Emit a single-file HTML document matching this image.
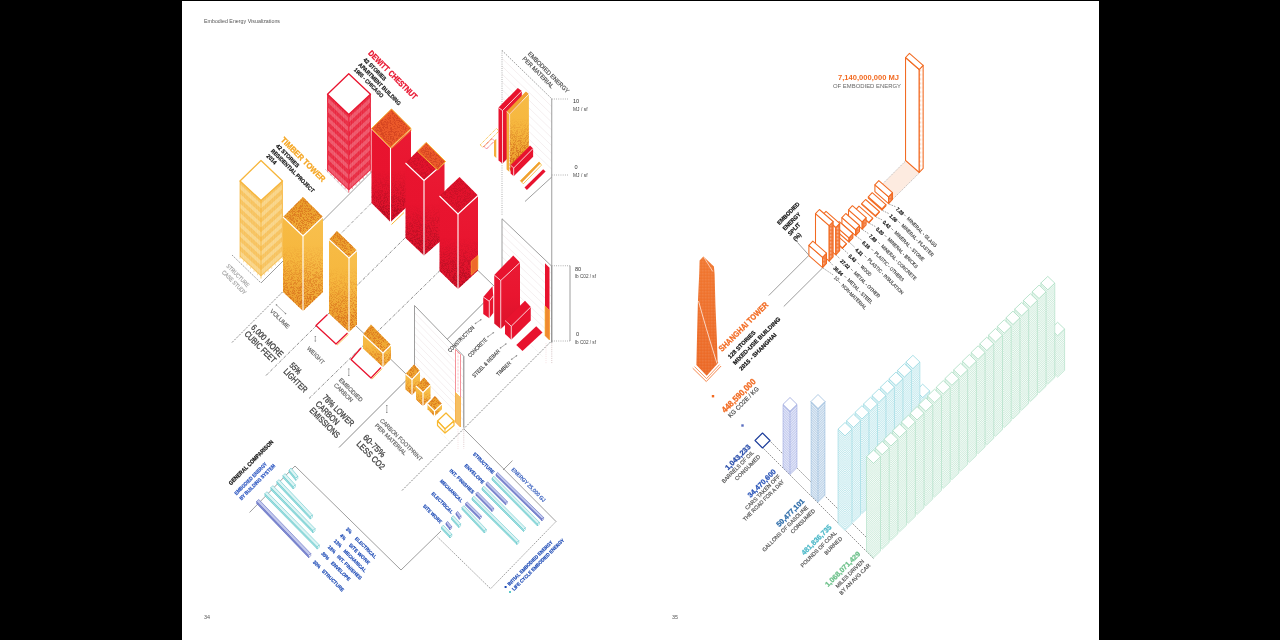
<!DOCTYPE html>
<html><head><meta charset="utf-8"><title>Embodied Energy Visualizations</title>
<style>
html,body{margin:0;padding:0;background:#fff;}
body{width:1280px;height:640px;overflow:hidden;position:relative;font-family:"Liberation Sans",sans-serif;}
svg{position:absolute;left:0;top:0;display:block;}
svg text{font-family:"Liberation Sans",sans-serif;}
</style></head><body>
<svg width="1280" height="640" viewBox="0 0 1280 640">
<defs>
<linearGradient id="gy" x1="0" y1="0" x2="0" y2="1"><stop offset="0" stop-color="#f7bb45"/><stop offset="0.45" stop-color="#f6b73e"/><stop offset="1" stop-color="#e9982a"/></linearGradient>
<linearGradient id="gy2" x1="0" y1="0" x2="0" y2="1"><stop offset="0" stop-color="#f8c04e"/><stop offset="0.45" stop-color="#f7bb45"/><stop offset="1" stop-color="#eca030"/></linearGradient>
<linearGradient id="gyt" x1="0" y1="0" x2="0" y2="1"><stop offset="0" stop-color="#e89a28"/><stop offset="1" stop-color="#f3b03a"/></linearGradient>
<linearGradient id="gr" x1="0" y1="0" x2="0" y2="1"><stop offset="0" stop-color="#e9142f"/><stop offset="0.5" stop-color="#e8132e"/><stop offset="1" stop-color="#d8122a"/></linearGradient>
<linearGradient id="gr2" x1="0" y1="0" x2="0" y2="1"><stop offset="0" stop-color="#ea1a34"/><stop offset="0.5" stop-color="#e9152f"/><stop offset="1" stop-color="#db122b"/></linearGradient>
<linearGradient id="go" x1="0" y1="0" x2="0" y2="1"><stop offset="0" stop-color="#f0732a"/><stop offset="1" stop-color="#ea6420"/></linearGradient>
<filter id="grain" x="0" y="0" width="100%" height="100%" color-interpolation-filters="sRGB"><feTurbulence type="fractalNoise" baseFrequency="2.7" numOctaves="1" seed="7" result="n"/><feColorMatrix in="n" type="matrix" values="0 0 0 0 0  0 0 0 0 0  0 0 0 0 0  0 0 0 7 -3.2" result="a"/><feComposite in="SourceGraphic" in2="a" operator="in"/></filter>
<linearGradient id="ggY" x1="0" y1="0" x2="0" y2="1"><stop offset="0.3" stop-color="#d8701c" stop-opacity="0"/><stop offset="1" stop-color="#d8701c" stop-opacity="1"/></linearGradient>
<linearGradient id="ggR" x1="0" y1="0" x2="0" y2="1"><stop offset="0.45" stop-color="#a30d1e" stop-opacity="0"/><stop offset="1" stop-color="#a30d1e" stop-opacity="0.8"/></linearGradient>
<pattern id="wgridY" width="1.6" height="1.6" patternUnits="userSpaceOnUse"><rect width="1.6" height="1.6" fill="#f6b53a"/><rect x="0.9" y="0.9" width="0.7" height="0.7" fill="#fff"/></pattern>
<pattern id="wgridR" width="1.6" height="1.6" patternUnits="userSpaceOnUse"><rect width="1.6" height="1.6" fill="#e8132e"/><rect x="0.9" y="0.9" width="0.7" height="0.7" fill="#fff"/></pattern>
<pattern id="dotW" width="1.5" height="1.5" patternUnits="userSpaceOnUse"><rect x="0.3" y="0.3" width="0.6" height="0.6" fill="#fff" fill-opacity="0.4"/></pattern>
<linearGradient id="ggO" x1="0" y1="0" x2="0" y2="1"><stop offset="0.3" stop-color="#c85a14" stop-opacity="0"/><stop offset="1" stop-color="#c85a14" stop-opacity="0.9"/></linearGradient>
<pattern id="hatL" width="1.3" height="1.3" patternUnits="userSpaceOnUse"><rect width="1.3" height="1.3" fill="#fff"/><rect width="0.5" height="0.6" fill="#f9b08a"/></pattern>
<pattern id="hatO" width="1.4" height="1.4" patternUnits="userSpaceOnUse"><rect width="1.4" height="1.4" fill="#f3793a"/><rect width="0.6" height="0.6" fill="#fbd0b8"/></pattern>
</defs>
<rect x="0" y="0" width="1280" height="640" fill="#fff"/>
<g opacity="0.999">

<rect x="0" y="0" width="182" height="640" fill="#000"/>
<rect x="1099" y="0" width="181" height="640" fill="#000"/>
<rect x="0" y="0" width="1280" height="1" fill="#000"/>
<text x="204" y="23.2" font-size="5.8" fill="#555" textLength="76" lengthAdjust="spacingAndGlyphs" text-anchor="start">Embodied Energy Visualizations</text>
<text x="204" y="619.3" font-size="5.3" fill="#555" textLength="6" lengthAdjust="spacingAndGlyphs" text-anchor="start">34</text>
<text x="672" y="619.3" font-size="5.3" fill="#555" textLength="6" lengthAdjust="spacingAndGlyphs" text-anchor="start">35</text>
<line x1="232.00" y1="342.50" x2="283.00" y2="291.50" stroke="#858585" stroke-width="0.95" stroke-dasharray="2 1.3" />
<line x1="266.00" y1="375.50" x2="406.00" y2="237.00" stroke="#858585" stroke-width="0.95" stroke-dasharray="3 1.2 0.8 1.2" />
<line x1="309.00" y1="398.50" x2="440.00" y2="270.50" stroke="#858585" stroke-width="0.95" stroke-dasharray="3 1.2 0.8 1.2" />
<line x1="339.00" y1="447.50" x2="485.00" y2="301.50" stroke="#858585" stroke-width="0.95" />
<line x1="402.00" y1="490.50" x2="551.50" y2="341.00" stroke="#858585" stroke-width="0.95" stroke-dasharray="2 1.3" />
<line x1="315.00" y1="228.50" x2="380.00" y2="163.50" stroke="#858585" stroke-width="0.8" />
<line x1="334.00" y1="240.50" x2="376.00" y2="198.50" stroke="#858585" stroke-width="0.8" stroke-dasharray="3 1.2 0.8 1.2" />
<line x1="232.00" y1="255.00" x2="261.00" y2="283.00" stroke="#858585" stroke-width="0.8" stroke-dasharray="1.5 1" />
<line x1="261.00" y1="283.00" x2="283.00" y2="261.00" stroke="#858585" stroke-width="0.8" />
<line x1="325.00" y1="169.00" x2="348.50" y2="193.00" stroke="#c8c8c8" stroke-width="0.6" />
<line x1="356.00" y1="326.00" x2="364.00" y2="333.50" stroke="#858585" stroke-width="0.8" />
<line x1="391.00" y1="359.50" x2="406.00" y2="374.00" stroke="#858585" stroke-width="0.8" />
<line x1="478.00" y1="270.50" x2="494.00" y2="286.00" stroke="#858585" stroke-width="0.8" />
<line x1="464.00" y1="429.00" x2="556.00" y2="521.50" stroke="#858585" stroke-width="0.8" />
<polygon points="502.00,50.50 551.75,98.75 551.75,177.00 502.00,128.75" fill="#fff" stroke="none" stroke-width="0.8" stroke-linejoin="round" />
<line x1="502.00" y1="58.33" x2="551.75" y2="106.58" stroke="#eadfe0" stroke-width="0.5" />
<line x1="502.00" y1="66.15" x2="551.75" y2="114.40" stroke="#eadfe0" stroke-width="0.5" />
<line x1="502.00" y1="73.97" x2="551.75" y2="122.22" stroke="#eadfe0" stroke-width="0.5" />
<line x1="502.00" y1="81.80" x2="551.75" y2="130.05" stroke="#eadfe0" stroke-width="0.5" />
<line x1="502.00" y1="89.62" x2="551.75" y2="137.88" stroke="#eadfe0" stroke-width="0.5" />
<line x1="502.00" y1="97.45" x2="551.75" y2="145.70" stroke="#eadfe0" stroke-width="0.5" />
<line x1="502.00" y1="105.28" x2="551.75" y2="153.53" stroke="#eadfe0" stroke-width="0.5" />
<line x1="502.00" y1="113.10" x2="551.75" y2="161.35" stroke="#eadfe0" stroke-width="0.5" />
<line x1="502.00" y1="120.92" x2="551.75" y2="169.18" stroke="#eadfe0" stroke-width="0.5" />
<line x1="502.00" y1="50.50" x2="551.75" y2="98.75" stroke="#858585" stroke-width="0.8" stroke-dasharray="1.6 1.2" />
<line x1="502.00" y1="50.50" x2="502.00" y2="128.75" stroke="#858585" stroke-width="0.8" stroke-dasharray="0.8 1.4" />
<line x1="551.75" y1="98.75" x2="551.75" y2="177.00" stroke="#858585" stroke-width="0.8" />
<line x1="502.00" y1="128.00" x2="502.00" y2="215.00" stroke="#858585" stroke-width="0.8" stroke-dasharray="0.8 1.4" />
<line x1="551.75" y1="177.00" x2="525.00" y2="201.50" stroke="#858585" stroke-width="0.8" />
<line x1="551.75" y1="99.00" x2="568.50" y2="99.00" stroke="#858585" stroke-width="0.8" stroke-dasharray="0.8 1.4" />
<line x1="551.75" y1="175.00" x2="568.50" y2="175.00" stroke="#858585" stroke-width="0.8" stroke-dasharray="0.8 1.4" />
<text x="573" y="103" font-size="5.6" fill="#333" text-anchor="start">10</text>
<text x="573" y="110.8" font-size="4.8" fill="#444" textLength="14.5" lengthAdjust="spacingAndGlyphs" text-anchor="start">MJ / sf</text>
<text x="574.5" y="169" font-size="5.6" fill="#333" text-anchor="start">0</text>
<text x="573" y="176.8" font-size="4.8" fill="#444" textLength="14.5" lengthAdjust="spacingAndGlyphs" text-anchor="start">MJ / sf</text>
<polygon points="502.00,218.75 551.75,266.25 551.75,342.50 502.00,295.00" fill="#fff" stroke="none" stroke-width="0.8" stroke-linejoin="round" />
<line x1="502.00" y1="226.38" x2="551.75" y2="273.88" stroke="#eadfe0" stroke-width="0.5" />
<line x1="502.00" y1="234.00" x2="551.75" y2="281.50" stroke="#eadfe0" stroke-width="0.5" />
<line x1="502.00" y1="241.62" x2="551.75" y2="289.12" stroke="#eadfe0" stroke-width="0.5" />
<line x1="502.00" y1="249.25" x2="551.75" y2="296.75" stroke="#eadfe0" stroke-width="0.5" />
<line x1="502.00" y1="256.88" x2="551.75" y2="304.38" stroke="#eadfe0" stroke-width="0.5" />
<line x1="502.00" y1="264.50" x2="551.75" y2="312.00" stroke="#eadfe0" stroke-width="0.5" />
<line x1="502.00" y1="272.12" x2="551.75" y2="319.62" stroke="#eadfe0" stroke-width="0.5" />
<line x1="502.00" y1="279.75" x2="551.75" y2="327.25" stroke="#eadfe0" stroke-width="0.5" />
<line x1="502.00" y1="287.38" x2="551.75" y2="334.88" stroke="#eadfe0" stroke-width="0.5" />
<line x1="502.00" y1="218.75" x2="551.75" y2="266.25" stroke="#858585" stroke-width="0.8" />
<line x1="502.00" y1="218.75" x2="502.00" y2="295.00" stroke="#858585" stroke-width="0.8" />
<line x1="551.75" y1="266.25" x2="551.75" y2="342.50" stroke="#858585" stroke-width="0.8" />
<line x1="551.75" y1="177.00" x2="551.75" y2="342.50" stroke="#858585" stroke-width="0.8" />
<line x1="551.75" y1="342.50" x2="551.75" y2="363.00" stroke="#c0c0c0" stroke-width="0.8" stroke-dasharray="0.8 1.4" />
<line x1="551.75" y1="265.75" x2="570.00" y2="265.75" stroke="#858585" stroke-width="0.8" stroke-dasharray="0.8 1.4" />
<line x1="551.75" y1="341.00" x2="570.00" y2="341.00" stroke="#858585" stroke-width="0.8" stroke-dasharray="0.8 1.4" />
<line x1="570.00" y1="265.75" x2="570.00" y2="341.00" stroke="#858585" stroke-width="0.8" />
<text x="575" y="271.2" font-size="5.6" fill="#333" text-anchor="start">80</text>
<text x="575" y="278" font-size="4.8" fill="#444" textLength="21" lengthAdjust="spacingAndGlyphs" text-anchor="start">lb C02 / sf</text>
<text x="576" y="336.3" font-size="5.6" fill="#333" text-anchor="start">0</text>
<text x="575" y="343.5" font-size="4.8" fill="#444" textLength="21" lengthAdjust="spacingAndGlyphs" text-anchor="start">lb C02 / sf</text>
<polygon points="414.50,305.50 463.75,356.25 463.75,427.50 414.50,376.75" fill="#fff" stroke="none" stroke-width="0.8" stroke-linejoin="round" />
<line x1="414.50" y1="312.62" x2="463.75" y2="363.38" stroke="#eadfe0" stroke-width="0.5" />
<line x1="414.50" y1="319.75" x2="463.75" y2="370.50" stroke="#eadfe0" stroke-width="0.5" />
<line x1="414.50" y1="326.88" x2="463.75" y2="377.62" stroke="#eadfe0" stroke-width="0.5" />
<line x1="414.50" y1="334.00" x2="463.75" y2="384.75" stroke="#eadfe0" stroke-width="0.5" />
<line x1="414.50" y1="341.12" x2="463.75" y2="391.88" stroke="#eadfe0" stroke-width="0.5" />
<line x1="414.50" y1="348.25" x2="463.75" y2="399.00" stroke="#eadfe0" stroke-width="0.5" />
<line x1="414.50" y1="355.38" x2="463.75" y2="406.12" stroke="#eadfe0" stroke-width="0.5" />
<line x1="414.50" y1="362.50" x2="463.75" y2="413.25" stroke="#eadfe0" stroke-width="0.5" />
<line x1="414.50" y1="369.62" x2="463.75" y2="420.38" stroke="#eadfe0" stroke-width="0.5" />
<line x1="414.50" y1="305.50" x2="463.75" y2="356.25" stroke="#858585" stroke-width="0.8" />
<line x1="414.50" y1="305.50" x2="414.50" y2="376.75" stroke="#858585" stroke-width="0.8" />
<line x1="463.75" y1="356.25" x2="463.75" y2="427.50" stroke="#858585" stroke-width="0.8" />
<polygon points="327.50,94.25 348.75,114.50 348.75,190.50 327.50,170.25" fill="#e9263e" stroke="none" stroke-width="0.8" stroke-linejoin="round" />
<polygon points="348.75,114.50 370.50,94.25 370.50,170.25 348.75,190.50" fill="#e9263e" stroke="none" stroke-width="0.8" stroke-linejoin="round" />
<polygon points="327.50,97.58 348.75,117.83 370.50,97.58 370.50,102.14 348.75,122.39 327.50,102.14" fill="#ee5266" stroke="none" stroke-width="0.8" stroke-linejoin="round" />
<polygon points="327.50,107.08 348.75,127.33 370.50,107.08 370.50,111.64 348.75,131.88 327.50,111.64" fill="#ee5266" stroke="none" stroke-width="0.8" stroke-linejoin="round" />
<polygon points="327.50,116.58 348.75,136.82 370.50,116.58 370.50,121.14 348.75,141.38 327.50,121.14" fill="#ee5266" stroke="none" stroke-width="0.8" stroke-linejoin="round" />
<polygon points="327.50,126.08 348.75,146.32 370.50,126.08 370.50,130.63 348.75,150.88 327.50,130.63" fill="#ee5266" stroke="none" stroke-width="0.8" stroke-linejoin="round" />
<polygon points="327.50,135.57 348.75,155.82 370.50,135.57 370.50,140.13 348.75,160.38 327.50,140.13" fill="#ee5266" stroke="none" stroke-width="0.8" stroke-linejoin="round" />
<polygon points="327.50,145.07 348.75,165.32 370.50,145.07 370.50,149.63 348.75,169.88 327.50,149.63" fill="#ee5266" stroke="none" stroke-width="0.8" stroke-linejoin="round" />
<polygon points="327.50,154.57 348.75,174.82 370.50,154.57 370.50,159.13 348.75,179.38 327.50,159.13" fill="#ee5266" stroke="none" stroke-width="0.8" stroke-linejoin="round" />
<polygon points="327.50,164.07 348.75,184.32 370.50,164.07 370.50,168.63 348.75,188.88 327.50,168.63" fill="#ee5266" stroke="none" stroke-width="0.8" stroke-linejoin="round" />
<line x1="329.27" y1="95.94" x2="329.27" y2="171.94" stroke="#fff" stroke-width="0.3" stroke-opacity="0.55" stroke-dasharray="0.8 0.5"/>
<line x1="350.56" y1="112.81" x2="350.56" y2="188.81" stroke="#fff" stroke-width="0.3" stroke-opacity="0.55" stroke-dasharray="0.8 0.5"/>
<line x1="331.04" y1="97.62" x2="331.04" y2="173.62" stroke="#fff" stroke-width="0.3" stroke-opacity="0.55" stroke-dasharray="0.8 0.5"/>
<line x1="352.38" y1="111.12" x2="352.38" y2="187.12" stroke="#fff" stroke-width="0.3" stroke-opacity="0.55" stroke-dasharray="0.8 0.5"/>
<line x1="332.81" y1="99.31" x2="332.81" y2="175.31" stroke="#fff" stroke-width="0.3" stroke-opacity="0.55" stroke-dasharray="0.8 0.5"/>
<line x1="354.19" y1="109.44" x2="354.19" y2="185.44" stroke="#fff" stroke-width="0.3" stroke-opacity="0.55" stroke-dasharray="0.8 0.5"/>
<line x1="334.58" y1="101.00" x2="334.58" y2="177.00" stroke="#fff" stroke-width="0.3" stroke-opacity="0.55" stroke-dasharray="0.8 0.5"/>
<line x1="356.00" y1="107.75" x2="356.00" y2="183.75" stroke="#fff" stroke-width="0.3" stroke-opacity="0.55" stroke-dasharray="0.8 0.5"/>
<line x1="336.35" y1="102.69" x2="336.35" y2="178.69" stroke="#fff" stroke-width="0.3" stroke-opacity="0.55" stroke-dasharray="0.8 0.5"/>
<line x1="357.81" y1="106.06" x2="357.81" y2="182.06" stroke="#fff" stroke-width="0.3" stroke-opacity="0.55" stroke-dasharray="0.8 0.5"/>
<line x1="338.12" y1="104.38" x2="338.12" y2="180.38" stroke="#fff" stroke-width="0.3" stroke-opacity="0.55" stroke-dasharray="0.8 0.5"/>
<line x1="359.62" y1="104.38" x2="359.62" y2="180.38" stroke="#fff" stroke-width="0.3" stroke-opacity="0.55" stroke-dasharray="0.8 0.5"/>
<line x1="339.90" y1="106.06" x2="339.90" y2="182.06" stroke="#fff" stroke-width="0.3" stroke-opacity="0.55" stroke-dasharray="0.8 0.5"/>
<line x1="361.44" y1="102.69" x2="361.44" y2="178.69" stroke="#fff" stroke-width="0.3" stroke-opacity="0.55" stroke-dasharray="0.8 0.5"/>
<line x1="341.67" y1="107.75" x2="341.67" y2="183.75" stroke="#fff" stroke-width="0.3" stroke-opacity="0.55" stroke-dasharray="0.8 0.5"/>
<line x1="363.25" y1="101.00" x2="363.25" y2="177.00" stroke="#fff" stroke-width="0.3" stroke-opacity="0.55" stroke-dasharray="0.8 0.5"/>
<line x1="343.44" y1="109.44" x2="343.44" y2="185.44" stroke="#fff" stroke-width="0.3" stroke-opacity="0.55" stroke-dasharray="0.8 0.5"/>
<line x1="365.06" y1="99.31" x2="365.06" y2="175.31" stroke="#fff" stroke-width="0.3" stroke-opacity="0.55" stroke-dasharray="0.8 0.5"/>
<line x1="345.21" y1="111.12" x2="345.21" y2="187.12" stroke="#fff" stroke-width="0.3" stroke-opacity="0.55" stroke-dasharray="0.8 0.5"/>
<line x1="366.88" y1="97.62" x2="366.88" y2="173.62" stroke="#fff" stroke-width="0.3" stroke-opacity="0.55" stroke-dasharray="0.8 0.5"/>
<line x1="346.98" y1="112.81" x2="346.98" y2="188.81" stroke="#fff" stroke-width="0.3" stroke-opacity="0.55" stroke-dasharray="0.8 0.5"/>
<line x1="368.69" y1="95.94" x2="368.69" y2="171.94" stroke="#fff" stroke-width="0.3" stroke-opacity="0.55" stroke-dasharray="0.8 0.5"/>
<line x1="348.75" y1="114.50" x2="348.75" y2="190.50" stroke="#e8132e" stroke-width="0.7" />
<line x1="327.50" y1="94.25" x2="327.50" y2="170.25" stroke="#e8132e" stroke-width="0.7" />
<line x1="370.50" y1="94.25" x2="370.50" y2="170.25" stroke="#e8132e" stroke-width="0.7" />
<line x1="327.50" y1="170.25" x2="327.50" y2="172.25" stroke="#e8132e" stroke-width="0.4" />
<line x1="348.75" y1="190.50" x2="348.75" y2="192.50" stroke="#e8132e" stroke-width="0.4" />
<line x1="331.04" y1="173.62" x2="331.04" y2="175.62" stroke="#e8132e" stroke-width="0.4" />
<line x1="352.38" y1="187.12" x2="352.38" y2="189.12" stroke="#e8132e" stroke-width="0.4" />
<line x1="334.58" y1="177.00" x2="334.58" y2="179.00" stroke="#e8132e" stroke-width="0.4" />
<line x1="356.00" y1="183.75" x2="356.00" y2="185.75" stroke="#e8132e" stroke-width="0.4" />
<line x1="338.12" y1="180.38" x2="338.12" y2="182.38" stroke="#e8132e" stroke-width="0.4" />
<line x1="359.62" y1="180.38" x2="359.62" y2="182.38" stroke="#e8132e" stroke-width="0.4" />
<line x1="341.67" y1="183.75" x2="341.67" y2="185.75" stroke="#e8132e" stroke-width="0.4" />
<line x1="363.25" y1="177.00" x2="363.25" y2="179.00" stroke="#e8132e" stroke-width="0.4" />
<line x1="345.21" y1="187.12" x2="345.21" y2="189.12" stroke="#e8132e" stroke-width="0.4" />
<line x1="366.88" y1="173.62" x2="366.88" y2="175.62" stroke="#e8132e" stroke-width="0.4" />
<line x1="348.75" y1="190.50" x2="348.75" y2="192.50" stroke="#e8132e" stroke-width="0.4" />
<line x1="370.50" y1="170.25" x2="370.50" y2="172.25" stroke="#e8132e" stroke-width="0.4" />
<polygon points="327.50,94.25 348.75,73.75 370.50,94.25 348.75,114.50" fill="#fff" stroke="#e8132e" stroke-width="1.3" stroke-linejoin="round" />
<polygon points="240.00,181.00 261.00,200.50 261.00,276.50 240.00,257.00" fill="#f7c25c" stroke="none" stroke-width="0.8" stroke-linejoin="round" />
<polygon points="261.00,200.50 282.50,181.00 282.50,257.00 261.00,276.50" fill="#f7c25c" stroke="none" stroke-width="0.8" stroke-linejoin="round" />
<polygon points="240.00,184.32 261.00,203.82 282.50,184.32 282.50,188.88 261.00,208.38 240.00,188.88" fill="#f9d485" stroke="none" stroke-width="0.8" stroke-linejoin="round" />
<polygon points="240.00,193.82 261.00,213.32 282.50,193.82 282.50,198.38 261.00,217.88 240.00,198.38" fill="#f9d485" stroke="none" stroke-width="0.8" stroke-linejoin="round" />
<polygon points="240.00,203.32 261.00,222.82 282.50,203.32 282.50,207.88 261.00,227.38 240.00,207.88" fill="#f9d485" stroke="none" stroke-width="0.8" stroke-linejoin="round" />
<polygon points="240.00,212.82 261.00,232.32 282.50,212.82 282.50,217.38 261.00,236.88 240.00,217.38" fill="#f9d485" stroke="none" stroke-width="0.8" stroke-linejoin="round" />
<polygon points="240.00,222.32 261.00,241.82 282.50,222.32 282.50,226.88 261.00,246.38 240.00,226.88" fill="#f9d485" stroke="none" stroke-width="0.8" stroke-linejoin="round" />
<polygon points="240.00,231.82 261.00,251.32 282.50,231.82 282.50,236.38 261.00,255.88 240.00,236.38" fill="#f9d485" stroke="none" stroke-width="0.8" stroke-linejoin="round" />
<polygon points="240.00,241.32 261.00,260.82 282.50,241.32 282.50,245.88 261.00,265.38 240.00,245.88" fill="#f9d485" stroke="none" stroke-width="0.8" stroke-linejoin="round" />
<polygon points="240.00,250.82 261.00,270.32 282.50,250.82 282.50,255.38 261.00,274.88 240.00,255.38" fill="#f9d485" stroke="none" stroke-width="0.8" stroke-linejoin="round" />
<line x1="241.75" y1="182.62" x2="241.75" y2="258.62" stroke="#fff" stroke-width="0.3" stroke-opacity="0.55" stroke-dasharray="0.8 0.5"/>
<line x1="262.79" y1="198.88" x2="262.79" y2="274.88" stroke="#fff" stroke-width="0.3" stroke-opacity="0.55" stroke-dasharray="0.8 0.5"/>
<line x1="243.50" y1="184.25" x2="243.50" y2="260.25" stroke="#fff" stroke-width="0.3" stroke-opacity="0.55" stroke-dasharray="0.8 0.5"/>
<line x1="264.58" y1="197.25" x2="264.58" y2="273.25" stroke="#fff" stroke-width="0.3" stroke-opacity="0.55" stroke-dasharray="0.8 0.5"/>
<line x1="245.25" y1="185.88" x2="245.25" y2="261.88" stroke="#fff" stroke-width="0.3" stroke-opacity="0.55" stroke-dasharray="0.8 0.5"/>
<line x1="266.38" y1="195.62" x2="266.38" y2="271.62" stroke="#fff" stroke-width="0.3" stroke-opacity="0.55" stroke-dasharray="0.8 0.5"/>
<line x1="247.00" y1="187.50" x2="247.00" y2="263.50" stroke="#fff" stroke-width="0.3" stroke-opacity="0.55" stroke-dasharray="0.8 0.5"/>
<line x1="268.17" y1="194.00" x2="268.17" y2="270.00" stroke="#fff" stroke-width="0.3" stroke-opacity="0.55" stroke-dasharray="0.8 0.5"/>
<line x1="248.75" y1="189.12" x2="248.75" y2="265.12" stroke="#fff" stroke-width="0.3" stroke-opacity="0.55" stroke-dasharray="0.8 0.5"/>
<line x1="269.96" y1="192.38" x2="269.96" y2="268.38" stroke="#fff" stroke-width="0.3" stroke-opacity="0.55" stroke-dasharray="0.8 0.5"/>
<line x1="250.50" y1="190.75" x2="250.50" y2="266.75" stroke="#fff" stroke-width="0.3" stroke-opacity="0.55" stroke-dasharray="0.8 0.5"/>
<line x1="271.75" y1="190.75" x2="271.75" y2="266.75" stroke="#fff" stroke-width="0.3" stroke-opacity="0.55" stroke-dasharray="0.8 0.5"/>
<line x1="252.25" y1="192.38" x2="252.25" y2="268.38" stroke="#fff" stroke-width="0.3" stroke-opacity="0.55" stroke-dasharray="0.8 0.5"/>
<line x1="273.54" y1="189.12" x2="273.54" y2="265.12" stroke="#fff" stroke-width="0.3" stroke-opacity="0.55" stroke-dasharray="0.8 0.5"/>
<line x1="254.00" y1="194.00" x2="254.00" y2="270.00" stroke="#fff" stroke-width="0.3" stroke-opacity="0.55" stroke-dasharray="0.8 0.5"/>
<line x1="275.33" y1="187.50" x2="275.33" y2="263.50" stroke="#fff" stroke-width="0.3" stroke-opacity="0.55" stroke-dasharray="0.8 0.5"/>
<line x1="255.75" y1="195.62" x2="255.75" y2="271.62" stroke="#fff" stroke-width="0.3" stroke-opacity="0.55" stroke-dasharray="0.8 0.5"/>
<line x1="277.12" y1="185.88" x2="277.12" y2="261.88" stroke="#fff" stroke-width="0.3" stroke-opacity="0.55" stroke-dasharray="0.8 0.5"/>
<line x1="257.50" y1="197.25" x2="257.50" y2="273.25" stroke="#fff" stroke-width="0.3" stroke-opacity="0.55" stroke-dasharray="0.8 0.5"/>
<line x1="278.92" y1="184.25" x2="278.92" y2="260.25" stroke="#fff" stroke-width="0.3" stroke-opacity="0.55" stroke-dasharray="0.8 0.5"/>
<line x1="259.25" y1="198.88" x2="259.25" y2="274.88" stroke="#fff" stroke-width="0.3" stroke-opacity="0.55" stroke-dasharray="0.8 0.5"/>
<line x1="280.71" y1="182.62" x2="280.71" y2="258.62" stroke="#fff" stroke-width="0.3" stroke-opacity="0.55" stroke-dasharray="0.8 0.5"/>
<line x1="261.00" y1="200.50" x2="261.00" y2="276.50" stroke="#f6b53a" stroke-width="0.7" />
<line x1="240.00" y1="181.00" x2="240.00" y2="257.00" stroke="#f6b53a" stroke-width="0.7" />
<line x1="282.50" y1="181.00" x2="282.50" y2="257.00" stroke="#f6b53a" stroke-width="0.7" />
<line x1="240.00" y1="257.00" x2="240.00" y2="259.00" stroke="#f6b53a" stroke-width="0.4" />
<line x1="261.00" y1="276.50" x2="261.00" y2="278.50" stroke="#f6b53a" stroke-width="0.4" />
<line x1="243.50" y1="260.25" x2="243.50" y2="262.25" stroke="#f6b53a" stroke-width="0.4" />
<line x1="264.58" y1="273.25" x2="264.58" y2="275.25" stroke="#f6b53a" stroke-width="0.4" />
<line x1="247.00" y1="263.50" x2="247.00" y2="265.50" stroke="#f6b53a" stroke-width="0.4" />
<line x1="268.17" y1="270.00" x2="268.17" y2="272.00" stroke="#f6b53a" stroke-width="0.4" />
<line x1="250.50" y1="266.75" x2="250.50" y2="268.75" stroke="#f6b53a" stroke-width="0.4" />
<line x1="271.75" y1="266.75" x2="271.75" y2="268.75" stroke="#f6b53a" stroke-width="0.4" />
<line x1="254.00" y1="270.00" x2="254.00" y2="272.00" stroke="#f6b53a" stroke-width="0.4" />
<line x1="275.33" y1="263.50" x2="275.33" y2="265.50" stroke="#f6b53a" stroke-width="0.4" />
<line x1="257.50" y1="273.25" x2="257.50" y2="275.25" stroke="#f6b53a" stroke-width="0.4" />
<line x1="278.92" y1="260.25" x2="278.92" y2="262.25" stroke="#f6b53a" stroke-width="0.4" />
<line x1="261.00" y1="276.50" x2="261.00" y2="278.50" stroke="#f6b53a" stroke-width="0.4" />
<line x1="282.50" y1="257.00" x2="282.50" y2="259.00" stroke="#f6b53a" stroke-width="0.4" />
<polygon points="240.00,181.00 261.00,160.50 282.50,181.00 261.00,200.50" fill="#fff" stroke="#f6b53a" stroke-width="1.3" stroke-linejoin="round" />
<line x1="391.50" y1="224.50" x2="404.00" y2="212.50" stroke="#f8b830" stroke-width="1.0" />
<polygon points="371.50,128.50 390.50,147.50 390.50,222.00 371.50,203.00" fill="url(#gr)" stroke="none" stroke-width="0.8" stroke-linejoin="round" />
<polygon points="390.50,147.50 411.00,128.50 411.00,203.00 390.50,222.00" fill="url(#gr2)" stroke="none" stroke-width="0.8" stroke-linejoin="round" />
<polygon points="371.50,128.50 391.50,109.00 411.00,128.50 390.50,147.50" fill="#e2122c" stroke="none" stroke-width="0.8" stroke-linejoin="round" />
<g filter="url(#grain)">
<polygon points="371.50,128.50 390.50,147.50 411.00,128.50 411.00,203.00 390.50,222.00 371.50,203.00" fill="url(#ggR)" stroke="none" stroke-width="0.8" stroke-linejoin="round" />
</g>
<g filter="url(#grain)">
<polygon points="371.50,128.50 391.50,109.00 411.00,128.50 390.50,147.50" fill="#b00f20" stroke="none" stroke-width="0.8" stroke-linejoin="round" fill-opacity="0.4"/>
</g>
<polyline points="371.50,128.50 390.50,147.50 411.00,128.50" fill="none" stroke="#fff" stroke-width="1.1" stroke-linejoin="round"/>
<line x1="390.50" y1="147.50" x2="390.50" y2="222.00" stroke="#fff" stroke-width="1.1" />
<polygon points="371.50,128.50 391.50,109.00 411.00,128.50 390.50,147.50" fill="#ec5a2a" stroke="#f8b830" stroke-width="1.0" stroke-linejoin="round" />
<g filter="url(#grain)">
<polygon points="372.50,128.50 391.50,110.00 410.00,128.50 390.50,146.50" fill="#c8381c" stroke="none" stroke-width="0.8" stroke-linejoin="round" fill-opacity="0.6"/>
</g>
<line x1="391.50" y1="148.50" x2="412.00" y2="129.50" stroke="#f8b830" stroke-width="0.7" />
<polygon points="405.50,163.00 424.00,180.50 424.00,255.50 405.50,238.00" fill="url(#gr)" stroke="none" stroke-width="0.8" stroke-linejoin="round" />
<polygon points="424.00,180.50 444.50,162.50 444.50,237.50 424.00,255.50" fill="url(#gr2)" stroke="none" stroke-width="0.8" stroke-linejoin="round" />
<polygon points="405.50,163.00 426.00,142.50 444.50,162.50 424.00,180.50" fill="#e2122c" stroke="none" stroke-width="0.8" stroke-linejoin="round" />
<g filter="url(#grain)">
<polygon points="405.50,163.00 424.00,180.50 444.50,162.50 444.50,237.50 424.00,255.50 405.50,238.00" fill="url(#ggR)" stroke="none" stroke-width="0.8" stroke-linejoin="round" />
</g>
<g filter="url(#grain)">
<polygon points="405.50,163.00 426.00,142.50 444.50,162.50 424.00,180.50" fill="#b00f20" stroke="none" stroke-width="0.8" stroke-linejoin="round" fill-opacity="0.4"/>
</g>
<polyline points="405.50,163.00 424.00,180.50 444.50,162.50" fill="none" stroke="#fff" stroke-width="1.1" stroke-linejoin="round"/>
<line x1="424.00" y1="180.50" x2="424.00" y2="255.50" stroke="#fff" stroke-width="1.1" />
<polygon points="426.25,142.50 445.50,161.50 437.50,170.00 417.50,151.25" fill="#ec5a2a" stroke="#f8b830" stroke-width="1.0" stroke-linejoin="round" />
<g filter="url(#grain)">
<polygon points="426.25,143.50 444.50,161.50 437.50,169.00 418.50,151.25" fill="#c8381c" stroke="none" stroke-width="0.8" stroke-linejoin="round" fill-opacity="0.6"/>
</g>
<polygon points="439.50,196.00 458.00,214.00 458.00,289.00 439.50,271.00" fill="url(#gr)" stroke="none" stroke-width="0.8" stroke-linejoin="round" />
<polygon points="458.00,214.00 478.00,195.50 478.00,270.50 458.00,289.00" fill="url(#gr2)" stroke="none" stroke-width="0.8" stroke-linejoin="round" />
<polygon points="439.50,196.00 459.50,177.00 478.00,195.50 458.00,214.00" fill="#e2122c" stroke="none" stroke-width="0.8" stroke-linejoin="round" />
<g filter="url(#grain)">
<polygon points="439.50,196.00 458.00,214.00 478.00,195.50 478.00,270.50 458.00,289.00 439.50,271.00" fill="url(#ggR)" stroke="none" stroke-width="0.8" stroke-linejoin="round" />
</g>
<g filter="url(#grain)">
<polygon points="439.50,196.00 459.50,177.00 478.00,195.50 458.00,214.00" fill="#b00f20" stroke="none" stroke-width="0.8" stroke-linejoin="round" fill-opacity="0.4"/>
</g>
<polyline points="439.50,196.00 458.00,214.00 478.00,195.50" fill="none" stroke="#fff" stroke-width="1.1" stroke-linejoin="round"/>
<line x1="458.00" y1="214.00" x2="458.00" y2="289.00" stroke="#fff" stroke-width="1.1" />
<polygon points="471.25,261.25 478.00,255.50 478.00,268.75 471.25,275.00" fill="#ee6a2a" stroke="#f8b830" stroke-width="0.6" stroke-linejoin="round" />
<polygon points="283.00,217.00 303.00,236.00 303.00,311.00 283.00,292.00" fill="url(#gy)" stroke="none" stroke-width="0.8" stroke-linejoin="round" />
<polygon points="303.00,236.00 323.00,217.00 323.00,292.00 303.00,311.00" fill="url(#gy2)" stroke="none" stroke-width="0.8" stroke-linejoin="round" />
<polygon points="283.00,217.00 303.00,197.00 323.00,217.00 303.00,236.00" fill="url(#gyt)" stroke="none" stroke-width="0.8" stroke-linejoin="round" />
<g filter="url(#grain)">
<polygon points="283.00,217.00 303.00,236.00 323.00,217.00 323.00,292.00 303.00,311.00 283.00,292.00" fill="url(#ggY)" stroke="none" stroke-width="0.8" stroke-linejoin="round" />
</g>
<g filter="url(#grain)">
<polygon points="283.00,217.00 303.00,197.00 323.00,217.00 303.00,236.00" fill="#d8701c" stroke="none" stroke-width="0.8" stroke-linejoin="round" fill-opacity="0.75"/>
</g>
<polyline points="283.00,217.00 303.00,236.00 323.00,217.00" fill="none" stroke="#fff" stroke-width="1.1" stroke-linejoin="round"/>
<line x1="303.00" y1="236.00" x2="303.00" y2="311.00" stroke="#fff" stroke-width="1.1" />
<polygon points="329.00,239.50 349.00,258.00 349.00,332.00 329.00,313.50" fill="url(#gy)" stroke="none" stroke-width="0.8" stroke-linejoin="round" />
<polygon points="349.00,258.00 357.00,250.50 357.00,324.50 349.00,332.00" fill="url(#gy2)" stroke="none" stroke-width="0.8" stroke-linejoin="round" />
<polygon points="329.00,239.50 337.00,231.00 357.00,250.50 349.00,258.00" fill="url(#gyt)" stroke="none" stroke-width="0.8" stroke-linejoin="round" />
<g filter="url(#grain)">
<polygon points="329.00,239.50 349.00,258.00 357.00,250.50 357.00,324.50 349.00,332.00 329.00,313.50" fill="url(#ggY)" stroke="none" stroke-width="0.8" stroke-linejoin="round" />
</g>
<g filter="url(#grain)">
<polygon points="329.00,239.50 337.00,231.00 357.00,250.50 349.00,258.00" fill="#d8701c" stroke="none" stroke-width="0.8" stroke-linejoin="round" fill-opacity="0.75"/>
</g>
<polyline points="329.00,239.50 349.00,258.00 357.00,250.50" fill="none" stroke="#fff" stroke-width="1.1" stroke-linejoin="round"/>
<line x1="349.00" y1="258.00" x2="349.00" y2="332.00" stroke="#fff" stroke-width="1.1" />
<line x1="337.00" y1="345.20" x2="348.50" y2="334.20" stroke="#f8b830" stroke-width="0.8" />
<polyline points="327.50,314.50 316.00,325.50 336.00,344.00 347.50,333.00" fill="#fff" stroke="#e8132e" stroke-width="1.3" stroke-linejoin="round"/>
<polygon points="363.00,334.50 383.00,353.00 383.00,367.00 363.00,348.50" fill="url(#gy)" stroke="none" stroke-width="0.8" stroke-linejoin="round" />
<polygon points="383.00,353.00 391.00,345.00 391.00,359.00 383.00,367.00" fill="url(#gy2)" stroke="none" stroke-width="0.8" stroke-linejoin="round" />
<polygon points="363.00,334.50 371.00,324.50 391.00,345.00 383.00,353.00" fill="url(#gyt)" stroke="none" stroke-width="0.8" stroke-linejoin="round" />
<g filter="url(#grain)">
<polygon points="363.00,334.50 383.00,353.00 391.00,345.00 391.00,359.00 383.00,367.00 363.00,348.50" fill="url(#ggY)" stroke="none" stroke-width="0.8" stroke-linejoin="round" />
</g>
<g filter="url(#grain)">
<polygon points="363.00,334.50 371.00,324.50 391.00,345.00 383.00,353.00" fill="#d8701c" stroke="none" stroke-width="0.8" stroke-linejoin="round" fill-opacity="0.75"/>
</g>
<polyline points="363.00,334.50 383.00,353.00 391.00,345.00" fill="none" stroke="#fff" stroke-width="1.1" stroke-linejoin="round"/>
<line x1="383.00" y1="353.00" x2="383.00" y2="367.00" stroke="#fff" stroke-width="1.1" />
<line x1="372.00" y1="379.20" x2="382.00" y2="368.70" stroke="#f8b830" stroke-width="0.8" />
<polyline points="361.00,348.00 351.00,359.50 371.00,378.00 381.00,367.50" fill="#fff" stroke="#e8132e" stroke-width="1.3" stroke-linejoin="round"/>
<polygon points="405.50,374.00 412.00,379.50 412.00,395.00 405.50,389.50" fill="url(#gy)" stroke="none" stroke-width="0.8" stroke-linejoin="round" />
<polygon points="412.00,379.50 420.00,371.00 420.00,386.50 412.00,395.00" fill="url(#gy2)" stroke="none" stroke-width="0.8" stroke-linejoin="round" />
<polygon points="405.50,374.00 414.00,364.50 420.00,371.00 412.00,379.50" fill="url(#gyt)" stroke="none" stroke-width="0.8" stroke-linejoin="round" />
<g filter="url(#grain)">
<polygon points="405.50,374.00 412.00,379.50 420.00,371.00 420.00,386.50 412.00,395.00 405.50,389.50" fill="url(#ggY)" stroke="none" stroke-width="0.8" stroke-linejoin="round" />
</g>
<g filter="url(#grain)">
<polygon points="405.50,374.00 414.00,364.50 420.00,371.00 412.00,379.50" fill="#d8701c" stroke="none" stroke-width="0.8" stroke-linejoin="round" fill-opacity="0.75"/>
</g>
<polyline points="405.50,374.00 412.00,379.50 420.00,371.00" fill="none" stroke="#fff" stroke-width="1.1" stroke-linejoin="round"/>
<line x1="412.00" y1="379.50" x2="412.00" y2="395.00" stroke="#fff" stroke-width="1.1" />
<polygon points="416.00,386.00 423.00,392.50 423.00,406.00 416.00,399.50" fill="url(#gy)" stroke="none" stroke-width="0.8" stroke-linejoin="round" />
<polygon points="423.00,392.50 430.50,385.00 430.50,398.50 423.00,406.00" fill="url(#gy2)" stroke="none" stroke-width="0.8" stroke-linejoin="round" />
<polygon points="416.00,386.00 424.00,377.50 430.50,385.00 423.00,392.50" fill="url(#gyt)" stroke="none" stroke-width="0.8" stroke-linejoin="round" />
<g filter="url(#grain)">
<polygon points="416.00,386.00 423.00,392.50 430.50,385.00 430.50,398.50 423.00,406.00 416.00,399.50" fill="url(#ggY)" stroke="none" stroke-width="0.8" stroke-linejoin="round" />
</g>
<g filter="url(#grain)">
<polygon points="416.00,386.00 424.00,377.50 430.50,385.00 423.00,392.50" fill="#d8701c" stroke="none" stroke-width="0.8" stroke-linejoin="round" fill-opacity="0.75"/>
</g>
<polyline points="416.00,386.00 423.00,392.50 430.50,385.00" fill="none" stroke="#fff" stroke-width="1.1" stroke-linejoin="round"/>
<line x1="423.00" y1="392.50" x2="423.00" y2="406.00" stroke="#fff" stroke-width="1.1" />
<polygon points="427.50,404.00 434.50,411.00 434.50,416.20 427.50,409.20" fill="url(#gy)" stroke="none" stroke-width="0.8" stroke-linejoin="round" />
<polygon points="434.50,411.00 442.00,404.00 442.00,409.20 434.50,416.20" fill="url(#gy2)" stroke="none" stroke-width="0.8" stroke-linejoin="round" />
<polygon points="427.50,404.00 435.00,396.00 442.00,404.00 434.50,411.00" fill="url(#gyt)" stroke="none" stroke-width="0.8" stroke-linejoin="round" />
<g filter="url(#grain)">
<polygon points="427.50,404.00 434.50,411.00 442.00,404.00 442.00,409.20 434.50,416.20 427.50,409.20" fill="url(#ggY)" stroke="none" stroke-width="0.8" stroke-linejoin="round" />
</g>
<g filter="url(#grain)">
<polygon points="427.50,404.00 435.00,396.00 442.00,404.00 434.50,411.00" fill="#d8701c" stroke="none" stroke-width="0.8" stroke-linejoin="round" fill-opacity="0.75"/>
</g>
<polyline points="427.50,404.00 434.50,411.00 442.00,404.00" fill="none" stroke="#fff" stroke-width="1.1" stroke-linejoin="round"/>
<line x1="434.50" y1="411.00" x2="434.50" y2="416.20" stroke="#fff" stroke-width="1.1" />
<polygon points="437.50,421.00 446.00,413.00 454.00,421.00 445.00,429.00" fill="#fff" stroke="#f8b830" stroke-width="1.2" stroke-linejoin="round" />
<polygon points="437.50,421.00 445.00,429.00 454.00,421.00 454.00,425.50 445.00,433.00 437.50,425.50" fill="#fff" stroke="#f8b830" stroke-width="1.2" stroke-linejoin="round" />
<line x1="445.00" y1="429.00" x2="445.00" y2="433.00" stroke="#f8b830" stroke-width="0.9" />
<polygon points="455.50,349.50 460.50,354.50 460.50,427.00 455.50,422.00" fill="#fff" stroke="#ef4a55" stroke-width="0.6" stroke-linejoin="round" />
<line x1="458.00" y1="352.00" x2="458.00" y2="392.00" stroke="#ef4a55" stroke-width="0.5" stroke-dasharray="0.6 0.8" />
<polygon points="455.50,392.50 460.50,397.50 460.50,427.00 455.50,422.00" fill="#f6bf62" stroke="#f8b830" stroke-width="0.6" stroke-linejoin="round" />
<line x1="463.75" y1="356.25" x2="463.75" y2="427.50" stroke="#a0a0a0" stroke-width="0.8" />
<line x1="463.75" y1="428.50" x2="463.75" y2="448.00" stroke="#d0d0d0" stroke-width="0.8" stroke-dasharray="0.8 1.4" />
<line x1="458.00" y1="429.00" x2="458.00" y2="449.00" stroke="#ecc4c8" stroke-width="0.6" stroke-dasharray="0.7 1.2" />
<line x1="463.75" y1="429.00" x2="463.75" y2="449.00" stroke="#ecc4c8" stroke-width="0.6" stroke-dasharray="0.7 1.2" />
<line x1="546.00" y1="343.00" x2="546.00" y2="364.00" stroke="#ecc4c8" stroke-width="0.6" stroke-dasharray="0.7 1.2" />
<line x1="551.75" y1="343.00" x2="551.75" y2="364.00" stroke="#ecc4c8" stroke-width="0.6" stroke-dasharray="0.7 1.2" />
<line x1="440.00" y1="432.00" x2="452.00" y2="444.00" stroke="#dcdcdc" stroke-width="0.6" stroke-dasharray="0.7 1.2" />
<line x1="531.00" y1="345.00" x2="543.00" y2="357.00" stroke="#dcdcdc" stroke-width="0.6" stroke-dasharray="0.7 1.2" />
<polygon points="480.20,144.80 496.40,128.50 499.00,131.00 482.80,147.50" fill="none" stroke="#f8b830" stroke-width="0.9" stroke-linejoin="round" stroke-dasharray="1.2 0.8"/>
<polygon points="484.00,146.50 492.00,138.50 494.50,141.00 486.50,149.00" fill="none" stroke="#e8132e" stroke-width="0.8" stroke-linejoin="round" stroke-dasharray="1 0.8"/>
<polygon points="494.00,141.00 496.30,138.70 496.30,158.00 494.00,156.00" fill="#f4ae3c" stroke="none" stroke-width="0.8" stroke-linejoin="round" />
<polygon points="498.50,107.60 502.50,110.60 502.50,163.60 498.50,160.60" fill="#e8132e" stroke="none" stroke-width="0.8" stroke-linejoin="round" />
<polygon points="502.50,110.60 521.80,90.90 521.80,143.90 502.50,163.60" fill="url(#gr2)" stroke="none" stroke-width="0.8" stroke-linejoin="round" />
<polygon points="498.50,107.60 517.80,87.90 521.80,90.90 502.50,110.60" fill="#e8132e" stroke="none" stroke-width="0.8" stroke-linejoin="round" />
<polyline points="498.50,107.60 502.50,110.60 521.80,90.90" fill="none" stroke="#fff" stroke-width="0.7" stroke-linejoin="round"/>
<line x1="502.50" y1="110.60" x2="502.50" y2="163.60" stroke="#fff" stroke-width="0.7" />
<polygon points="506.60,111.50 509.60,114.10 509.60,172.10 506.60,169.50" fill="#f3ab38" stroke="none" stroke-width="0.8" stroke-linejoin="round" />
<polygon points="509.60,114.10 528.90,94.10 528.90,152.10 509.60,172.10" fill="url(#gy)" stroke="none" stroke-width="0.8" stroke-linejoin="round" />
<polygon points="506.60,111.50 525.90,91.50 528.90,94.10 509.60,114.10" fill="#f0a030" stroke="none" stroke-width="0.8" stroke-linejoin="round" />
<polyline points="506.60,111.50 509.60,114.10 528.90,94.10" fill="none" stroke="#fff" stroke-width="0.7" stroke-linejoin="round"/>
<line x1="509.60" y1="114.10" x2="509.60" y2="172.10" stroke="#fff" stroke-width="0.7" />
<g filter="url(#grain)">
<polygon points="509.60,114.10 528.90,94.10 528.90,152.10 509.60,172.10" fill="url(#ggO)" stroke="none" stroke-width="0.8" stroke-linejoin="round" />
</g>
<polygon points="510.60,165.20 513.70,168.00 513.70,176.30 510.60,173.50" fill="#e8132e" stroke="none" stroke-width="0.8" stroke-linejoin="round" />
<polygon points="513.70,168.00 533.10,148.40 533.10,156.70 513.70,176.30" fill="#e8132e" stroke="none" stroke-width="0.8" stroke-linejoin="round" />
<polygon points="510.60,165.20 530.00,145.60 533.10,148.40 513.70,168.00" fill="#e8132e" stroke="none" stroke-width="0.8" stroke-linejoin="round" />
<polyline points="510.60,165.20 513.70,168.00 533.10,148.40" fill="none" stroke="#fff" stroke-width="0.7" stroke-linejoin="round"/>
<line x1="513.70" y1="168.00" x2="513.70" y2="176.30" stroke="#fff" stroke-width="0.7" />
<polygon points="520.40,180.80 539.10,161.90 541.50,165.10 523.30,183.80" fill="#fff" stroke="#f8b830" stroke-width="0.8" stroke-linejoin="round" />
<polygon points="520.40,180.80 539.10,161.90 540.50,163.60 522.00,182.40" fill="#f0a030" stroke="none" stroke-width="0.8" stroke-linejoin="round" />
<polygon points="524.50,187.50 543.20,169.20 545.60,171.60 526.90,190.00" fill="#e8132e" stroke="none" stroke-width="0.8" stroke-linejoin="round" />
<polygon points="545.00,263.25 549.50,267.75 549.50,340.00 545.00,335.50" fill="#e8132e" stroke="none" stroke-width="0.8" stroke-linejoin="round" />
<polygon points="545.00,306.00 549.50,310.50 549.50,340.00 545.00,335.50" fill="#f08a30" stroke="#f8b830" stroke-width="0.6" stroke-linejoin="round" />
<polygon points="483.25,297.00 489.25,301.25 489.25,318.25 483.25,314.00" fill="#e8132e" stroke="none" stroke-width="0.8" stroke-linejoin="round" />
<polygon points="489.25,301.25 493.25,296.00 493.25,313.00 489.25,318.25" fill="#e8132e" stroke="none" stroke-width="0.8" stroke-linejoin="round" />
<polygon points="483.25,297.00 492.50,286.25 493.25,296.00 489.25,301.25" fill="#e8132e" stroke="none" stroke-width="0.8" stroke-linejoin="round" />
<polyline points="483.25,297.00 489.25,301.25 493.25,296.00" fill="none" stroke="#fff" stroke-width="0.7" stroke-linejoin="round"/>
<line x1="489.25" y1="301.25" x2="489.25" y2="318.25" stroke="#fff" stroke-width="0.7" />
<polygon points="494.25,275.00 500.75,280.50 500.75,329.00 494.25,323.50" fill="url(#gr)" stroke="none" stroke-width="0.8" stroke-linejoin="round" />
<polygon points="500.75,280.50 520.00,262.50 520.00,311.00 500.75,329.00" fill="url(#gr2)" stroke="none" stroke-width="0.8" stroke-linejoin="round" />
<polygon points="494.25,275.00 513.25,255.50 520.00,262.50 500.75,280.50" fill="#e8132e" stroke="none" stroke-width="0.8" stroke-linejoin="round" />
<polyline points="494.25,275.00 500.75,280.50 520.00,262.50" fill="none" stroke="#fff" stroke-width="0.7" stroke-linejoin="round"/>
<line x1="500.75" y1="280.50" x2="500.75" y2="329.00" stroke="#fff" stroke-width="0.7" />
<polygon points="505.00,320.50 511.25,326.25 511.25,339.75 505.00,334.00" fill="#e8132e" stroke="none" stroke-width="0.8" stroke-linejoin="round" />
<polygon points="511.25,326.25 530.75,307.00 530.75,320.50 511.25,339.75" fill="#e8132e" stroke="none" stroke-width="0.8" stroke-linejoin="round" />
<polygon points="505.00,320.50 525.00,300.75 530.75,307.00 511.25,326.25" fill="#e8132e" stroke="none" stroke-width="0.8" stroke-linejoin="round" />
<polyline points="505.00,320.50 511.25,326.25 530.75,307.00" fill="none" stroke="#fff" stroke-width="0.7" stroke-linejoin="round"/>
<line x1="511.25" y1="326.25" x2="511.25" y2="339.75" stroke="#fff" stroke-width="0.7" />
<polygon points="516.25,345.00 536.25,326.25 542.50,332.50 522.50,351.00" fill="#e8132e" stroke="none" stroke-width="0.8" stroke-linejoin="round" />
<text transform="translate(369.50,52.00) rotate(45.0)" font-size="8.25" fill="#e8132e" stroke="#e8132e" stroke-width="0.27" font-weight="bold" textLength="65.43" lengthAdjust="spacingAndGlyphs" dominant-baseline="central">DEWITT CHESTNUT</text>
<text transform="translate(364.50,58.75) rotate(45.0)" font-size="5.72" fill="#111" stroke="#111" stroke-width="0.19" font-weight="bold" textLength="29.55" lengthAdjust="spacingAndGlyphs" dominant-baseline="central">42 STORIES</text>
<text transform="translate(359.50,63.75) rotate(45.0)" font-size="5.72" fill="#111" stroke="#111" stroke-width="0.19" font-weight="bold" textLength="57.30" lengthAdjust="spacingAndGlyphs" dominant-baseline="central">APARTMENT BUILDING</text>
<text transform="translate(355.00,68.75) rotate(45.0)" font-size="5.72" fill="#111" stroke="#111" stroke-width="0.19" font-weight="bold" textLength="39.27" lengthAdjust="spacingAndGlyphs" dominant-baseline="central">1965 - CHICAGO</text>
<text transform="translate(282.00,138.75) rotate(45.0)" font-size="8.25" fill="#f5a623" stroke="#f5a623" stroke-width="0.27" font-weight="bold" textLength="59.23" lengthAdjust="spacingAndGlyphs" dominant-baseline="central">TIMBER TOWER</text>
<text transform="translate(277.00,145.00) rotate(45.0)" font-size="5.72" fill="#111" stroke="#111" stroke-width="0.19" font-weight="bold" textLength="30.41" lengthAdjust="spacingAndGlyphs" dominant-baseline="central">42 STORIES</text>
<text transform="translate(272.00,150.00) rotate(45.0)" font-size="5.72" fill="#111" stroke="#111" stroke-width="0.19" font-weight="bold" textLength="58.73" lengthAdjust="spacingAndGlyphs" dominant-baseline="central">RESIDENTIAL PROJECT</text>
<text transform="translate(267.50,155.00) rotate(45.0)" font-size="5.72" fill="#111" stroke="#111" stroke-width="0.19" font-weight="bold" textLength="11.86" lengthAdjust="spacingAndGlyphs" dominant-baseline="central">2014</text>
<text transform="translate(529.25,52.50) rotate(45.0)" font-size="6.16" fill="#505050" stroke="#505050" stroke-width="0.19" textLength="55.38" lengthAdjust="spacingAndGlyphs" dominant-baseline="central">EMBODIED ENERGY</text>
<text transform="translate(523.75,57.50) rotate(45.0)" font-size="6.16" fill="#505050" stroke="#505050" stroke-width="0.19" textLength="41.55" lengthAdjust="spacingAndGlyphs" dominant-baseline="central">PER MATERIAL</text>
<text transform="translate(227.50,265.00) rotate(45.0)" font-size="5.94" fill="#a2a2a2" stroke="#a2a2a2" stroke-width="0.18" textLength="29.71" lengthAdjust="spacingAndGlyphs" dominant-baseline="central">STRUCTURE</text>
<text transform="translate(223.00,271.25) rotate(45.0)" font-size="5.94" fill="#a2a2a2" stroke="#a2a2a2" stroke-width="0.18" textLength="31.50" lengthAdjust="spacingAndGlyphs" dominant-baseline="central">CASE STUDY</text>
<text transform="translate(271.00,310.00) rotate(45.0)" font-size="5.94" fill="#686868" stroke="#686868" stroke-width="0.18" textLength="25.10" lengthAdjust="spacingAndGlyphs" dominant-baseline="central">VOLUME</text>
<text transform="translate(252.50,326.00) rotate(45.0)" font-size="8.69" fill="#3a3a3a" stroke="#3a3a3a" stroke-width="0.27" textLength="41.73" lengthAdjust="spacingAndGlyphs" dominant-baseline="central">6,000 MORE</text>
<text transform="translate(246.00,332.50) rotate(45.0)" font-size="8.69" fill="#3a3a3a" stroke="#3a3a3a" stroke-width="0.27" textLength="40.66" lengthAdjust="spacingAndGlyphs" dominant-baseline="central">CUBIC FEET</text>
<text transform="translate(308.00,347.50) rotate(45.0)" font-size="5.94" fill="#686868" stroke="#686868" stroke-width="0.18" textLength="22.10" lengthAdjust="spacingAndGlyphs" dominant-baseline="central">WEIGHT</text>
<text transform="translate(291.00,364.00) rotate(45.0)" font-size="8.69" fill="#3a3a3a" stroke="#3a3a3a" stroke-width="0.27" textLength="12.73" lengthAdjust="spacingAndGlyphs" dominant-baseline="central">55%</text>
<text transform="translate(285.00,370.00) rotate(45.0)" font-size="8.69" fill="#3a3a3a" stroke="#3a3a3a" stroke-width="0.27" textLength="29.70" lengthAdjust="spacingAndGlyphs" dominant-baseline="central">LIGHTER</text>
<text transform="translate(340.00,379.00) rotate(45.0)" font-size="5.94" fill="#686868" stroke="#686868" stroke-width="0.18" textLength="30.78" lengthAdjust="spacingAndGlyphs" dominant-baseline="central">EMBODIED</text>
<text transform="translate(335.00,384.00) rotate(45.0)" font-size="5.94" fill="#686868" stroke="#686868" stroke-width="0.18" textLength="24.04" lengthAdjust="spacingAndGlyphs" dominant-baseline="central">CARBON</text>
<text transform="translate(324.00,396.00) rotate(45.0)" font-size="8.69" fill="#3a3a3a" stroke="#3a3a3a" stroke-width="0.27" textLength="40.66" lengthAdjust="spacingAndGlyphs" dominant-baseline="central">78% LOWER</text>
<text transform="translate(317.00,402.50) rotate(45.0)" font-size="8.69" fill="#3a3a3a" stroke="#3a3a3a" stroke-width="0.27" textLength="29.70" lengthAdjust="spacingAndGlyphs" dominant-baseline="central">CARBON</text>
<text transform="translate(311.00,409.00) rotate(45.0)" font-size="8.69" fill="#3a3a3a" stroke="#3a3a3a" stroke-width="0.27" textLength="38.95" lengthAdjust="spacingAndGlyphs" dominant-baseline="central">EMISSIONS</text>
<text transform="translate(381.00,419.50) rotate(45.0)" font-size="5.94" fill="#686868" stroke="#686868" stroke-width="0.18" textLength="57.29" lengthAdjust="spacingAndGlyphs" dominant-baseline="central">CARBON FOOTPRINT</text>
<text transform="translate(376.00,424.50) rotate(45.0)" font-size="5.94" fill="#686868" stroke="#686868" stroke-width="0.18" textLength="42.07" lengthAdjust="spacingAndGlyphs" dominant-baseline="central">PER MATERIAL</text>
<text transform="translate(364.50,436.00) rotate(45.0)" font-size="8.69" fill="#3a3a3a" stroke="#3a3a3a" stroke-width="0.27" textLength="27.93" lengthAdjust="spacingAndGlyphs" dominant-baseline="central">60-75%</text>
<text transform="translate(358.00,442.50) rotate(45.0)" font-size="8.69" fill="#3a3a3a" stroke="#3a3a3a" stroke-width="0.27" textLength="36.07" lengthAdjust="spacingAndGlyphs" dominant-baseline="central">LESS  CO2</text>
<text transform="translate(448.75,351.25) rotate(-45.0)" font-size="5.50" fill="#444" stroke="#444" stroke-width="0.17" textLength="34.83" lengthAdjust="spacingAndGlyphs" dominant-baseline="central">CONSTRUCTION</text>
<text transform="translate(468.75,356.25) rotate(-45.0)" font-size="5.50" fill="#444" stroke="#444" stroke-width="0.17" textLength="24.75" lengthAdjust="spacingAndGlyphs" dominant-baseline="central">CONCRETE</text>
<text transform="translate(473.00,376.25) rotate(-45.0)" font-size="5.50" fill="#444" stroke="#444" stroke-width="0.17" textLength="36.77" lengthAdjust="spacingAndGlyphs" dominant-baseline="central">STEEL &amp; REBAR</text>
<text transform="translate(497.00,375.00) rotate(-45.0)" font-size="5.50" fill="#444" stroke="#444" stroke-width="0.17" textLength="18.38" lengthAdjust="spacingAndGlyphs" dominant-baseline="central">TIMBER</text>
<line x1="475.00" y1="323.75" x2="481.25" y2="319.50" stroke="#666" stroke-width="0.5" />
<line x1="475.00" y1="323.75" x2="476.29" y2="323.62" stroke="#666" stroke-width="0.5" />
<line x1="475.00" y1="323.75" x2="475.59" y2="322.59" stroke="#666" stroke-width="0.5" />
<line x1="481.25" y1="319.50" x2="479.96" y2="319.63" stroke="#666" stroke-width="0.5" />
<line x1="481.25" y1="319.50" x2="480.66" y2="320.66" stroke="#666" stroke-width="0.5" />
<line x1="487.50" y1="337.00" x2="493.75" y2="332.50" stroke="#666" stroke-width="0.5" />
<line x1="487.50" y1="337.00" x2="488.79" y2="336.84" stroke="#666" stroke-width="0.5" />
<line x1="487.50" y1="337.00" x2="488.06" y2="335.83" stroke="#666" stroke-width="0.5" />
<line x1="493.75" y1="332.50" x2="492.46" y2="332.66" stroke="#666" stroke-width="0.5" />
<line x1="493.75" y1="332.50" x2="493.19" y2="333.67" stroke="#666" stroke-width="0.5" />
<line x1="500.00" y1="348.25" x2="506.25" y2="343.75" stroke="#666" stroke-width="0.5" />
<line x1="500.00" y1="348.25" x2="501.29" y2="348.09" stroke="#666" stroke-width="0.5" />
<line x1="500.00" y1="348.25" x2="500.56" y2="347.08" stroke="#666" stroke-width="0.5" />
<line x1="506.25" y1="343.75" x2="504.96" y2="343.91" stroke="#666" stroke-width="0.5" />
<line x1="506.25" y1="343.75" x2="505.69" y2="344.92" stroke="#666" stroke-width="0.5" />
<line x1="511.25" y1="359.50" x2="517.00" y2="355.50" stroke="#666" stroke-width="0.5" />
<line x1="511.25" y1="359.50" x2="512.54" y2="359.36" stroke="#666" stroke-width="0.5" />
<line x1="511.25" y1="359.50" x2="511.83" y2="358.34" stroke="#666" stroke-width="0.5" />
<line x1="517.00" y1="355.50" x2="515.71" y2="355.64" stroke="#666" stroke-width="0.5" />
<line x1="517.00" y1="355.50" x2="516.42" y2="356.66" stroke="#666" stroke-width="0.5" />
<line x1="276.00" y1="304.50" x2="286.00" y2="314.00" stroke="#666" stroke-width="0.5" />
<line x1="276.00" y1="304.50" x2="276.40" y2="305.74" stroke="#666" stroke-width="0.5" />
<line x1="276.00" y1="304.50" x2="277.26" y2="304.83" stroke="#666" stroke-width="0.5" />
<line x1="286.00" y1="314.00" x2="285.60" y2="312.76" stroke="#666" stroke-width="0.5" />
<line x1="286.00" y1="314.00" x2="284.74" y2="313.67" stroke="#666" stroke-width="0.5" />
<line x1="315.30" y1="336.00" x2="315.30" y2="341.50" stroke="#666" stroke-width="0.5" />
<line x1="315.30" y1="336.00" x2="314.82" y2="336.88" stroke="#666" stroke-width="0.5" />
<line x1="315.30" y1="336.00" x2="315.78" y2="336.88" stroke="#666" stroke-width="0.5" />
<line x1="315.30" y1="341.50" x2="315.78" y2="340.62" stroke="#666" stroke-width="0.5" />
<line x1="315.30" y1="341.50" x2="314.82" y2="340.62" stroke="#666" stroke-width="0.5" />
<line x1="348.80" y1="368.50" x2="348.80" y2="376.00" stroke="#666" stroke-width="0.5" />
<line x1="348.80" y1="368.50" x2="348.32" y2="369.38" stroke="#666" stroke-width="0.5" />
<line x1="348.80" y1="368.50" x2="349.28" y2="369.38" stroke="#666" stroke-width="0.5" />
<line x1="348.80" y1="376.00" x2="349.28" y2="375.12" stroke="#666" stroke-width="0.5" />
<line x1="348.80" y1="376.00" x2="348.32" y2="375.12" stroke="#666" stroke-width="0.5" />
<line x1="386.80" y1="405.00" x2="386.80" y2="413.00" stroke="#666" stroke-width="0.5" />
<line x1="386.80" y1="405.00" x2="386.32" y2="405.88" stroke="#666" stroke-width="0.5" />
<line x1="386.80" y1="405.00" x2="387.28" y2="405.88" stroke="#666" stroke-width="0.5" />
<line x1="386.80" y1="413.00" x2="387.28" y2="412.12" stroke="#666" stroke-width="0.5" />
<line x1="386.80" y1="413.00" x2="386.32" y2="412.12" stroke="#666" stroke-width="0.5" />
<text transform="translate(229.50,484.00) rotate(-45.0)" font-size="5.83" fill="#111" stroke="#111" stroke-width="0.19" font-weight="bold" textLength="60.81" lengthAdjust="spacingAndGlyphs" dominant-baseline="central">GENERAL COMPARISON</text>
<text transform="translate(235.00,494.00) rotate(-45.0)" font-size="5.28" fill="#2a55c0" stroke="#2a55c0" stroke-width="0.17" font-weight="bold" textLength="43.84" lengthAdjust="spacingAndGlyphs" dominant-baseline="central">EMBODIED ENERGY</text>
<text transform="translate(240.00,499.00) rotate(-45.0)" font-size="5.28" fill="#2a55c0" stroke="#2a55c0" stroke-width="0.17" font-weight="bold" textLength="48.44" lengthAdjust="spacingAndGlyphs" dominant-baseline="central">BY BUILDING SYSTEM</text>
<polyline points="249.50,512.50 295.00,466.00 401.00,570.00 441.00,531.00" fill="none" stroke="#858585" stroke-width="0.8" stroke-linejoin="round"/>
<polygon points="289.00,470.00 295.80,478.20 295.80,480.40 289.00,472.20" fill="#9adedf" stroke="#5cc4c8" stroke-width="0.55" stroke-linejoin="round" />
<polygon points="289.00,470.00 291.00,468.00 297.80,476.20 295.80,478.20" fill="#dcf4f4" stroke="#5cc4c8" stroke-width="0.55" stroke-linejoin="round" />
<polygon points="295.80,478.20 297.80,476.20 297.80,478.40 295.80,480.40" fill="#fff" stroke="#5cc4c8" stroke-width="0.55" stroke-linejoin="round" />
<polygon points="283.00,475.60 293.30,486.80 293.30,489.00 283.00,477.80" fill="#9adedf" stroke="#5cc4c8" stroke-width="0.55" stroke-linejoin="round" />
<polygon points="283.00,475.60 285.00,473.60 295.30,484.80 293.30,486.80" fill="#dcf4f4" stroke="#5cc4c8" stroke-width="0.55" stroke-linejoin="round" />
<polygon points="293.30,486.80 295.30,484.80 295.30,487.00 293.30,489.00" fill="#fff" stroke="#5cc4c8" stroke-width="0.55" stroke-linejoin="round" />
<polygon points="276.90,481.60 310.40,516.90 310.40,519.10 276.90,483.80" fill="#9adedf" stroke="#5cc4c8" stroke-width="0.55" stroke-linejoin="round" />
<polygon points="276.90,481.60 278.90,479.60 312.40,514.90 310.40,516.90" fill="#dcf4f4" stroke="#5cc4c8" stroke-width="0.55" stroke-linejoin="round" />
<polygon points="310.40,516.90 312.40,514.90 312.40,517.10 310.40,519.10" fill="#fff" stroke="#5cc4c8" stroke-width="0.55" stroke-linejoin="round" />
<polygon points="270.90,487.60 313.00,530.60 313.00,532.80 270.90,489.80" fill="#9adedf" stroke="#5cc4c8" stroke-width="0.55" stroke-linejoin="round" />
<polygon points="270.90,487.60 272.90,485.60 315.00,528.60 313.00,530.60" fill="#dcf4f4" stroke="#5cc4c8" stroke-width="0.55" stroke-linejoin="round" />
<polygon points="313.00,530.60 315.00,528.60 315.00,530.80 313.00,532.80" fill="#fff" stroke="#5cc4c8" stroke-width="0.55" stroke-linejoin="round" />
<polygon points="264.90,493.70 317.30,546.90 317.30,549.10 264.90,495.90" fill="#9adedf" stroke="#5cc4c8" stroke-width="0.55" stroke-linejoin="round" />
<polygon points="264.90,493.70 266.90,491.70 319.30,544.90 317.30,546.90" fill="#dcf4f4" stroke="#5cc4c8" stroke-width="0.55" stroke-linejoin="round" />
<polygon points="317.30,546.90 319.30,544.90 319.30,547.10 317.30,549.10" fill="#fff" stroke="#5cc4c8" stroke-width="0.55" stroke-linejoin="round" />
<polygon points="256.70,501.40 308.70,555.50 308.70,557.70 256.70,503.60" fill="#7f8ad2" stroke="#5562bc" stroke-width="0.55" stroke-linejoin="round" />
<polygon points="256.70,501.40 258.70,499.40 310.70,553.50 308.70,555.50" fill="#c3c9ee" stroke="#5562bc" stroke-width="0.55" stroke-linejoin="round" />
<polygon points="308.70,555.50 310.70,553.50 310.70,555.70 308.70,557.70" fill="#fff" stroke="#5562bc" stroke-width="0.55" stroke-linejoin="round" />
<text transform="translate(347.00,528.00) rotate(45.0)" font-size="5.06" fill="#1a48b4" stroke="#1a48b4" stroke-width="0.17" font-weight="bold" textLength="6.40" lengthAdjust="spacingAndGlyphs" dominant-baseline="central">3%</text>
<text transform="translate(356.00,537.50) rotate(45.0)" font-size="5.06" fill="#1a48b4" stroke="#1a48b4" stroke-width="0.17" font-weight="bold" textLength="28.28" lengthAdjust="spacingAndGlyphs" dominant-baseline="central">ELECTRICAL</text>
<text transform="translate(341.00,534.50) rotate(45.0)" font-size="5.06" fill="#1a48b4" stroke="#1a48b4" stroke-width="0.17" font-weight="bold" textLength="6.40" lengthAdjust="spacingAndGlyphs" dominant-baseline="central">4%</text>
<text transform="translate(350.00,544.00) rotate(45.0)" font-size="5.06" fill="#1a48b4" stroke="#1a48b4" stroke-width="0.17" font-weight="bold" textLength="27.24" lengthAdjust="spacingAndGlyphs" dominant-baseline="central">SITE WORK</text>
<text transform="translate(335.00,540.00) rotate(45.0)" font-size="5.06" fill="#1a48b4" stroke="#1a48b4" stroke-width="0.17" font-weight="bold" textLength="9.00" lengthAdjust="spacingAndGlyphs" dominant-baseline="central">13%</text>
<text transform="translate(344.50,550.00) rotate(45.0)" font-size="5.06" fill="#1a48b4" stroke="#1a48b4" stroke-width="0.17" font-weight="bold" textLength="30.05" lengthAdjust="spacingAndGlyphs" dominant-baseline="central">MECHANICAL</text>
<text transform="translate(329.00,546.00) rotate(45.0)" font-size="5.06" fill="#1a48b4" stroke="#1a48b4" stroke-width="0.17" font-weight="bold" textLength="9.00" lengthAdjust="spacingAndGlyphs" dominant-baseline="central">18%</text>
<text transform="translate(338.00,555.50) rotate(45.0)" font-size="5.06" fill="#1a48b4" stroke="#1a48b4" stroke-width="0.17" font-weight="bold" textLength="32.90" lengthAdjust="spacingAndGlyphs" dominant-baseline="central">INT. FINISHES</text>
<text transform="translate(322.50,552.50) rotate(45.0)" font-size="5.06" fill="#1a48b4" stroke="#1a48b4" stroke-width="0.17" font-weight="bold" textLength="9.00" lengthAdjust="spacingAndGlyphs" dominant-baseline="central">30%</text>
<text transform="translate(332.00,562.00) rotate(45.0)" font-size="5.06" fill="#1a48b4" stroke="#1a48b4" stroke-width="0.17" font-weight="bold" textLength="25.10" lengthAdjust="spacingAndGlyphs" dominant-baseline="central">ENVELOPE</text>
<text transform="translate(314.00,561.00) rotate(45.0)" font-size="5.06" fill="#1a48b4" stroke="#1a48b4" stroke-width="0.17" font-weight="bold" textLength="9.00" lengthAdjust="spacingAndGlyphs" dominant-baseline="central">30%</text>
<text transform="translate(323.00,570.00) rotate(45.0)" font-size="5.06" fill="#1a48b4" stroke="#1a48b4" stroke-width="0.17" font-weight="bold" textLength="29.00" lengthAdjust="spacingAndGlyphs" dominant-baseline="central">STRUCTURE</text>
<polyline points="556.00,521.50 490.60,588.75 437.50,537.00" fill="none" stroke="#858585" stroke-width="0.8" stroke-dasharray="1.6 1.1" stroke-linejoin="round"/>
<line x1="512.50" y1="460.60" x2="503.00" y2="470.00" stroke="#858585" stroke-width="0.8" />
<text transform="translate(512.50,468.50) rotate(45.0)" font-size="5.50" fill="#1a48b4" stroke="#1a48b4" stroke-width="0.17" textLength="45.68" lengthAdjust="spacingAndGlyphs" dominant-baseline="central">ENERGY 25,000 GJ</text>
<text transform="translate(474.00,453.00) rotate(45.0)" font-size="5.06" fill="#1a48b4" stroke="#1a48b4" stroke-width="0.17" font-weight="bold" textLength="27.93" lengthAdjust="spacingAndGlyphs" dominant-baseline="central">STRUCTURE</text>
<text transform="translate(465.50,464.50) rotate(45.0)" font-size="5.06" fill="#1a48b4" stroke="#1a48b4" stroke-width="0.17" font-weight="bold" textLength="25.81" lengthAdjust="spacingAndGlyphs" dominant-baseline="central">ENVELOPE</text>
<text transform="translate(450.50,469.50) rotate(45.0)" font-size="5.06" fill="#1a48b4" stroke="#1a48b4" stroke-width="0.17" font-weight="bold" textLength="32.88" lengthAdjust="spacingAndGlyphs" dominant-baseline="central">INT. FINISHES</text>
<text transform="translate(441.00,480.00) rotate(45.0)" font-size="5.06" fill="#1a48b4" stroke="#1a48b4" stroke-width="0.17" font-weight="bold" textLength="30.05" lengthAdjust="spacingAndGlyphs" dominant-baseline="central">MECHANICAL</text>
<text transform="translate(432.50,492.50) rotate(45.0)" font-size="5.06" fill="#1a48b4" stroke="#1a48b4" stroke-width="0.17" font-weight="bold" textLength="28.28" lengthAdjust="spacingAndGlyphs" dominant-baseline="central">ELECTRICAL</text>
<text transform="translate(424.00,505.00) rotate(45.0)" font-size="5.06" fill="#1a48b4" stroke="#1a48b4" stroke-width="0.17" font-weight="bold" textLength="24.40" lengthAdjust="spacingAndGlyphs" dominant-baseline="central">SITE WORK</text>
<polygon points="496.00,474.00 542.00,519.00 542.00,520.80 496.00,475.80" fill="#7f8ad2" stroke="#5562bc" stroke-width="0.55" stroke-linejoin="round" />
<polygon points="496.00,474.00 497.60,472.40 543.60,517.40 542.00,519.00" fill="#c3c9ee" stroke="#5562bc" stroke-width="0.55" stroke-linejoin="round" />
<polygon points="542.00,519.00 543.60,517.40 543.60,519.20 542.00,520.80" fill="#fff" stroke="#5562bc" stroke-width="0.55" stroke-linejoin="round" />
<polygon points="492.00,478.00 537.50,524.00 537.50,526.00 492.00,480.00" fill="#9adedf" stroke="#5cc4c8" stroke-width="0.55" stroke-linejoin="round" />
<polygon points="492.00,478.00 493.80,476.20 539.30,522.20 537.50,524.00" fill="#dcf4f4" stroke="#5cc4c8" stroke-width="0.55" stroke-linejoin="round" />
<polygon points="537.50,524.00 539.30,522.20 539.30,524.20 537.50,526.00" fill="#fff" stroke="#5cc4c8" stroke-width="0.55" stroke-linejoin="round" />
<polygon points="486.00,483.50 505.60,503.00 505.60,504.80 486.00,485.30" fill="#7f8ad2" stroke="#5562bc" stroke-width="0.55" stroke-linejoin="round" />
<polygon points="486.00,483.50 487.60,481.90 507.20,501.40 505.60,503.00" fill="#c3c9ee" stroke="#5562bc" stroke-width="0.55" stroke-linejoin="round" />
<polygon points="505.60,503.00 507.20,501.40 507.20,503.20 505.60,504.80" fill="#fff" stroke="#5562bc" stroke-width="0.55" stroke-linejoin="round" />
<polygon points="482.00,488.00 523.50,529.50 523.50,531.50 482.00,490.00" fill="#9adedf" stroke="#5cc4c8" stroke-width="0.55" stroke-linejoin="round" />
<polygon points="482.00,488.00 483.80,486.20 525.30,527.70 523.50,529.50" fill="#dcf4f4" stroke="#5cc4c8" stroke-width="0.55" stroke-linejoin="round" />
<polygon points="523.50,529.50 525.30,527.70 525.30,529.70 523.50,531.50" fill="#fff" stroke="#5cc4c8" stroke-width="0.55" stroke-linejoin="round" />
<polygon points="476.00,493.50 492.00,509.70 492.00,511.50 476.00,495.30" fill="#7f8ad2" stroke="#5562bc" stroke-width="0.55" stroke-linejoin="round" />
<polygon points="476.00,493.50 477.60,491.90 493.60,508.10 492.00,509.70" fill="#c3c9ee" stroke="#5562bc" stroke-width="0.55" stroke-linejoin="round" />
<polygon points="492.00,509.70 493.60,508.10 493.60,509.90 492.00,511.50" fill="#fff" stroke="#5562bc" stroke-width="0.55" stroke-linejoin="round" />
<polygon points="472.00,498.00 517.00,542.50 517.00,544.50 472.00,500.00" fill="#9adedf" stroke="#5cc4c8" stroke-width="0.55" stroke-linejoin="round" />
<polygon points="472.00,498.00 473.80,496.20 518.80,540.70 517.00,542.50" fill="#dcf4f4" stroke="#5cc4c8" stroke-width="0.55" stroke-linejoin="round" />
<polygon points="517.00,542.50 518.80,540.70 518.80,542.70 517.00,544.50" fill="#fff" stroke="#5cc4c8" stroke-width="0.55" stroke-linejoin="round" />
<polygon points="465.60,503.50 479.70,517.50 479.70,519.30 465.60,505.30" fill="#7f8ad2" stroke="#5562bc" stroke-width="0.55" stroke-linejoin="round" />
<polygon points="465.60,503.50 467.20,501.90 481.30,515.90 479.70,517.50" fill="#c3c9ee" stroke="#5562bc" stroke-width="0.55" stroke-linejoin="round" />
<polygon points="479.70,517.50 481.30,515.90 481.30,517.70 479.70,519.30" fill="#fff" stroke="#5562bc" stroke-width="0.55" stroke-linejoin="round" />
<polygon points="462.00,507.50 484.40,531.00 484.40,533.00 462.00,509.50" fill="#9adedf" stroke="#5cc4c8" stroke-width="0.55" stroke-linejoin="round" />
<polygon points="462.00,507.50 463.80,505.70 486.20,529.20 484.40,531.00" fill="#dcf4f4" stroke="#5cc4c8" stroke-width="0.55" stroke-linejoin="round" />
<polygon points="484.40,531.00 486.20,529.20 486.20,531.20 484.40,533.00" fill="#fff" stroke="#5cc4c8" stroke-width="0.55" stroke-linejoin="round" />
<polygon points="456.00,513.00 459.40,517.50 459.40,519.30 456.00,514.80" fill="#7f8ad2" stroke="#5562bc" stroke-width="0.55" stroke-linejoin="round" />
<polygon points="456.00,513.00 457.60,511.40 461.00,515.90 459.40,517.50" fill="#c3c9ee" stroke="#5562bc" stroke-width="0.55" stroke-linejoin="round" />
<polygon points="459.40,517.50 461.00,515.90 461.00,517.70 459.40,519.30" fill="#fff" stroke="#5562bc" stroke-width="0.55" stroke-linejoin="round" />
<polygon points="451.50,517.50 458.75,525.60 458.75,527.60 451.50,519.50" fill="#9adedf" stroke="#5cc4c8" stroke-width="0.55" stroke-linejoin="round" />
<polygon points="451.50,517.50 453.30,515.70 460.55,523.80 458.75,525.60" fill="#dcf4f4" stroke="#5cc4c8" stroke-width="0.55" stroke-linejoin="round" />
<polygon points="458.75,525.60 460.55,523.80 460.55,525.80 458.75,527.60" fill="#fff" stroke="#5cc4c8" stroke-width="0.55" stroke-linejoin="round" />
<polygon points="446.00,523.00 450.00,528.00 450.00,529.80 446.00,524.80" fill="#7f8ad2" stroke="#5562bc" stroke-width="0.55" stroke-linejoin="round" />
<polygon points="446.00,523.00 447.60,521.40 451.60,526.40 450.00,528.00" fill="#c3c9ee" stroke="#5562bc" stroke-width="0.55" stroke-linejoin="round" />
<polygon points="450.00,528.00 451.60,526.40 451.60,528.20 450.00,529.80" fill="#fff" stroke="#5562bc" stroke-width="0.55" stroke-linejoin="round" />
<polygon points="441.50,527.00 450.00,536.00 450.00,538.00 441.50,529.00" fill="#9adedf" stroke="#5cc4c8" stroke-width="0.55" stroke-linejoin="round" />
<polygon points="441.50,527.00 443.30,525.20 451.80,534.20 450.00,536.00" fill="#dcf4f4" stroke="#5cc4c8" stroke-width="0.55" stroke-linejoin="round" />
<polygon points="450.00,536.00 451.80,534.20 451.80,536.20 450.00,538.00" fill="#fff" stroke="#5cc4c8" stroke-width="0.55" stroke-linejoin="round" />
<rect x="504.6" y="586" width="2" height="2" fill="#1a48b4"/>
<rect x="509" y="591" width="2" height="2" fill="#5cc8c8"/>
<text transform="translate(508.50,585.00) rotate(-45.0)" font-size="4.95" fill="#1a48b4" stroke="#1a48b4" stroke-width="0.16" font-weight="bold" textLength="61.52" lengthAdjust="spacingAndGlyphs" dominant-baseline="central">INITIAL EMBODIED ENERGY</text>
<text transform="translate(513.00,590.00) rotate(-45.0)" font-size="4.95" fill="#1a48b4" stroke="#1a48b4" stroke-width="0.16" font-weight="bold" textLength="71.42" lengthAdjust="spacingAndGlyphs" dominant-baseline="central">LIFE CYCLE EMBODIED ENERGY</text>
<polygon points="905.00,161.50 919.25,173.00 893.00,199.00 879.00,187.50" fill="#fdebe0" stroke="none" stroke-width="0.8" stroke-linejoin="round" />
<line x1="905.00" y1="161.50" x2="879.00" y2="187.50" stroke="#a0a0a0" stroke-width="0.6" stroke-dasharray="1.5 1" />
<line x1="919.25" y1="173.00" x2="893.00" y2="199.00" stroke="#a0a0a0" stroke-width="0.6" stroke-dasharray="1.5 1" />
<polygon points="905.55,57.50 919.25,69.50 919.25,172.50 905.55,160.50" fill="#fff" stroke="#f26a21" stroke-width="1.05" stroke-linejoin="round" />
<polygon points="919.25,69.50 923.15,65.30 923.15,168.30 919.25,172.50" fill="url(#hatL)" stroke="#f26a21" stroke-width="1.05" stroke-linejoin="round" />
<polygon points="905.55,57.50 909.45,53.30 923.15,65.30 919.25,69.50" fill="#fff" stroke="#f26a21" stroke-width="1.05" stroke-linejoin="round" />
<polygon points="874.90,184.80 888.60,196.80 888.60,203.60 874.90,191.60" fill="#fff" stroke="#f26a21" stroke-width="1.05" stroke-linejoin="round" />
<polygon points="888.60,196.80 892.50,192.60 892.50,199.40 888.60,203.60" fill="url(#hatO)" stroke="#f26a21" stroke-width="1.05" stroke-linejoin="round" />
<polygon points="874.90,184.80 878.80,180.60 892.50,192.60 888.60,196.80" fill="#fff" stroke="#f26a21" stroke-width="1.05" stroke-linejoin="round" />
<polygon points="868.30,196.90 882.00,208.90 882.00,210.00 868.30,198.00" fill="#fff" stroke="#f26a21" stroke-width="1.05" stroke-linejoin="round" />
<polygon points="882.00,208.90 885.90,204.70 885.90,205.80 882.00,210.00" fill="url(#hatO)" stroke="#f26a21" stroke-width="1.05" stroke-linejoin="round" />
<polygon points="868.30,196.90 872.20,192.70 885.90,204.70 882.00,208.90" fill="#fff" stroke="#f26a21" stroke-width="1.05" stroke-linejoin="round" />
<polygon points="861.70,203.70 875.40,215.70 875.40,216.40 861.70,204.40" fill="#fff" stroke="#f26a21" stroke-width="1.05" stroke-linejoin="round" />
<polygon points="875.40,215.70 879.30,211.50 879.30,212.20 875.40,216.40" fill="url(#hatO)" stroke="#f26a21" stroke-width="1.05" stroke-linejoin="round" />
<polygon points="861.70,203.70 865.60,199.50 879.30,211.50 875.40,215.70" fill="#fff" stroke="#f26a21" stroke-width="1.05" stroke-linejoin="round" />
<polygon points="855.10,210.30 868.80,222.30 868.80,222.80 855.10,210.80" fill="#fff" stroke="#f26a21" stroke-width="1.05" stroke-linejoin="round" />
<polygon points="868.80,222.30 872.70,218.10 872.70,218.60 868.80,222.80" fill="url(#hatO)" stroke="#f26a21" stroke-width="1.05" stroke-linejoin="round" />
<polygon points="855.10,210.30 859.00,206.10 872.70,218.10 868.80,222.30" fill="#fff" stroke="#f26a21" stroke-width="1.05" stroke-linejoin="round" />
<polygon points="848.50,209.90 862.20,221.90 862.20,229.20 848.50,217.20" fill="#fff" stroke="#f26a21" stroke-width="1.05" stroke-linejoin="round" />
<polygon points="862.20,221.90 866.10,217.70 866.10,225.00 862.20,229.20" fill="url(#hatO)" stroke="#f26a21" stroke-width="1.05" stroke-linejoin="round" />
<polygon points="848.50,209.90 852.40,205.70 866.10,217.70 862.20,221.90" fill="#fff" stroke="#f26a21" stroke-width="1.05" stroke-linejoin="round" />
<polygon points="841.90,217.70 855.60,229.70 855.60,235.60 841.90,223.60" fill="#fff" stroke="#f26a21" stroke-width="1.05" stroke-linejoin="round" />
<polygon points="855.60,229.70 859.50,225.50 859.50,231.40 855.60,235.60" fill="url(#hatO)" stroke="#f26a21" stroke-width="1.05" stroke-linejoin="round" />
<polygon points="841.90,217.70 845.80,213.50 859.50,225.50 855.60,229.70" fill="#fff" stroke="#f26a21" stroke-width="1.05" stroke-linejoin="round" />
<polygon points="835.30,225.90 849.00,237.90 849.00,242.00 835.30,230.00" fill="#fff" stroke="#f26a21" stroke-width="1.05" stroke-linejoin="round" />
<polygon points="849.00,237.90 852.90,233.70 852.90,237.80 849.00,242.00" fill="url(#hatO)" stroke="#f26a21" stroke-width="1.05" stroke-linejoin="round" />
<polygon points="835.30,225.90 839.20,221.70 852.90,233.70 849.00,237.90" fill="#fff" stroke="#f26a21" stroke-width="1.05" stroke-linejoin="round" />
<polygon points="828.70,235.80 842.40,247.80 842.40,248.40 828.70,236.40" fill="#fff" stroke="#f26a21" stroke-width="1.05" stroke-linejoin="round" />
<polygon points="842.40,247.80 846.30,243.60 846.30,244.20 842.40,248.40" fill="url(#hatO)" stroke="#f26a21" stroke-width="1.05" stroke-linejoin="round" />
<polygon points="828.70,235.80 832.60,231.60 846.30,243.60 842.40,247.80" fill="#fff" stroke="#f26a21" stroke-width="1.05" stroke-linejoin="round" />
<polygon points="822.10,215.50 835.80,227.50 835.80,254.80 822.10,242.80" fill="#fff" stroke="#f26a21" stroke-width="1.05" stroke-linejoin="round" />
<polygon points="835.80,227.50 839.70,223.30 839.70,250.60 835.80,254.80" fill="url(#hatO)" stroke="#f26a21" stroke-width="1.05" stroke-linejoin="round" />
<polygon points="822.10,215.50 826.00,211.30 839.70,223.30 835.80,227.50" fill="#fff" stroke="#f26a21" stroke-width="1.05" stroke-linejoin="round" />
<polygon points="815.50,213.70 829.20,225.70 829.20,261.20 815.50,249.20" fill="#fff" stroke="#f26a21" stroke-width="1.05" stroke-linejoin="round" />
<polygon points="829.20,225.70 833.10,221.50 833.10,257.00 829.20,261.20" fill="url(#hatO)" stroke="#f26a21" stroke-width="1.05" stroke-linejoin="round" />
<polygon points="815.50,213.70 819.40,209.50 833.10,221.50 829.20,225.70" fill="#fff" stroke="#f26a21" stroke-width="1.05" stroke-linejoin="round" />
<polygon points="808.90,245.30 822.60,257.30 822.60,267.60 808.90,255.60" fill="#fff" stroke="#f26a21" stroke-width="1.05" stroke-linejoin="round" />
<polygon points="822.60,257.30 826.50,253.10 826.50,263.40 822.60,267.60" fill="url(#hatO)" stroke="#f26a21" stroke-width="1.05" stroke-linejoin="round" />
<polygon points="808.90,245.30 812.80,241.10 826.50,253.10 822.60,257.30" fill="#fff" stroke="#f26a21" stroke-width="1.05" stroke-linejoin="round" />
<text x="838" y="80" font-size="7.6" fill="#f26a21" font-weight="bold" textLength="61" lengthAdjust="spacingAndGlyphs" text-anchor="start">7,140,000,000 MJ</text>
<text x="833" y="87.6" font-size="6.0" fill="#666" textLength="68" lengthAdjust="spacingAndGlyphs" text-anchor="start">OF EMBODIED ENERGY</text>
<line x1="797.50" y1="242.50" x2="808.75" y2="255.00" stroke="#858585" stroke-width="0.8" />
<line x1="808.75" y1="255.50" x2="768.75" y2="295.50" stroke="#858585" stroke-width="0.8" />
<line x1="822.50" y1="268.00" x2="783.75" y2="306.50" stroke="#858585" stroke-width="0.8" />
<text transform="translate(778.00,223.75) rotate(-45.0)" font-size="5.83" fill="#111" stroke="#111" stroke-width="0.19" font-weight="bold" textLength="29.34" lengthAdjust="spacingAndGlyphs" dominant-baseline="central">EMBODIED</text>
<text transform="translate(783.50,229.25) rotate(-45.0)" font-size="5.83" fill="#111" stroke="#111" stroke-width="0.19" font-weight="bold" textLength="22.63" lengthAdjust="spacingAndGlyphs" dominant-baseline="central">ENERGY</text>
<text transform="translate(788.75,234.50) rotate(-45.0)" font-size="5.83" fill="#111" stroke="#111" stroke-width="0.19" font-weight="bold" textLength="15.20" lengthAdjust="spacingAndGlyphs" dominant-baseline="central">SPLIT</text>
<text transform="translate(794.00,240.00) rotate(-45.0)" font-size="5.83" fill="#111" stroke="#111" stroke-width="0.19" font-weight="bold" textLength="8.91" lengthAdjust="spacingAndGlyphs" dominant-baseline="central">(%)</text>
<line x1="889.10" y1="204.10" x2="895.80" y2="206.80" stroke="#777" stroke-width="0.7" stroke-dasharray="1.6 1.0" />
<text transform="translate(897.00,208.00) rotate(45.0)" font-size="5.17" fill="#111" stroke="#111" stroke-width="0.17" font-weight="bold" textLength="8.80" lengthAdjust="spacingAndGlyphs" dominant-baseline="central">7.28</text>
<line x1="903.90" y1="214.40" x2="905.70" y2="216.20" stroke="#666" stroke-width="0.7" />
<text transform="translate(907.50,218.00) rotate(45.0)" font-size="4.95" fill="#444" stroke="#444" stroke-width="0.15" textLength="40.31" lengthAdjust="spacingAndGlyphs" dominant-baseline="central">MINERAL - GLASS</text>
<line x1="882.50" y1="210.50" x2="889.30" y2="213.80" stroke="#777" stroke-width="0.7" stroke-dasharray="1.6 1.0" />
<text transform="translate(890.50,215.00) rotate(45.0)" font-size="5.17" fill="#111" stroke="#111" stroke-width="0.17" font-weight="bold" textLength="8.80" lengthAdjust="spacingAndGlyphs" dominant-baseline="central">1.06</text>
<line x1="898.40" y1="221.40" x2="900.20" y2="223.20" stroke="#666" stroke-width="0.7" />
<text transform="translate(902.00,225.00) rotate(45.0)" font-size="4.95" fill="#444" stroke="#444" stroke-width="0.15" textLength="43.67" lengthAdjust="spacingAndGlyphs" dominant-baseline="central">MINERAL - PLASTER</text>
<line x1="875.90" y1="216.90" x2="882.55" y2="220.05" stroke="#777" stroke-width="0.7" stroke-dasharray="1.6 1.0" />
<text transform="translate(883.75,221.25) rotate(45.0)" font-size="5.17" fill="#111" stroke="#111" stroke-width="0.17" font-weight="bold" textLength="8.80" lengthAdjust="spacingAndGlyphs" dominant-baseline="central">0.43</text>
<line x1="891.40" y1="228.40" x2="893.20" y2="230.20" stroke="#666" stroke-width="0.7" />
<text transform="translate(895.00,232.00) rotate(45.0)" font-size="4.95" fill="#444" stroke="#444" stroke-width="0.15" textLength="40.13" lengthAdjust="spacingAndGlyphs" dominant-baseline="central">MINERAL - STONE</text>
<line x1="869.30" y1="223.30" x2="875.80" y2="226.80" stroke="#777" stroke-width="0.7" stroke-dasharray="1.6 1.0" />
<text transform="translate(877.00,228.00) rotate(45.0)" font-size="5.17" fill="#111" stroke="#111" stroke-width="0.17" font-weight="bold" textLength="8.80" lengthAdjust="spacingAndGlyphs" dominant-baseline="central">0.20</text>
<line x1="884.65" y1="235.15" x2="886.45" y2="236.95" stroke="#666" stroke-width="0.7" />
<text transform="translate(888.25,238.75) rotate(45.0)" font-size="4.95" fill="#444" stroke="#444" stroke-width="0.15" textLength="40.66" lengthAdjust="spacingAndGlyphs" dominant-baseline="central">MINERAL - BRICKS</text>
<line x1="862.70" y1="229.70" x2="868.80" y2="233.80" stroke="#777" stroke-width="0.7" stroke-dasharray="1.6 1.0" />
<text transform="translate(870.00,235.00) rotate(45.0)" font-size="5.17" fill="#111" stroke="#111" stroke-width="0.17" font-weight="bold" textLength="8.80" lengthAdjust="spacingAndGlyphs" dominant-baseline="central">7.88</text>
<line x1="878.15" y1="242.15" x2="879.95" y2="243.95" stroke="#666" stroke-width="0.7" />
<text transform="translate(881.75,245.75) rotate(45.0)" font-size="4.95" fill="#444" stroke="#444" stroke-width="0.15" textLength="47.74" lengthAdjust="spacingAndGlyphs" dominant-baseline="central">MINERAL - CONCRETE</text>
<line x1="856.10" y1="236.10" x2="862.05" y2="240.55" stroke="#777" stroke-width="0.7" stroke-dasharray="1.6 1.0" />
<text transform="translate(863.25,241.75) rotate(45.0)" font-size="5.17" fill="#111" stroke="#111" stroke-width="0.17" font-weight="bold" textLength="8.80" lengthAdjust="spacingAndGlyphs" dominant-baseline="central">6.16</text>
<line x1="871.40" y1="248.90" x2="873.20" y2="250.70" stroke="#666" stroke-width="0.7" />
<text transform="translate(875.00,252.50) rotate(45.0)" font-size="4.95" fill="#444" stroke="#444" stroke-width="0.15" textLength="39.78" lengthAdjust="spacingAndGlyphs" dominant-baseline="central">PLASTIC - OTHERS</text>
<line x1="849.50" y1="242.50" x2="855.05" y2="247.55" stroke="#777" stroke-width="0.7" stroke-dasharray="1.6 1.0" />
<text transform="translate(856.25,248.75) rotate(45.0)" font-size="5.17" fill="#111" stroke="#111" stroke-width="0.17" font-weight="bold" textLength="8.80" lengthAdjust="spacingAndGlyphs" dominant-baseline="central">4.31</text>
<line x1="864.65" y1="255.65" x2="866.45" y2="257.45" stroke="#666" stroke-width="0.7" />
<text transform="translate(868.25,259.25) rotate(45.0)" font-size="4.95" fill="#444" stroke="#444" stroke-width="0.15" textLength="48.64" lengthAdjust="spacingAndGlyphs" dominant-baseline="central">PLASTIC - INSULATION</text>
<line x1="842.90" y1="248.90" x2="848.30" y2="253.80" stroke="#777" stroke-width="0.7" stroke-dasharray="1.6 1.0" />
<text transform="translate(849.50,255.00) rotate(45.0)" font-size="5.17" fill="#111" stroke="#111" stroke-width="0.17" font-weight="bold" textLength="8.80" lengthAdjust="spacingAndGlyphs" dominant-baseline="central">0.43</text>
<line x1="857.65" y1="262.65" x2="859.45" y2="264.45" stroke="#666" stroke-width="0.7" />
<text transform="translate(861.25,266.25) rotate(45.0)" font-size="4.95" fill="#444" stroke="#444" stroke-width="0.15" textLength="13.29" lengthAdjust="spacingAndGlyphs" dominant-baseline="central">WOOD</text>
<line x1="836.30" y1="255.30" x2="840.05" y2="258.80" stroke="#777" stroke-width="0.7" stroke-dasharray="1.6 1.0" />
<text transform="translate(841.25,260.00) rotate(45.0)" font-size="5.17" fill="#111" stroke="#111" stroke-width="0.17" font-weight="bold" textLength="11.25" lengthAdjust="spacingAndGlyphs" dominant-baseline="central">27.02</text>
<line x1="850.90" y1="268.90" x2="852.70" y2="270.70" stroke="#666" stroke-width="0.7" />
<text transform="translate(854.50,272.50) rotate(45.0)" font-size="4.95" fill="#444" stroke="#444" stroke-width="0.15" textLength="34.85" lengthAdjust="spacingAndGlyphs" dominant-baseline="central">METAL - OTHER</text>
<line x1="829.70" y1="261.70" x2="833.30" y2="265.80" stroke="#777" stroke-width="0.7" stroke-dasharray="1.6 1.0" />
<text transform="translate(834.50,267.00) rotate(45.0)" font-size="5.17" fill="#111" stroke="#111" stroke-width="0.17" font-weight="bold" textLength="11.25" lengthAdjust="spacingAndGlyphs" dominant-baseline="central">36.64</text>
<line x1="844.40" y1="275.90" x2="846.20" y2="277.70" stroke="#666" stroke-width="0.7" />
<text transform="translate(848.00,279.50) rotate(45.0)" font-size="4.95" fill="#444" stroke="#444" stroke-width="0.15" textLength="33.60" lengthAdjust="spacingAndGlyphs" dominant-baseline="central">METAL - STEEL</text>
<line x1="823.10" y1="268.10" x2="833.80" y2="275.30" stroke="#777" stroke-width="0.7" stroke-dasharray="1.6 1.0" />
<text transform="translate(835.00,276.50) rotate(45.0)" font-size="5.06" fill="#686868" stroke="#686868" stroke-width="0.16" textLength="5.09" lengthAdjust="spacingAndGlyphs" dominant-baseline="central">10</text>
<line x1="838.40" y1="281.40" x2="840.20" y2="283.20" stroke="#666" stroke-width="0.7" />
<text transform="translate(842.00,285.00) rotate(45.0)" font-size="4.95" fill="#444" stroke="#444" stroke-width="0.15" textLength="33.42" lengthAdjust="spacingAndGlyphs" dominant-baseline="central">NON-MATERIAL</text>
<path d="M703.4,256.4 L699.6,260.6 L699.3,272 L697.9,302.5 L697,337.5 L696.4,365 L706.7,375.8 L718.3,362.7 L717.6,361.6 L716.8,337.5 L715.4,304.7 L714.6,274 L713.9,266.4 Z" fill="url(#go)"/>
<path d="M703.4,256.4 L699.6,260.6 L699.3,272 L697.9,302.5 L697,337.5 L696.4,365 L706.7,375.8 L718.3,362.7 L717.6,361.6 L716.8,337.5 L715.4,304.7 L714.6,274 L713.9,266.4 Z" fill="url(#dotW)"/>
<path d="M703.8,257.2 L712.8,271.5" stroke="#fff" stroke-width="0.6" fill="none"/>
<path d="M698.5,301 Q705,325 717,363.5" stroke="#fff" stroke-width="0.7" fill="none"/>
<polyline points="692.70,368.20 706.30,381.50 721.10,366.00" fill="none" stroke="#f26a21" stroke-width="0.8" stroke-linejoin="round"/>
<polyline points="694.50,366.60 706.50,378.60 719.60,364.60" fill="none" stroke="#f26a21" stroke-width="0.7" stroke-linejoin="round"/>
<text transform="translate(720.00,350.00) rotate(-45.0)" font-size="8.36" fill="#f26a21" stroke="#f26a21" stroke-width="0.27" font-weight="bold" textLength="66.14" lengthAdjust="spacingAndGlyphs" dominant-baseline="central">SHANGHAI TOWER</text>
<text transform="translate(728.75,357.50) rotate(-45.0)" font-size="5.83" fill="#111" stroke="#111" stroke-width="0.19" font-weight="bold" textLength="36.60" lengthAdjust="spacingAndGlyphs" dominant-baseline="central">128 STORIES</text>
<text transform="translate(733.75,363.75) rotate(-45.0)" font-size="5.83" fill="#111" stroke="#111" stroke-width="0.19" font-weight="bold" textLength="64.53" lengthAdjust="spacingAndGlyphs" dominant-baseline="central">MIXED-USE BUILDING</text>
<text transform="translate(740.00,369.50) rotate(-45.0)" font-size="5.83" fill="#111" stroke="#111" stroke-width="0.19" font-weight="bold" textLength="50.38" lengthAdjust="spacingAndGlyphs" dominant-baseline="central">2015 - SHANGHAI</text>
<rect x="711.8" y="395" width="2.4" height="2.4" fill="#f26a21"/>
<text transform="translate(723.00,411.25) rotate(-45.0)" font-size="8.58" fill="#f26a21" stroke="#f26a21" stroke-width="0.28" font-weight="bold" textLength="44.02" lengthAdjust="spacingAndGlyphs" dominant-baseline="central">448,590,000</text>
<text transform="translate(728.75,416.25) rotate(-45.0)" font-size="6.16" fill="#505050" stroke="#505050" stroke-width="0.19" textLength="40.66" lengthAdjust="spacingAndGlyphs" dominant-baseline="central">KG CO2E / KG</text>
<rect x="741.3" y="424.3" width="2.4" height="2.4" fill="#5a6ec0"/>
<polygon points="762.50,433.00 755.00,440.50 762.50,448.00 770.00,440.50" fill="#fff" stroke="#1f3f9c" stroke-width="1.1" stroke-linejoin="round" />
<line x1="770.50" y1="441.50" x2="866.00" y2="537.00" stroke="#707070" stroke-width="0.75" stroke-dasharray="1.8 1.1" />
<line x1="763.50" y1="448.50" x2="874.00" y2="559.00" stroke="#707070" stroke-width="0.75" stroke-dasharray="1.8 1.1" />
<polygon points="915.70,390.90 922.70,397.60 929.70,390.90 929.70,442.90 922.70,449.60 915.70,442.90" fill="#f4fbfc" stroke="none" stroke-width="0.8" stroke-linejoin="round" />
<path d="M915.7,392.8l7.0,6.7l7.0,-6.7M915.7,394.7l7.0,6.7l7.0,-6.7M915.7,396.6l7.0,6.7l7.0,-6.7M915.7,398.5l7.0,6.7l7.0,-6.7M915.7,400.4l7.0,6.7l7.0,-6.7M915.7,402.3l7.0,6.7l7.0,-6.7M915.7,404.2l7.0,6.7l7.0,-6.7M915.7,406.1l7.0,6.7l7.0,-6.7M915.7,408.0l7.0,6.7l7.0,-6.7M915.7,409.9l7.0,6.7l7.0,-6.7M915.7,411.8l7.0,6.7l7.0,-6.7M915.7,413.7l7.0,6.7l7.0,-6.7M915.7,415.6l7.0,6.7l7.0,-6.7M915.7,417.5l7.0,6.7l7.0,-6.7M915.7,419.4l7.0,6.7l7.0,-6.7M915.7,421.3l7.0,6.7l7.0,-6.7M915.7,423.2l7.0,6.7l7.0,-6.7M915.7,425.1l7.0,6.7l7.0,-6.7M915.7,427.0l7.0,6.7l7.0,-6.7M915.7,428.9l7.0,6.7l7.0,-6.7M915.7,430.8l7.0,6.7l7.0,-6.7M915.7,432.7l7.0,6.7l7.0,-6.7M915.7,434.6l7.0,6.7l7.0,-6.7M915.7,436.5l7.0,6.7l7.0,-6.7M915.7,438.4l7.0,6.7l7.0,-6.7M915.7,440.3l7.0,6.7l7.0,-6.7M915.7,442.2l7.0,6.7l7.0,-6.7" fill="none" stroke="#86d2dc" stroke-width="0.45"/>
<polygon points="915.70,390.90 922.70,397.60 929.70,390.90 929.70,442.90 922.70,449.60 915.70,442.90" fill="none" stroke="#86d2dc" stroke-width="0.5" stroke-linejoin="round" />
<polygon points="915.70,390.90 922.70,384.20 929.70,390.90 922.70,397.60" fill="#fff" stroke="#86d2dc" stroke-width="0.7" stroke-linejoin="round" />
<polygon points="905.92,362.00 912.92,368.70 919.92,362.00 919.92,456.50 912.92,463.20 905.92,456.50" fill="#f4fbfc" stroke="none" stroke-width="0.8" stroke-linejoin="round" />
<path d="M905.9,363.9l7.0,6.7l7.0,-6.7M905.9,365.8l7.0,6.7l7.0,-6.7M905.9,367.7l7.0,6.7l7.0,-6.7M905.9,369.6l7.0,6.7l7.0,-6.7M905.9,371.5l7.0,6.7l7.0,-6.7M905.9,373.4l7.0,6.7l7.0,-6.7M905.9,375.3l7.0,6.7l7.0,-6.7M905.9,377.2l7.0,6.7l7.0,-6.7M905.9,379.1l7.0,6.7l7.0,-6.7M905.9,381.0l7.0,6.7l7.0,-6.7M905.9,382.9l7.0,6.7l7.0,-6.7M905.9,384.8l7.0,6.7l7.0,-6.7M905.9,386.7l7.0,6.7l7.0,-6.7M905.9,388.6l7.0,6.7l7.0,-6.7M905.9,390.5l7.0,6.7l7.0,-6.7M905.9,392.4l7.0,6.7l7.0,-6.7M905.9,394.3l7.0,6.7l7.0,-6.7M905.9,396.2l7.0,6.7l7.0,-6.7M905.9,398.1l7.0,6.7l7.0,-6.7M905.9,400.0l7.0,6.7l7.0,-6.7M905.9,401.9l7.0,6.7l7.0,-6.7M905.9,403.8l7.0,6.7l7.0,-6.7M905.9,405.7l7.0,6.7l7.0,-6.7M905.9,407.6l7.0,6.7l7.0,-6.7M905.9,409.5l7.0,6.7l7.0,-6.7M905.9,411.4l7.0,6.7l7.0,-6.7M905.9,413.3l7.0,6.7l7.0,-6.7M905.9,415.2l7.0,6.7l7.0,-6.7M905.9,417.1l7.0,6.7l7.0,-6.7M905.9,419.0l7.0,6.7l7.0,-6.7M905.9,420.9l7.0,6.7l7.0,-6.7M905.9,422.8l7.0,6.7l7.0,-6.7M905.9,424.7l7.0,6.7l7.0,-6.7M905.9,426.6l7.0,6.7l7.0,-6.7M905.9,428.5l7.0,6.7l7.0,-6.7M905.9,430.4l7.0,6.7l7.0,-6.7M905.9,432.3l7.0,6.7l7.0,-6.7M905.9,434.2l7.0,6.7l7.0,-6.7M905.9,436.1l7.0,6.7l7.0,-6.7M905.9,438.0l7.0,6.7l7.0,-6.7M905.9,439.9l7.0,6.7l7.0,-6.7M905.9,441.8l7.0,6.7l7.0,-6.7M905.9,443.7l7.0,6.7l7.0,-6.7M905.9,445.6l7.0,6.7l7.0,-6.7M905.9,447.5l7.0,6.7l7.0,-6.7M905.9,449.4l7.0,6.7l7.0,-6.7M905.9,451.3l7.0,6.7l7.0,-6.7M905.9,453.2l7.0,6.7l7.0,-6.7M905.9,455.1l7.0,6.7l7.0,-6.7" fill="none" stroke="#86d2dc" stroke-width="0.45"/>
<polygon points="905.92,362.00 912.92,368.70 919.92,362.00 919.92,456.50 912.92,463.20 905.92,456.50" fill="none" stroke="#86d2dc" stroke-width="0.5" stroke-linejoin="round" />
<polygon points="905.92,362.00 912.92,355.30 919.92,362.00 912.92,368.70" fill="#fff" stroke="#86d2dc" stroke-width="0.7" stroke-linejoin="round" />
<polygon points="897.43,370.40 904.43,377.10 911.43,370.40 911.43,464.90 904.43,471.60 897.43,464.90" fill="#f4fbfc" stroke="none" stroke-width="0.8" stroke-linejoin="round" />
<path d="M897.4,372.3l7.0,6.7l7.0,-6.7M897.4,374.2l7.0,6.7l7.0,-6.7M897.4,376.1l7.0,6.7l7.0,-6.7M897.4,378.0l7.0,6.7l7.0,-6.7M897.4,379.9l7.0,6.7l7.0,-6.7M897.4,381.8l7.0,6.7l7.0,-6.7M897.4,383.7l7.0,6.7l7.0,-6.7M897.4,385.6l7.0,6.7l7.0,-6.7M897.4,387.5l7.0,6.7l7.0,-6.7M897.4,389.4l7.0,6.7l7.0,-6.7M897.4,391.3l7.0,6.7l7.0,-6.7M897.4,393.2l7.0,6.7l7.0,-6.7M897.4,395.1l7.0,6.7l7.0,-6.7M897.4,397.0l7.0,6.7l7.0,-6.7M897.4,398.9l7.0,6.7l7.0,-6.7M897.4,400.8l7.0,6.7l7.0,-6.7M897.4,402.7l7.0,6.7l7.0,-6.7M897.4,404.6l7.0,6.7l7.0,-6.7M897.4,406.5l7.0,6.7l7.0,-6.7M897.4,408.4l7.0,6.7l7.0,-6.7M897.4,410.3l7.0,6.7l7.0,-6.7M897.4,412.2l7.0,6.7l7.0,-6.7M897.4,414.1l7.0,6.7l7.0,-6.7M897.4,416.0l7.0,6.7l7.0,-6.7M897.4,417.9l7.0,6.7l7.0,-6.7M897.4,419.8l7.0,6.7l7.0,-6.7M897.4,421.7l7.0,6.7l7.0,-6.7M897.4,423.6l7.0,6.7l7.0,-6.7M897.4,425.5l7.0,6.7l7.0,-6.7M897.4,427.4l7.0,6.7l7.0,-6.7M897.4,429.3l7.0,6.7l7.0,-6.7M897.4,431.2l7.0,6.7l7.0,-6.7M897.4,433.1l7.0,6.7l7.0,-6.7M897.4,435.0l7.0,6.7l7.0,-6.7M897.4,436.9l7.0,6.7l7.0,-6.7M897.4,438.8l7.0,6.7l7.0,-6.7M897.4,440.7l7.0,6.7l7.0,-6.7M897.4,442.6l7.0,6.7l7.0,-6.7M897.4,444.5l7.0,6.7l7.0,-6.7M897.4,446.4l7.0,6.7l7.0,-6.7M897.4,448.3l7.0,6.7l7.0,-6.7M897.4,450.2l7.0,6.7l7.0,-6.7M897.4,452.1l7.0,6.7l7.0,-6.7M897.4,454.0l7.0,6.7l7.0,-6.7M897.4,455.9l7.0,6.7l7.0,-6.7M897.4,457.8l7.0,6.7l7.0,-6.7M897.4,459.7l7.0,6.7l7.0,-6.7M897.4,461.6l7.0,6.7l7.0,-6.7M897.4,463.5l7.0,6.7l7.0,-6.7" fill="none" stroke="#86d2dc" stroke-width="0.45"/>
<polygon points="897.43,370.40 904.43,377.10 911.43,370.40 911.43,464.90 904.43,471.60 897.43,464.90" fill="none" stroke="#86d2dc" stroke-width="0.5" stroke-linejoin="round" />
<polygon points="897.43,370.40 904.43,363.70 911.43,370.40 904.43,377.10" fill="#fff" stroke="#86d2dc" stroke-width="0.7" stroke-linejoin="round" />
<polygon points="888.94,378.80 895.94,385.50 902.94,378.80 902.94,473.30 895.94,480.00 888.94,473.30" fill="#f4fbfc" stroke="none" stroke-width="0.8" stroke-linejoin="round" />
<path d="M888.9,380.7l7.0,6.7l7.0,-6.7M888.9,382.6l7.0,6.7l7.0,-6.7M888.9,384.5l7.0,6.7l7.0,-6.7M888.9,386.4l7.0,6.7l7.0,-6.7M888.9,388.3l7.0,6.7l7.0,-6.7M888.9,390.2l7.0,6.7l7.0,-6.7M888.9,392.1l7.0,6.7l7.0,-6.7M888.9,394.0l7.0,6.7l7.0,-6.7M888.9,395.9l7.0,6.7l7.0,-6.7M888.9,397.8l7.0,6.7l7.0,-6.7M888.9,399.7l7.0,6.7l7.0,-6.7M888.9,401.6l7.0,6.7l7.0,-6.7M888.9,403.5l7.0,6.7l7.0,-6.7M888.9,405.4l7.0,6.7l7.0,-6.7M888.9,407.3l7.0,6.7l7.0,-6.7M888.9,409.2l7.0,6.7l7.0,-6.7M888.9,411.1l7.0,6.7l7.0,-6.7M888.9,413.0l7.0,6.7l7.0,-6.7M888.9,414.9l7.0,6.7l7.0,-6.7M888.9,416.8l7.0,6.7l7.0,-6.7M888.9,418.7l7.0,6.7l7.0,-6.7M888.9,420.6l7.0,6.7l7.0,-6.7M888.9,422.5l7.0,6.7l7.0,-6.7M888.9,424.4l7.0,6.7l7.0,-6.7M888.9,426.3l7.0,6.7l7.0,-6.7M888.9,428.2l7.0,6.7l7.0,-6.7M888.9,430.1l7.0,6.7l7.0,-6.7M888.9,432.0l7.0,6.7l7.0,-6.7M888.9,433.9l7.0,6.7l7.0,-6.7M888.9,435.8l7.0,6.7l7.0,-6.7M888.9,437.7l7.0,6.7l7.0,-6.7M888.9,439.6l7.0,6.7l7.0,-6.7M888.9,441.5l7.0,6.7l7.0,-6.7M888.9,443.4l7.0,6.7l7.0,-6.7M888.9,445.3l7.0,6.7l7.0,-6.7M888.9,447.2l7.0,6.7l7.0,-6.7M888.9,449.1l7.0,6.7l7.0,-6.7M888.9,451.0l7.0,6.7l7.0,-6.7M888.9,452.9l7.0,6.7l7.0,-6.7M888.9,454.8l7.0,6.7l7.0,-6.7M888.9,456.7l7.0,6.7l7.0,-6.7M888.9,458.6l7.0,6.7l7.0,-6.7M888.9,460.5l7.0,6.7l7.0,-6.7M888.9,462.4l7.0,6.7l7.0,-6.7M888.9,464.3l7.0,6.7l7.0,-6.7M888.9,466.2l7.0,6.7l7.0,-6.7M888.9,468.1l7.0,6.7l7.0,-6.7M888.9,470.0l7.0,6.7l7.0,-6.7M888.9,471.9l7.0,6.7l7.0,-6.7" fill="none" stroke="#86d2dc" stroke-width="0.45"/>
<polygon points="888.94,378.80 895.94,385.50 902.94,378.80 902.94,473.30 895.94,480.00 888.94,473.30" fill="none" stroke="#86d2dc" stroke-width="0.5" stroke-linejoin="round" />
<polygon points="888.94,378.80 895.94,372.10 902.94,378.80 895.94,385.50" fill="#fff" stroke="#86d2dc" stroke-width="0.7" stroke-linejoin="round" />
<polygon points="880.45,387.20 887.45,393.90 894.45,387.20 894.45,481.70 887.45,488.40 880.45,481.70" fill="#f4fbfc" stroke="none" stroke-width="0.8" stroke-linejoin="round" />
<path d="M880.5,389.1l7.0,6.7l7.0,-6.7M880.5,391.0l7.0,6.7l7.0,-6.7M880.5,392.9l7.0,6.7l7.0,-6.7M880.5,394.8l7.0,6.7l7.0,-6.7M880.5,396.7l7.0,6.7l7.0,-6.7M880.5,398.6l7.0,6.7l7.0,-6.7M880.5,400.5l7.0,6.7l7.0,-6.7M880.5,402.4l7.0,6.7l7.0,-6.7M880.5,404.3l7.0,6.7l7.0,-6.7M880.5,406.2l7.0,6.7l7.0,-6.7M880.5,408.1l7.0,6.7l7.0,-6.7M880.5,410.0l7.0,6.7l7.0,-6.7M880.5,411.9l7.0,6.7l7.0,-6.7M880.5,413.8l7.0,6.7l7.0,-6.7M880.5,415.7l7.0,6.7l7.0,-6.7M880.5,417.6l7.0,6.7l7.0,-6.7M880.5,419.5l7.0,6.7l7.0,-6.7M880.5,421.4l7.0,6.7l7.0,-6.7M880.5,423.3l7.0,6.7l7.0,-6.7M880.5,425.2l7.0,6.7l7.0,-6.7M880.5,427.1l7.0,6.7l7.0,-6.7M880.5,429.0l7.0,6.7l7.0,-6.7M880.5,430.9l7.0,6.7l7.0,-6.7M880.5,432.8l7.0,6.7l7.0,-6.7M880.5,434.7l7.0,6.7l7.0,-6.7M880.5,436.6l7.0,6.7l7.0,-6.7M880.5,438.5l7.0,6.7l7.0,-6.7M880.5,440.4l7.0,6.7l7.0,-6.7M880.5,442.3l7.0,6.7l7.0,-6.7M880.5,444.2l7.0,6.7l7.0,-6.7M880.5,446.1l7.0,6.7l7.0,-6.7M880.5,448.0l7.0,6.7l7.0,-6.7M880.5,449.9l7.0,6.7l7.0,-6.7M880.5,451.8l7.0,6.7l7.0,-6.7M880.5,453.7l7.0,6.7l7.0,-6.7M880.5,455.6l7.0,6.7l7.0,-6.7M880.5,457.5l7.0,6.7l7.0,-6.7M880.5,459.4l7.0,6.7l7.0,-6.7M880.5,461.3l7.0,6.7l7.0,-6.7M880.5,463.2l7.0,6.7l7.0,-6.7M880.5,465.1l7.0,6.7l7.0,-6.7M880.5,467.0l7.0,6.7l7.0,-6.7M880.5,468.9l7.0,6.7l7.0,-6.7M880.5,470.8l7.0,6.7l7.0,-6.7M880.5,472.7l7.0,6.7l7.0,-6.7M880.5,474.6l7.0,6.7l7.0,-6.7M880.5,476.5l7.0,6.7l7.0,-6.7M880.5,478.4l7.0,6.7l7.0,-6.7M880.5,480.3l7.0,6.7l7.0,-6.7" fill="none" stroke="#86d2dc" stroke-width="0.45"/>
<polygon points="880.45,387.20 887.45,393.90 894.45,387.20 894.45,481.70 887.45,488.40 880.45,481.70" fill="none" stroke="#86d2dc" stroke-width="0.5" stroke-linejoin="round" />
<polygon points="880.45,387.20 887.45,380.50 894.45,387.20 887.45,393.90" fill="#fff" stroke="#86d2dc" stroke-width="0.7" stroke-linejoin="round" />
<polygon points="871.96,395.60 878.96,402.30 885.96,395.60 885.96,490.10 878.96,496.80 871.96,490.10" fill="#f4fbfc" stroke="none" stroke-width="0.8" stroke-linejoin="round" />
<path d="M872.0,397.5l7.0,6.7l7.0,-6.7M872.0,399.4l7.0,6.7l7.0,-6.7M872.0,401.3l7.0,6.7l7.0,-6.7M872.0,403.2l7.0,6.7l7.0,-6.7M872.0,405.1l7.0,6.7l7.0,-6.7M872.0,407.0l7.0,6.7l7.0,-6.7M872.0,408.9l7.0,6.7l7.0,-6.7M872.0,410.8l7.0,6.7l7.0,-6.7M872.0,412.7l7.0,6.7l7.0,-6.7M872.0,414.6l7.0,6.7l7.0,-6.7M872.0,416.5l7.0,6.7l7.0,-6.7M872.0,418.4l7.0,6.7l7.0,-6.7M872.0,420.3l7.0,6.7l7.0,-6.7M872.0,422.2l7.0,6.7l7.0,-6.7M872.0,424.1l7.0,6.7l7.0,-6.7M872.0,426.0l7.0,6.7l7.0,-6.7M872.0,427.9l7.0,6.7l7.0,-6.7M872.0,429.8l7.0,6.7l7.0,-6.7M872.0,431.7l7.0,6.7l7.0,-6.7M872.0,433.6l7.0,6.7l7.0,-6.7M872.0,435.5l7.0,6.7l7.0,-6.7M872.0,437.4l7.0,6.7l7.0,-6.7M872.0,439.3l7.0,6.7l7.0,-6.7M872.0,441.2l7.0,6.7l7.0,-6.7M872.0,443.1l7.0,6.7l7.0,-6.7M872.0,445.0l7.0,6.7l7.0,-6.7M872.0,446.9l7.0,6.7l7.0,-6.7M872.0,448.8l7.0,6.7l7.0,-6.7M872.0,450.7l7.0,6.7l7.0,-6.7M872.0,452.6l7.0,6.7l7.0,-6.7M872.0,454.5l7.0,6.7l7.0,-6.7M872.0,456.4l7.0,6.7l7.0,-6.7M872.0,458.3l7.0,6.7l7.0,-6.7M872.0,460.2l7.0,6.7l7.0,-6.7M872.0,462.1l7.0,6.7l7.0,-6.7M872.0,464.0l7.0,6.7l7.0,-6.7M872.0,465.9l7.0,6.7l7.0,-6.7M872.0,467.8l7.0,6.7l7.0,-6.7M872.0,469.7l7.0,6.7l7.0,-6.7M872.0,471.6l7.0,6.7l7.0,-6.7M872.0,473.5l7.0,6.7l7.0,-6.7M872.0,475.4l7.0,6.7l7.0,-6.7M872.0,477.3l7.0,6.7l7.0,-6.7M872.0,479.2l7.0,6.7l7.0,-6.7M872.0,481.1l7.0,6.7l7.0,-6.7M872.0,483.0l7.0,6.7l7.0,-6.7M872.0,484.9l7.0,6.7l7.0,-6.7M872.0,486.8l7.0,6.7l7.0,-6.7M872.0,488.7l7.0,6.7l7.0,-6.7" fill="none" stroke="#86d2dc" stroke-width="0.45"/>
<polygon points="871.96,395.60 878.96,402.30 885.96,395.60 885.96,490.10 878.96,496.80 871.96,490.10" fill="none" stroke="#86d2dc" stroke-width="0.5" stroke-linejoin="round" />
<polygon points="871.96,395.60 878.96,388.90 885.96,395.60 878.96,402.30" fill="#fff" stroke="#86d2dc" stroke-width="0.7" stroke-linejoin="round" />
<polygon points="863.47,404.00 870.47,410.70 877.47,404.00 877.47,498.50 870.47,505.20 863.47,498.50" fill="#f4fbfc" stroke="none" stroke-width="0.8" stroke-linejoin="round" />
<path d="M863.5,405.9l7.0,6.7l7.0,-6.7M863.5,407.8l7.0,6.7l7.0,-6.7M863.5,409.7l7.0,6.7l7.0,-6.7M863.5,411.6l7.0,6.7l7.0,-6.7M863.5,413.5l7.0,6.7l7.0,-6.7M863.5,415.4l7.0,6.7l7.0,-6.7M863.5,417.3l7.0,6.7l7.0,-6.7M863.5,419.2l7.0,6.7l7.0,-6.7M863.5,421.1l7.0,6.7l7.0,-6.7M863.5,423.0l7.0,6.7l7.0,-6.7M863.5,424.9l7.0,6.7l7.0,-6.7M863.5,426.8l7.0,6.7l7.0,-6.7M863.5,428.7l7.0,6.7l7.0,-6.7M863.5,430.6l7.0,6.7l7.0,-6.7M863.5,432.5l7.0,6.7l7.0,-6.7M863.5,434.4l7.0,6.7l7.0,-6.7M863.5,436.3l7.0,6.7l7.0,-6.7M863.5,438.2l7.0,6.7l7.0,-6.7M863.5,440.1l7.0,6.7l7.0,-6.7M863.5,442.0l7.0,6.7l7.0,-6.7M863.5,443.9l7.0,6.7l7.0,-6.7M863.5,445.8l7.0,6.7l7.0,-6.7M863.5,447.7l7.0,6.7l7.0,-6.7M863.5,449.6l7.0,6.7l7.0,-6.7M863.5,451.5l7.0,6.7l7.0,-6.7M863.5,453.4l7.0,6.7l7.0,-6.7M863.5,455.3l7.0,6.7l7.0,-6.7M863.5,457.2l7.0,6.7l7.0,-6.7M863.5,459.1l7.0,6.7l7.0,-6.7M863.5,461.0l7.0,6.7l7.0,-6.7M863.5,462.9l7.0,6.7l7.0,-6.7M863.5,464.8l7.0,6.7l7.0,-6.7M863.5,466.7l7.0,6.7l7.0,-6.7M863.5,468.6l7.0,6.7l7.0,-6.7M863.5,470.5l7.0,6.7l7.0,-6.7M863.5,472.4l7.0,6.7l7.0,-6.7M863.5,474.3l7.0,6.7l7.0,-6.7M863.5,476.2l7.0,6.7l7.0,-6.7M863.5,478.1l7.0,6.7l7.0,-6.7M863.5,480.0l7.0,6.7l7.0,-6.7M863.5,481.9l7.0,6.7l7.0,-6.7M863.5,483.8l7.0,6.7l7.0,-6.7M863.5,485.7l7.0,6.7l7.0,-6.7M863.5,487.6l7.0,6.7l7.0,-6.7M863.5,489.5l7.0,6.7l7.0,-6.7M863.5,491.4l7.0,6.7l7.0,-6.7M863.5,493.3l7.0,6.7l7.0,-6.7M863.5,495.2l7.0,6.7l7.0,-6.7M863.5,497.1l7.0,6.7l7.0,-6.7" fill="none" stroke="#86d2dc" stroke-width="0.45"/>
<polygon points="863.47,404.00 870.47,410.70 877.47,404.00 877.47,498.50 870.47,505.20 863.47,498.50" fill="none" stroke="#86d2dc" stroke-width="0.5" stroke-linejoin="round" />
<polygon points="863.47,404.00 870.47,397.30 877.47,404.00 870.47,410.70" fill="#fff" stroke="#86d2dc" stroke-width="0.7" stroke-linejoin="round" />
<polygon points="854.98,412.40 861.98,419.10 868.98,412.40 868.98,506.90 861.98,513.60 854.98,506.90" fill="#f4fbfc" stroke="none" stroke-width="0.8" stroke-linejoin="round" />
<path d="M855.0,414.3l7.0,6.7l7.0,-6.7M855.0,416.2l7.0,6.7l7.0,-6.7M855.0,418.1l7.0,6.7l7.0,-6.7M855.0,420.0l7.0,6.7l7.0,-6.7M855.0,421.9l7.0,6.7l7.0,-6.7M855.0,423.8l7.0,6.7l7.0,-6.7M855.0,425.7l7.0,6.7l7.0,-6.7M855.0,427.6l7.0,6.7l7.0,-6.7M855.0,429.5l7.0,6.7l7.0,-6.7M855.0,431.4l7.0,6.7l7.0,-6.7M855.0,433.3l7.0,6.7l7.0,-6.7M855.0,435.2l7.0,6.7l7.0,-6.7M855.0,437.1l7.0,6.7l7.0,-6.7M855.0,439.0l7.0,6.7l7.0,-6.7M855.0,440.9l7.0,6.7l7.0,-6.7M855.0,442.8l7.0,6.7l7.0,-6.7M855.0,444.7l7.0,6.7l7.0,-6.7M855.0,446.6l7.0,6.7l7.0,-6.7M855.0,448.5l7.0,6.7l7.0,-6.7M855.0,450.4l7.0,6.7l7.0,-6.7M855.0,452.3l7.0,6.7l7.0,-6.7M855.0,454.2l7.0,6.7l7.0,-6.7M855.0,456.1l7.0,6.7l7.0,-6.7M855.0,458.0l7.0,6.7l7.0,-6.7M855.0,459.9l7.0,6.7l7.0,-6.7M855.0,461.8l7.0,6.7l7.0,-6.7M855.0,463.7l7.0,6.7l7.0,-6.7M855.0,465.6l7.0,6.7l7.0,-6.7M855.0,467.5l7.0,6.7l7.0,-6.7M855.0,469.4l7.0,6.7l7.0,-6.7M855.0,471.3l7.0,6.7l7.0,-6.7M855.0,473.2l7.0,6.7l7.0,-6.7M855.0,475.1l7.0,6.7l7.0,-6.7M855.0,477.0l7.0,6.7l7.0,-6.7M855.0,478.9l7.0,6.7l7.0,-6.7M855.0,480.8l7.0,6.7l7.0,-6.7M855.0,482.7l7.0,6.7l7.0,-6.7M855.0,484.6l7.0,6.7l7.0,-6.7M855.0,486.5l7.0,6.7l7.0,-6.7M855.0,488.4l7.0,6.7l7.0,-6.7M855.0,490.3l7.0,6.7l7.0,-6.7M855.0,492.2l7.0,6.7l7.0,-6.7M855.0,494.1l7.0,6.7l7.0,-6.7M855.0,496.0l7.0,6.7l7.0,-6.7M855.0,497.9l7.0,6.7l7.0,-6.7M855.0,499.8l7.0,6.7l7.0,-6.7M855.0,501.7l7.0,6.7l7.0,-6.7M855.0,503.6l7.0,6.7l7.0,-6.7M855.0,505.5l7.0,6.7l7.0,-6.7" fill="none" stroke="#86d2dc" stroke-width="0.45"/>
<polygon points="854.98,412.40 861.98,419.10 868.98,412.40 868.98,506.90 861.98,513.60 854.98,506.90" fill="none" stroke="#86d2dc" stroke-width="0.5" stroke-linejoin="round" />
<polygon points="854.98,412.40 861.98,405.70 868.98,412.40 861.98,419.10" fill="#fff" stroke="#86d2dc" stroke-width="0.7" stroke-linejoin="round" />
<polygon points="846.49,420.80 853.49,427.50 860.49,420.80 860.49,515.30 853.49,522.00 846.49,515.30" fill="#f4fbfc" stroke="none" stroke-width="0.8" stroke-linejoin="round" />
<path d="M846.5,422.7l7.0,6.7l7.0,-6.7M846.5,424.6l7.0,6.7l7.0,-6.7M846.5,426.5l7.0,6.7l7.0,-6.7M846.5,428.4l7.0,6.7l7.0,-6.7M846.5,430.3l7.0,6.7l7.0,-6.7M846.5,432.2l7.0,6.7l7.0,-6.7M846.5,434.1l7.0,6.7l7.0,-6.7M846.5,436.0l7.0,6.7l7.0,-6.7M846.5,437.9l7.0,6.7l7.0,-6.7M846.5,439.8l7.0,6.7l7.0,-6.7M846.5,441.7l7.0,6.7l7.0,-6.7M846.5,443.6l7.0,6.7l7.0,-6.7M846.5,445.5l7.0,6.7l7.0,-6.7M846.5,447.4l7.0,6.7l7.0,-6.7M846.5,449.3l7.0,6.7l7.0,-6.7M846.5,451.2l7.0,6.7l7.0,-6.7M846.5,453.1l7.0,6.7l7.0,-6.7M846.5,455.0l7.0,6.7l7.0,-6.7M846.5,456.9l7.0,6.7l7.0,-6.7M846.5,458.8l7.0,6.7l7.0,-6.7M846.5,460.7l7.0,6.7l7.0,-6.7M846.5,462.6l7.0,6.7l7.0,-6.7M846.5,464.5l7.0,6.7l7.0,-6.7M846.5,466.4l7.0,6.7l7.0,-6.7M846.5,468.3l7.0,6.7l7.0,-6.7M846.5,470.2l7.0,6.7l7.0,-6.7M846.5,472.1l7.0,6.7l7.0,-6.7M846.5,474.0l7.0,6.7l7.0,-6.7M846.5,475.9l7.0,6.7l7.0,-6.7M846.5,477.8l7.0,6.7l7.0,-6.7M846.5,479.7l7.0,6.7l7.0,-6.7M846.5,481.6l7.0,6.7l7.0,-6.7M846.5,483.5l7.0,6.7l7.0,-6.7M846.5,485.4l7.0,6.7l7.0,-6.7M846.5,487.3l7.0,6.7l7.0,-6.7M846.5,489.2l7.0,6.7l7.0,-6.7M846.5,491.1l7.0,6.7l7.0,-6.7M846.5,493.0l7.0,6.7l7.0,-6.7M846.5,494.9l7.0,6.7l7.0,-6.7M846.5,496.8l7.0,6.7l7.0,-6.7M846.5,498.7l7.0,6.7l7.0,-6.7M846.5,500.6l7.0,6.7l7.0,-6.7M846.5,502.5l7.0,6.7l7.0,-6.7M846.5,504.4l7.0,6.7l7.0,-6.7M846.5,506.3l7.0,6.7l7.0,-6.7M846.5,508.2l7.0,6.7l7.0,-6.7M846.5,510.1l7.0,6.7l7.0,-6.7M846.5,512.0l7.0,6.7l7.0,-6.7M846.5,513.9l7.0,6.7l7.0,-6.7" fill="none" stroke="#86d2dc" stroke-width="0.45"/>
<polygon points="846.49,420.80 853.49,427.50 860.49,420.80 860.49,515.30 853.49,522.00 846.49,515.30" fill="none" stroke="#86d2dc" stroke-width="0.5" stroke-linejoin="round" />
<polygon points="846.49,420.80 853.49,414.10 860.49,420.80 853.49,427.50" fill="#fff" stroke="#86d2dc" stroke-width="0.7" stroke-linejoin="round" />
<polygon points="838.00,429.20 845.00,435.90 852.00,429.20 852.00,523.70 845.00,530.40 838.00,523.70" fill="#f4fbfc" stroke="none" stroke-width="0.8" stroke-linejoin="round" />
<path d="M838.0,431.1l7.0,6.7l7.0,-6.7M838.0,433.0l7.0,6.7l7.0,-6.7M838.0,434.9l7.0,6.7l7.0,-6.7M838.0,436.8l7.0,6.7l7.0,-6.7M838.0,438.7l7.0,6.7l7.0,-6.7M838.0,440.6l7.0,6.7l7.0,-6.7M838.0,442.5l7.0,6.7l7.0,-6.7M838.0,444.4l7.0,6.7l7.0,-6.7M838.0,446.3l7.0,6.7l7.0,-6.7M838.0,448.2l7.0,6.7l7.0,-6.7M838.0,450.1l7.0,6.7l7.0,-6.7M838.0,452.0l7.0,6.7l7.0,-6.7M838.0,453.9l7.0,6.7l7.0,-6.7M838.0,455.8l7.0,6.7l7.0,-6.7M838.0,457.7l7.0,6.7l7.0,-6.7M838.0,459.6l7.0,6.7l7.0,-6.7M838.0,461.5l7.0,6.7l7.0,-6.7M838.0,463.4l7.0,6.7l7.0,-6.7M838.0,465.3l7.0,6.7l7.0,-6.7M838.0,467.2l7.0,6.7l7.0,-6.7M838.0,469.1l7.0,6.7l7.0,-6.7M838.0,471.0l7.0,6.7l7.0,-6.7M838.0,472.9l7.0,6.7l7.0,-6.7M838.0,474.8l7.0,6.7l7.0,-6.7M838.0,476.7l7.0,6.7l7.0,-6.7M838.0,478.6l7.0,6.7l7.0,-6.7M838.0,480.5l7.0,6.7l7.0,-6.7M838.0,482.4l7.0,6.7l7.0,-6.7M838.0,484.3l7.0,6.7l7.0,-6.7M838.0,486.2l7.0,6.7l7.0,-6.7M838.0,488.1l7.0,6.7l7.0,-6.7M838.0,490.0l7.0,6.7l7.0,-6.7M838.0,491.9l7.0,6.7l7.0,-6.7M838.0,493.8l7.0,6.7l7.0,-6.7M838.0,495.7l7.0,6.7l7.0,-6.7M838.0,497.6l7.0,6.7l7.0,-6.7M838.0,499.5l7.0,6.7l7.0,-6.7M838.0,501.4l7.0,6.7l7.0,-6.7M838.0,503.3l7.0,6.7l7.0,-6.7M838.0,505.2l7.0,6.7l7.0,-6.7M838.0,507.1l7.0,6.7l7.0,-6.7M838.0,509.0l7.0,6.7l7.0,-6.7M838.0,510.9l7.0,6.7l7.0,-6.7M838.0,512.8l7.0,6.7l7.0,-6.7M838.0,514.7l7.0,6.7l7.0,-6.7M838.0,516.6l7.0,6.7l7.0,-6.7M838.0,518.5l7.0,6.7l7.0,-6.7M838.0,520.4l7.0,6.7l7.0,-6.7M838.0,522.3l7.0,6.7l7.0,-6.7" fill="none" stroke="#86d2dc" stroke-width="0.45"/>
<polygon points="838.00,429.20 845.00,435.90 852.00,429.20 852.00,523.70 845.00,530.40 838.00,523.70" fill="none" stroke="#86d2dc" stroke-width="0.5" stroke-linejoin="round" />
<polygon points="838.00,429.20 845.00,422.50 852.00,429.20 845.00,435.90" fill="#fff" stroke="#86d2dc" stroke-width="0.7" stroke-linejoin="round" />
<polygon points="1050.60,329.00 1057.60,335.70 1064.60,329.00 1064.60,370.50 1057.60,377.20 1050.60,370.50" fill="#f8fcfa" stroke="none" stroke-width="0.8" stroke-linejoin="round" />
<path d="M1050.6,330.9l7.0,6.7l7.0,-6.7M1050.6,332.8l7.0,6.7l7.0,-6.7M1050.6,334.7l7.0,6.7l7.0,-6.7M1050.6,336.6l7.0,6.7l7.0,-6.7M1050.6,338.5l7.0,6.7l7.0,-6.7M1050.6,340.4l7.0,6.7l7.0,-6.7M1050.6,342.3l7.0,6.7l7.0,-6.7M1050.6,344.2l7.0,6.7l7.0,-6.7M1050.6,346.1l7.0,6.7l7.0,-6.7M1050.6,348.0l7.0,6.7l7.0,-6.7M1050.6,349.9l7.0,6.7l7.0,-6.7M1050.6,351.8l7.0,6.7l7.0,-6.7M1050.6,353.7l7.0,6.7l7.0,-6.7M1050.6,355.6l7.0,6.7l7.0,-6.7M1050.6,357.5l7.0,6.7l7.0,-6.7M1050.6,359.4l7.0,6.7l7.0,-6.7M1050.6,361.3l7.0,6.7l7.0,-6.7M1050.6,363.2l7.0,6.7l7.0,-6.7M1050.6,365.1l7.0,6.7l7.0,-6.7M1050.6,367.0l7.0,6.7l7.0,-6.7M1050.6,368.9l7.0,6.7l7.0,-6.7" fill="none" stroke="#9cd9b8" stroke-width="0.45"/>
<polygon points="1050.60,329.00 1057.60,335.70 1064.60,329.00 1064.60,370.50 1057.60,377.20 1050.60,370.50" fill="none" stroke="#9cd9b8" stroke-width="0.5" stroke-linejoin="round" />
<polygon points="1050.60,329.00 1057.60,322.30 1064.60,329.00 1057.60,335.70" fill="#fff" stroke="#9cd9b8" stroke-width="0.7" stroke-linejoin="round" />
<polygon points="1040.80,283.10 1047.80,289.80 1054.80,283.10 1054.80,377.60 1047.80,384.30 1040.80,377.60" fill="#f8fcfa" stroke="none" stroke-width="0.8" stroke-linejoin="round" />
<path d="M1040.8,285.0l7.0,6.7l7.0,-6.7M1040.8,286.9l7.0,6.7l7.0,-6.7M1040.8,288.8l7.0,6.7l7.0,-6.7M1040.8,290.7l7.0,6.7l7.0,-6.7M1040.8,292.6l7.0,6.7l7.0,-6.7M1040.8,294.5l7.0,6.7l7.0,-6.7M1040.8,296.4l7.0,6.7l7.0,-6.7M1040.8,298.3l7.0,6.7l7.0,-6.7M1040.8,300.2l7.0,6.7l7.0,-6.7M1040.8,302.1l7.0,6.7l7.0,-6.7M1040.8,304.0l7.0,6.7l7.0,-6.7M1040.8,305.9l7.0,6.7l7.0,-6.7M1040.8,307.8l7.0,6.7l7.0,-6.7M1040.8,309.7l7.0,6.7l7.0,-6.7M1040.8,311.6l7.0,6.7l7.0,-6.7M1040.8,313.5l7.0,6.7l7.0,-6.7M1040.8,315.4l7.0,6.7l7.0,-6.7M1040.8,317.3l7.0,6.7l7.0,-6.7M1040.8,319.2l7.0,6.7l7.0,-6.7M1040.8,321.1l7.0,6.7l7.0,-6.7M1040.8,323.0l7.0,6.7l7.0,-6.7M1040.8,324.9l7.0,6.7l7.0,-6.7M1040.8,326.8l7.0,6.7l7.0,-6.7M1040.8,328.7l7.0,6.7l7.0,-6.7M1040.8,330.6l7.0,6.7l7.0,-6.7M1040.8,332.5l7.0,6.7l7.0,-6.7M1040.8,334.4l7.0,6.7l7.0,-6.7M1040.8,336.3l7.0,6.7l7.0,-6.7M1040.8,338.2l7.0,6.7l7.0,-6.7M1040.8,340.1l7.0,6.7l7.0,-6.7M1040.8,342.0l7.0,6.7l7.0,-6.7M1040.8,343.9l7.0,6.7l7.0,-6.7M1040.8,345.8l7.0,6.7l7.0,-6.7M1040.8,347.7l7.0,6.7l7.0,-6.7M1040.8,349.6l7.0,6.7l7.0,-6.7M1040.8,351.5l7.0,6.7l7.0,-6.7M1040.8,353.4l7.0,6.7l7.0,-6.7M1040.8,355.3l7.0,6.7l7.0,-6.7M1040.8,357.2l7.0,6.7l7.0,-6.7M1040.8,359.1l7.0,6.7l7.0,-6.7M1040.8,361.0l7.0,6.7l7.0,-6.7M1040.8,362.9l7.0,6.7l7.0,-6.7M1040.8,364.8l7.0,6.7l7.0,-6.7M1040.8,366.7l7.0,6.7l7.0,-6.7M1040.8,368.6l7.0,6.7l7.0,-6.7M1040.8,370.5l7.0,6.7l7.0,-6.7M1040.8,372.4l7.0,6.7l7.0,-6.7M1040.8,374.3l7.0,6.7l7.0,-6.7M1040.8,376.2l7.0,6.7l7.0,-6.7" fill="none" stroke="#9cd9b8" stroke-width="0.45"/>
<polygon points="1040.80,283.10 1047.80,289.80 1054.80,283.10 1054.80,377.60 1047.80,384.30 1040.80,377.60" fill="none" stroke="#9cd9b8" stroke-width="0.5" stroke-linejoin="round" />
<polygon points="1040.80,283.10 1047.80,276.40 1054.80,283.10 1047.80,289.80" fill="#fff" stroke="#9cd9b8" stroke-width="0.7" stroke-linejoin="round" />
<polygon points="1032.09,291.78 1039.09,298.48 1046.09,291.78 1046.09,386.28 1039.09,392.98 1032.09,386.28" fill="#f8fcfa" stroke="none" stroke-width="0.8" stroke-linejoin="round" />
<path d="M1032.1,293.7l7.0,6.7l7.0,-6.7M1032.1,295.6l7.0,6.7l7.0,-6.7M1032.1,297.5l7.0,6.7l7.0,-6.7M1032.1,299.4l7.0,6.7l7.0,-6.7M1032.1,301.3l7.0,6.7l7.0,-6.7M1032.1,303.2l7.0,6.7l7.0,-6.7M1032.1,305.1l7.0,6.7l7.0,-6.7M1032.1,307.0l7.0,6.7l7.0,-6.7M1032.1,308.9l7.0,6.7l7.0,-6.7M1032.1,310.8l7.0,6.7l7.0,-6.7M1032.1,312.7l7.0,6.7l7.0,-6.7M1032.1,314.6l7.0,6.7l7.0,-6.7M1032.1,316.5l7.0,6.7l7.0,-6.7M1032.1,318.4l7.0,6.7l7.0,-6.7M1032.1,320.3l7.0,6.7l7.0,-6.7M1032.1,322.2l7.0,6.7l7.0,-6.7M1032.1,324.1l7.0,6.7l7.0,-6.7M1032.1,326.0l7.0,6.7l7.0,-6.7M1032.1,327.9l7.0,6.7l7.0,-6.7M1032.1,329.8l7.0,6.7l7.0,-6.7M1032.1,331.7l7.0,6.7l7.0,-6.7M1032.1,333.6l7.0,6.7l7.0,-6.7M1032.1,335.5l7.0,6.7l7.0,-6.7M1032.1,337.4l7.0,6.7l7.0,-6.7M1032.1,339.3l7.0,6.7l7.0,-6.7M1032.1,341.2l7.0,6.7l7.0,-6.7M1032.1,343.1l7.0,6.7l7.0,-6.7M1032.1,345.0l7.0,6.7l7.0,-6.7M1032.1,346.9l7.0,6.7l7.0,-6.7M1032.1,348.8l7.0,6.7l7.0,-6.7M1032.1,350.7l7.0,6.7l7.0,-6.7M1032.1,352.6l7.0,6.7l7.0,-6.7M1032.1,354.5l7.0,6.7l7.0,-6.7M1032.1,356.4l7.0,6.7l7.0,-6.7M1032.1,358.3l7.0,6.7l7.0,-6.7M1032.1,360.2l7.0,6.7l7.0,-6.7M1032.1,362.1l7.0,6.7l7.0,-6.7M1032.1,364.0l7.0,6.7l7.0,-6.7M1032.1,365.9l7.0,6.7l7.0,-6.7M1032.1,367.8l7.0,6.7l7.0,-6.7M1032.1,369.7l7.0,6.7l7.0,-6.7M1032.1,371.6l7.0,6.7l7.0,-6.7M1032.1,373.5l7.0,6.7l7.0,-6.7M1032.1,375.4l7.0,6.7l7.0,-6.7M1032.1,377.3l7.0,6.7l7.0,-6.7M1032.1,379.2l7.0,6.7l7.0,-6.7M1032.1,381.1l7.0,6.7l7.0,-6.7M1032.1,383.0l7.0,6.7l7.0,-6.7M1032.1,384.9l7.0,6.7l7.0,-6.7" fill="none" stroke="#9cd9b8" stroke-width="0.45"/>
<polygon points="1032.09,291.78 1039.09,298.48 1046.09,291.78 1046.09,386.28 1039.09,392.98 1032.09,386.28" fill="none" stroke="#9cd9b8" stroke-width="0.5" stroke-linejoin="round" />
<polygon points="1032.09,291.78 1039.09,285.08 1046.09,291.78 1039.09,298.48" fill="#fff" stroke="#9cd9b8" stroke-width="0.7" stroke-linejoin="round" />
<polygon points="1023.37,300.46 1030.37,307.16 1037.37,300.46 1037.37,394.96 1030.37,401.66 1023.37,394.96" fill="#f8fcfa" stroke="none" stroke-width="0.8" stroke-linejoin="round" />
<path d="M1023.4,302.4l7.0,6.7l7.0,-6.7M1023.4,304.3l7.0,6.7l7.0,-6.7M1023.4,306.2l7.0,6.7l7.0,-6.7M1023.4,308.1l7.0,6.7l7.0,-6.7M1023.4,310.0l7.0,6.7l7.0,-6.7M1023.4,311.9l7.0,6.7l7.0,-6.7M1023.4,313.8l7.0,6.7l7.0,-6.7M1023.4,315.7l7.0,6.7l7.0,-6.7M1023.4,317.6l7.0,6.7l7.0,-6.7M1023.4,319.5l7.0,6.7l7.0,-6.7M1023.4,321.4l7.0,6.7l7.0,-6.7M1023.4,323.3l7.0,6.7l7.0,-6.7M1023.4,325.2l7.0,6.7l7.0,-6.7M1023.4,327.1l7.0,6.7l7.0,-6.7M1023.4,329.0l7.0,6.7l7.0,-6.7M1023.4,330.9l7.0,6.7l7.0,-6.7M1023.4,332.8l7.0,6.7l7.0,-6.7M1023.4,334.7l7.0,6.7l7.0,-6.7M1023.4,336.6l7.0,6.7l7.0,-6.7M1023.4,338.5l7.0,6.7l7.0,-6.7M1023.4,340.4l7.0,6.7l7.0,-6.7M1023.4,342.3l7.0,6.7l7.0,-6.7M1023.4,344.2l7.0,6.7l7.0,-6.7M1023.4,346.1l7.0,6.7l7.0,-6.7M1023.4,348.0l7.0,6.7l7.0,-6.7M1023.4,349.9l7.0,6.7l7.0,-6.7M1023.4,351.8l7.0,6.7l7.0,-6.7M1023.4,353.7l7.0,6.7l7.0,-6.7M1023.4,355.6l7.0,6.7l7.0,-6.7M1023.4,357.5l7.0,6.7l7.0,-6.7M1023.4,359.4l7.0,6.7l7.0,-6.7M1023.4,361.3l7.0,6.7l7.0,-6.7M1023.4,363.2l7.0,6.7l7.0,-6.7M1023.4,365.1l7.0,6.7l7.0,-6.7M1023.4,367.0l7.0,6.7l7.0,-6.7M1023.4,368.9l7.0,6.7l7.0,-6.7M1023.4,370.8l7.0,6.7l7.0,-6.7M1023.4,372.7l7.0,6.7l7.0,-6.7M1023.4,374.6l7.0,6.7l7.0,-6.7M1023.4,376.5l7.0,6.7l7.0,-6.7M1023.4,378.4l7.0,6.7l7.0,-6.7M1023.4,380.3l7.0,6.7l7.0,-6.7M1023.4,382.2l7.0,6.7l7.0,-6.7M1023.4,384.1l7.0,6.7l7.0,-6.7M1023.4,386.0l7.0,6.7l7.0,-6.7M1023.4,387.9l7.0,6.7l7.0,-6.7M1023.4,389.8l7.0,6.7l7.0,-6.7M1023.4,391.7l7.0,6.7l7.0,-6.7M1023.4,393.6l7.0,6.7l7.0,-6.7" fill="none" stroke="#9cd9b8" stroke-width="0.45"/>
<polygon points="1023.37,300.46 1030.37,307.16 1037.37,300.46 1037.37,394.96 1030.37,401.66 1023.37,394.96" fill="none" stroke="#9cd9b8" stroke-width="0.5" stroke-linejoin="round" />
<polygon points="1023.37,300.46 1030.37,293.76 1037.37,300.46 1030.37,307.16" fill="#fff" stroke="#9cd9b8" stroke-width="0.7" stroke-linejoin="round" />
<polygon points="1014.65,309.14 1021.65,315.84 1028.65,309.14 1028.65,403.64 1021.65,410.34 1014.65,403.64" fill="#f8fcfa" stroke="none" stroke-width="0.8" stroke-linejoin="round" />
<path d="M1014.7,311.0l7.0,6.7l7.0,-6.7M1014.7,312.9l7.0,6.7l7.0,-6.7M1014.7,314.8l7.0,6.7l7.0,-6.7M1014.7,316.7l7.0,6.7l7.0,-6.7M1014.7,318.6l7.0,6.7l7.0,-6.7M1014.7,320.5l7.0,6.7l7.0,-6.7M1014.7,322.4l7.0,6.7l7.0,-6.7M1014.7,324.3l7.0,6.7l7.0,-6.7M1014.7,326.2l7.0,6.7l7.0,-6.7M1014.7,328.1l7.0,6.7l7.0,-6.7M1014.7,330.0l7.0,6.7l7.0,-6.7M1014.7,331.9l7.0,6.7l7.0,-6.7M1014.7,333.8l7.0,6.7l7.0,-6.7M1014.7,335.7l7.0,6.7l7.0,-6.7M1014.7,337.6l7.0,6.7l7.0,-6.7M1014.7,339.5l7.0,6.7l7.0,-6.7M1014.7,341.4l7.0,6.7l7.0,-6.7M1014.7,343.3l7.0,6.7l7.0,-6.7M1014.7,345.2l7.0,6.7l7.0,-6.7M1014.7,347.1l7.0,6.7l7.0,-6.7M1014.7,349.0l7.0,6.7l7.0,-6.7M1014.7,350.9l7.0,6.7l7.0,-6.7M1014.7,352.8l7.0,6.7l7.0,-6.7M1014.7,354.7l7.0,6.7l7.0,-6.7M1014.7,356.6l7.0,6.7l7.0,-6.7M1014.7,358.5l7.0,6.7l7.0,-6.7M1014.7,360.4l7.0,6.7l7.0,-6.7M1014.7,362.3l7.0,6.7l7.0,-6.7M1014.7,364.2l7.0,6.7l7.0,-6.7M1014.7,366.1l7.0,6.7l7.0,-6.7M1014.7,368.0l7.0,6.7l7.0,-6.7M1014.7,369.9l7.0,6.7l7.0,-6.7M1014.7,371.8l7.0,6.7l7.0,-6.7M1014.7,373.7l7.0,6.7l7.0,-6.7M1014.7,375.6l7.0,6.7l7.0,-6.7M1014.7,377.5l7.0,6.7l7.0,-6.7M1014.7,379.4l7.0,6.7l7.0,-6.7M1014.7,381.3l7.0,6.7l7.0,-6.7M1014.7,383.2l7.0,6.7l7.0,-6.7M1014.7,385.1l7.0,6.7l7.0,-6.7M1014.7,387.0l7.0,6.7l7.0,-6.7M1014.7,388.9l7.0,6.7l7.0,-6.7M1014.7,390.8l7.0,6.7l7.0,-6.7M1014.7,392.7l7.0,6.7l7.0,-6.7M1014.7,394.6l7.0,6.7l7.0,-6.7M1014.7,396.5l7.0,6.7l7.0,-6.7M1014.7,398.4l7.0,6.7l7.0,-6.7M1014.7,400.3l7.0,6.7l7.0,-6.7M1014.7,402.2l7.0,6.7l7.0,-6.7" fill="none" stroke="#9cd9b8" stroke-width="0.45"/>
<polygon points="1014.65,309.14 1021.65,315.84 1028.65,309.14 1028.65,403.64 1021.65,410.34 1014.65,403.64" fill="none" stroke="#9cd9b8" stroke-width="0.5" stroke-linejoin="round" />
<polygon points="1014.65,309.14 1021.65,302.44 1028.65,309.14 1021.65,315.84" fill="#fff" stroke="#9cd9b8" stroke-width="0.7" stroke-linejoin="round" />
<polygon points="1005.94,317.82 1012.94,324.52 1019.94,317.82 1019.94,412.32 1012.94,419.02 1005.94,412.32" fill="#f8fcfa" stroke="none" stroke-width="0.8" stroke-linejoin="round" />
<path d="M1005.9,319.7l7.0,6.7l7.0,-6.7M1005.9,321.6l7.0,6.7l7.0,-6.7M1005.9,323.5l7.0,6.7l7.0,-6.7M1005.9,325.4l7.0,6.7l7.0,-6.7M1005.9,327.3l7.0,6.7l7.0,-6.7M1005.9,329.2l7.0,6.7l7.0,-6.7M1005.9,331.1l7.0,6.7l7.0,-6.7M1005.9,333.0l7.0,6.7l7.0,-6.7M1005.9,334.9l7.0,6.7l7.0,-6.7M1005.9,336.8l7.0,6.7l7.0,-6.7M1005.9,338.7l7.0,6.7l7.0,-6.7M1005.9,340.6l7.0,6.7l7.0,-6.7M1005.9,342.5l7.0,6.7l7.0,-6.7M1005.9,344.4l7.0,6.7l7.0,-6.7M1005.9,346.3l7.0,6.7l7.0,-6.7M1005.9,348.2l7.0,6.7l7.0,-6.7M1005.9,350.1l7.0,6.7l7.0,-6.7M1005.9,352.0l7.0,6.7l7.0,-6.7M1005.9,353.9l7.0,6.7l7.0,-6.7M1005.9,355.8l7.0,6.7l7.0,-6.7M1005.9,357.7l7.0,6.7l7.0,-6.7M1005.9,359.6l7.0,6.7l7.0,-6.7M1005.9,361.5l7.0,6.7l7.0,-6.7M1005.9,363.4l7.0,6.7l7.0,-6.7M1005.9,365.3l7.0,6.7l7.0,-6.7M1005.9,367.2l7.0,6.7l7.0,-6.7M1005.9,369.1l7.0,6.7l7.0,-6.7M1005.9,371.0l7.0,6.7l7.0,-6.7M1005.9,372.9l7.0,6.7l7.0,-6.7M1005.9,374.8l7.0,6.7l7.0,-6.7M1005.9,376.7l7.0,6.7l7.0,-6.7M1005.9,378.6l7.0,6.7l7.0,-6.7M1005.9,380.5l7.0,6.7l7.0,-6.7M1005.9,382.4l7.0,6.7l7.0,-6.7M1005.9,384.3l7.0,6.7l7.0,-6.7M1005.9,386.2l7.0,6.7l7.0,-6.7M1005.9,388.1l7.0,6.7l7.0,-6.7M1005.9,390.0l7.0,6.7l7.0,-6.7M1005.9,391.9l7.0,6.7l7.0,-6.7M1005.9,393.8l7.0,6.7l7.0,-6.7M1005.9,395.7l7.0,6.7l7.0,-6.7M1005.9,397.6l7.0,6.7l7.0,-6.7M1005.9,399.5l7.0,6.7l7.0,-6.7M1005.9,401.4l7.0,6.7l7.0,-6.7M1005.9,403.3l7.0,6.7l7.0,-6.7M1005.9,405.2l7.0,6.7l7.0,-6.7M1005.9,407.1l7.0,6.7l7.0,-6.7M1005.9,409.0l7.0,6.7l7.0,-6.7M1005.9,410.9l7.0,6.7l7.0,-6.7" fill="none" stroke="#9cd9b8" stroke-width="0.45"/>
<polygon points="1005.94,317.82 1012.94,324.52 1019.94,317.82 1019.94,412.32 1012.94,419.02 1005.94,412.32" fill="none" stroke="#9cd9b8" stroke-width="0.5" stroke-linejoin="round" />
<polygon points="1005.94,317.82 1012.94,311.12 1019.94,317.82 1012.94,324.52" fill="#fff" stroke="#9cd9b8" stroke-width="0.7" stroke-linejoin="round" />
<polygon points="997.23,326.50 1004.23,333.20 1011.23,326.50 1011.23,421.00 1004.23,427.70 997.23,421.00" fill="#f8fcfa" stroke="none" stroke-width="0.8" stroke-linejoin="round" />
<path d="M997.2,328.4l7.0,6.7l7.0,-6.7M997.2,330.3l7.0,6.7l7.0,-6.7M997.2,332.2l7.0,6.7l7.0,-6.7M997.2,334.1l7.0,6.7l7.0,-6.7M997.2,336.0l7.0,6.7l7.0,-6.7M997.2,337.9l7.0,6.7l7.0,-6.7M997.2,339.8l7.0,6.7l7.0,-6.7M997.2,341.7l7.0,6.7l7.0,-6.7M997.2,343.6l7.0,6.7l7.0,-6.7M997.2,345.5l7.0,6.7l7.0,-6.7M997.2,347.4l7.0,6.7l7.0,-6.7M997.2,349.3l7.0,6.7l7.0,-6.7M997.2,351.2l7.0,6.7l7.0,-6.7M997.2,353.1l7.0,6.7l7.0,-6.7M997.2,355.0l7.0,6.7l7.0,-6.7M997.2,356.9l7.0,6.7l7.0,-6.7M997.2,358.8l7.0,6.7l7.0,-6.7M997.2,360.7l7.0,6.7l7.0,-6.7M997.2,362.6l7.0,6.7l7.0,-6.7M997.2,364.5l7.0,6.7l7.0,-6.7M997.2,366.4l7.0,6.7l7.0,-6.7M997.2,368.3l7.0,6.7l7.0,-6.7M997.2,370.2l7.0,6.7l7.0,-6.7M997.2,372.1l7.0,6.7l7.0,-6.7M997.2,374.0l7.0,6.7l7.0,-6.7M997.2,375.9l7.0,6.7l7.0,-6.7M997.2,377.8l7.0,6.7l7.0,-6.7M997.2,379.7l7.0,6.7l7.0,-6.7M997.2,381.6l7.0,6.7l7.0,-6.7M997.2,383.5l7.0,6.7l7.0,-6.7M997.2,385.4l7.0,6.7l7.0,-6.7M997.2,387.3l7.0,6.7l7.0,-6.7M997.2,389.2l7.0,6.7l7.0,-6.7M997.2,391.1l7.0,6.7l7.0,-6.7M997.2,393.0l7.0,6.7l7.0,-6.7M997.2,394.9l7.0,6.7l7.0,-6.7M997.2,396.8l7.0,6.7l7.0,-6.7M997.2,398.7l7.0,6.7l7.0,-6.7M997.2,400.6l7.0,6.7l7.0,-6.7M997.2,402.5l7.0,6.7l7.0,-6.7M997.2,404.4l7.0,6.7l7.0,-6.7M997.2,406.3l7.0,6.7l7.0,-6.7M997.2,408.2l7.0,6.7l7.0,-6.7M997.2,410.1l7.0,6.7l7.0,-6.7M997.2,412.0l7.0,6.7l7.0,-6.7M997.2,413.9l7.0,6.7l7.0,-6.7M997.2,415.8l7.0,6.7l7.0,-6.7M997.2,417.7l7.0,6.7l7.0,-6.7M997.2,419.6l7.0,6.7l7.0,-6.7" fill="none" stroke="#9cd9b8" stroke-width="0.45"/>
<polygon points="997.23,326.50 1004.23,333.20 1011.23,326.50 1011.23,421.00 1004.23,427.70 997.23,421.00" fill="none" stroke="#9cd9b8" stroke-width="0.5" stroke-linejoin="round" />
<polygon points="997.23,326.50 1004.23,319.80 1011.23,326.50 1004.23,333.20" fill="#fff" stroke="#9cd9b8" stroke-width="0.7" stroke-linejoin="round" />
<polygon points="988.51,335.18 995.51,341.88 1002.51,335.18 1002.51,429.68 995.51,436.38 988.51,429.68" fill="#f8fcfa" stroke="none" stroke-width="0.8" stroke-linejoin="round" />
<path d="M988.5,337.1l7.0,6.7l7.0,-6.7M988.5,339.0l7.0,6.7l7.0,-6.7M988.5,340.9l7.0,6.7l7.0,-6.7M988.5,342.8l7.0,6.7l7.0,-6.7M988.5,344.7l7.0,6.7l7.0,-6.7M988.5,346.6l7.0,6.7l7.0,-6.7M988.5,348.5l7.0,6.7l7.0,-6.7M988.5,350.4l7.0,6.7l7.0,-6.7M988.5,352.3l7.0,6.7l7.0,-6.7M988.5,354.2l7.0,6.7l7.0,-6.7M988.5,356.1l7.0,6.7l7.0,-6.7M988.5,358.0l7.0,6.7l7.0,-6.7M988.5,359.9l7.0,6.7l7.0,-6.7M988.5,361.8l7.0,6.7l7.0,-6.7M988.5,363.7l7.0,6.7l7.0,-6.7M988.5,365.6l7.0,6.7l7.0,-6.7M988.5,367.5l7.0,6.7l7.0,-6.7M988.5,369.4l7.0,6.7l7.0,-6.7M988.5,371.3l7.0,6.7l7.0,-6.7M988.5,373.2l7.0,6.7l7.0,-6.7M988.5,375.1l7.0,6.7l7.0,-6.7M988.5,377.0l7.0,6.7l7.0,-6.7M988.5,378.9l7.0,6.7l7.0,-6.7M988.5,380.8l7.0,6.7l7.0,-6.7M988.5,382.7l7.0,6.7l7.0,-6.7M988.5,384.6l7.0,6.7l7.0,-6.7M988.5,386.5l7.0,6.7l7.0,-6.7M988.5,388.4l7.0,6.7l7.0,-6.7M988.5,390.3l7.0,6.7l7.0,-6.7M988.5,392.2l7.0,6.7l7.0,-6.7M988.5,394.1l7.0,6.7l7.0,-6.7M988.5,396.0l7.0,6.7l7.0,-6.7M988.5,397.9l7.0,6.7l7.0,-6.7M988.5,399.8l7.0,6.7l7.0,-6.7M988.5,401.7l7.0,6.7l7.0,-6.7M988.5,403.6l7.0,6.7l7.0,-6.7M988.5,405.5l7.0,6.7l7.0,-6.7M988.5,407.4l7.0,6.7l7.0,-6.7M988.5,409.3l7.0,6.7l7.0,-6.7M988.5,411.2l7.0,6.7l7.0,-6.7M988.5,413.1l7.0,6.7l7.0,-6.7M988.5,415.0l7.0,6.7l7.0,-6.7M988.5,416.9l7.0,6.7l7.0,-6.7M988.5,418.8l7.0,6.7l7.0,-6.7M988.5,420.7l7.0,6.7l7.0,-6.7M988.5,422.6l7.0,6.7l7.0,-6.7M988.5,424.5l7.0,6.7l7.0,-6.7M988.5,426.4l7.0,6.7l7.0,-6.7M988.5,428.3l7.0,6.7l7.0,-6.7" fill="none" stroke="#9cd9b8" stroke-width="0.45"/>
<polygon points="988.51,335.18 995.51,341.88 1002.51,335.18 1002.51,429.68 995.51,436.38 988.51,429.68" fill="none" stroke="#9cd9b8" stroke-width="0.5" stroke-linejoin="round" />
<polygon points="988.51,335.18 995.51,328.48 1002.51,335.18 995.51,341.88" fill="#fff" stroke="#9cd9b8" stroke-width="0.7" stroke-linejoin="round" />
<polygon points="979.79,343.86 986.79,350.56 993.79,343.86 993.79,438.36 986.79,445.06 979.79,438.36" fill="#f8fcfa" stroke="none" stroke-width="0.8" stroke-linejoin="round" />
<path d="M979.8,345.8l7.0,6.7l7.0,-6.7M979.8,347.7l7.0,6.7l7.0,-6.7M979.8,349.6l7.0,6.7l7.0,-6.7M979.8,351.5l7.0,6.7l7.0,-6.7M979.8,353.4l7.0,6.7l7.0,-6.7M979.8,355.3l7.0,6.7l7.0,-6.7M979.8,357.2l7.0,6.7l7.0,-6.7M979.8,359.1l7.0,6.7l7.0,-6.7M979.8,361.0l7.0,6.7l7.0,-6.7M979.8,362.9l7.0,6.7l7.0,-6.7M979.8,364.8l7.0,6.7l7.0,-6.7M979.8,366.7l7.0,6.7l7.0,-6.7M979.8,368.6l7.0,6.7l7.0,-6.7M979.8,370.5l7.0,6.7l7.0,-6.7M979.8,372.4l7.0,6.7l7.0,-6.7M979.8,374.3l7.0,6.7l7.0,-6.7M979.8,376.2l7.0,6.7l7.0,-6.7M979.8,378.1l7.0,6.7l7.0,-6.7M979.8,380.0l7.0,6.7l7.0,-6.7M979.8,381.9l7.0,6.7l7.0,-6.7M979.8,383.8l7.0,6.7l7.0,-6.7M979.8,385.7l7.0,6.7l7.0,-6.7M979.8,387.6l7.0,6.7l7.0,-6.7M979.8,389.5l7.0,6.7l7.0,-6.7M979.8,391.4l7.0,6.7l7.0,-6.7M979.8,393.3l7.0,6.7l7.0,-6.7M979.8,395.2l7.0,6.7l7.0,-6.7M979.8,397.1l7.0,6.7l7.0,-6.7M979.8,399.0l7.0,6.7l7.0,-6.7M979.8,400.9l7.0,6.7l7.0,-6.7M979.8,402.8l7.0,6.7l7.0,-6.7M979.8,404.7l7.0,6.7l7.0,-6.7M979.8,406.6l7.0,6.7l7.0,-6.7M979.8,408.5l7.0,6.7l7.0,-6.7M979.8,410.4l7.0,6.7l7.0,-6.7M979.8,412.3l7.0,6.7l7.0,-6.7M979.8,414.2l7.0,6.7l7.0,-6.7M979.8,416.1l7.0,6.7l7.0,-6.7M979.8,418.0l7.0,6.7l7.0,-6.7M979.8,419.9l7.0,6.7l7.0,-6.7M979.8,421.8l7.0,6.7l7.0,-6.7M979.8,423.7l7.0,6.7l7.0,-6.7M979.8,425.6l7.0,6.7l7.0,-6.7M979.8,427.5l7.0,6.7l7.0,-6.7M979.8,429.4l7.0,6.7l7.0,-6.7M979.8,431.3l7.0,6.7l7.0,-6.7M979.8,433.2l7.0,6.7l7.0,-6.7M979.8,435.1l7.0,6.7l7.0,-6.7M979.8,437.0l7.0,6.7l7.0,-6.7" fill="none" stroke="#9cd9b8" stroke-width="0.45"/>
<polygon points="979.79,343.86 986.79,350.56 993.79,343.86 993.79,438.36 986.79,445.06 979.79,438.36" fill="none" stroke="#9cd9b8" stroke-width="0.5" stroke-linejoin="round" />
<polygon points="979.79,343.86 986.79,337.16 993.79,343.86 986.79,350.56" fill="#fff" stroke="#9cd9b8" stroke-width="0.7" stroke-linejoin="round" />
<polygon points="971.08,352.54 978.08,359.24 985.08,352.54 985.08,447.04 978.08,453.74 971.08,447.04" fill="#f8fcfa" stroke="none" stroke-width="0.8" stroke-linejoin="round" />
<path d="M971.1,354.4l7.0,6.7l7.0,-6.7M971.1,356.3l7.0,6.7l7.0,-6.7M971.1,358.2l7.0,6.7l7.0,-6.7M971.1,360.1l7.0,6.7l7.0,-6.7M971.1,362.0l7.0,6.7l7.0,-6.7M971.1,363.9l7.0,6.7l7.0,-6.7M971.1,365.8l7.0,6.7l7.0,-6.7M971.1,367.7l7.0,6.7l7.0,-6.7M971.1,369.6l7.0,6.7l7.0,-6.7M971.1,371.5l7.0,6.7l7.0,-6.7M971.1,373.4l7.0,6.7l7.0,-6.7M971.1,375.3l7.0,6.7l7.0,-6.7M971.1,377.2l7.0,6.7l7.0,-6.7M971.1,379.1l7.0,6.7l7.0,-6.7M971.1,381.0l7.0,6.7l7.0,-6.7M971.1,382.9l7.0,6.7l7.0,-6.7M971.1,384.8l7.0,6.7l7.0,-6.7M971.1,386.7l7.0,6.7l7.0,-6.7M971.1,388.6l7.0,6.7l7.0,-6.7M971.1,390.5l7.0,6.7l7.0,-6.7M971.1,392.4l7.0,6.7l7.0,-6.7M971.1,394.3l7.0,6.7l7.0,-6.7M971.1,396.2l7.0,6.7l7.0,-6.7M971.1,398.1l7.0,6.7l7.0,-6.7M971.1,400.0l7.0,6.7l7.0,-6.7M971.1,401.9l7.0,6.7l7.0,-6.7M971.1,403.8l7.0,6.7l7.0,-6.7M971.1,405.7l7.0,6.7l7.0,-6.7M971.1,407.6l7.0,6.7l7.0,-6.7M971.1,409.5l7.0,6.7l7.0,-6.7M971.1,411.4l7.0,6.7l7.0,-6.7M971.1,413.3l7.0,6.7l7.0,-6.7M971.1,415.2l7.0,6.7l7.0,-6.7M971.1,417.1l7.0,6.7l7.0,-6.7M971.1,419.0l7.0,6.7l7.0,-6.7M971.1,420.9l7.0,6.7l7.0,-6.7M971.1,422.8l7.0,6.7l7.0,-6.7M971.1,424.7l7.0,6.7l7.0,-6.7M971.1,426.6l7.0,6.7l7.0,-6.7M971.1,428.5l7.0,6.7l7.0,-6.7M971.1,430.4l7.0,6.7l7.0,-6.7M971.1,432.3l7.0,6.7l7.0,-6.7M971.1,434.2l7.0,6.7l7.0,-6.7M971.1,436.1l7.0,6.7l7.0,-6.7M971.1,438.0l7.0,6.7l7.0,-6.7M971.1,439.9l7.0,6.7l7.0,-6.7M971.1,441.8l7.0,6.7l7.0,-6.7M971.1,443.7l7.0,6.7l7.0,-6.7M971.1,445.6l7.0,6.7l7.0,-6.7" fill="none" stroke="#9cd9b8" stroke-width="0.45"/>
<polygon points="971.08,352.54 978.08,359.24 985.08,352.54 985.08,447.04 978.08,453.74 971.08,447.04" fill="none" stroke="#9cd9b8" stroke-width="0.5" stroke-linejoin="round" />
<polygon points="971.08,352.54 978.08,345.84 985.08,352.54 978.08,359.24" fill="#fff" stroke="#9cd9b8" stroke-width="0.7" stroke-linejoin="round" />
<polygon points="962.37,361.22 969.37,367.92 976.37,361.22 976.37,455.72 969.37,462.42 962.37,455.72" fill="#f8fcfa" stroke="none" stroke-width="0.8" stroke-linejoin="round" />
<path d="M962.4,363.1l7.0,6.7l7.0,-6.7M962.4,365.0l7.0,6.7l7.0,-6.7M962.4,366.9l7.0,6.7l7.0,-6.7M962.4,368.8l7.0,6.7l7.0,-6.7M962.4,370.7l7.0,6.7l7.0,-6.7M962.4,372.6l7.0,6.7l7.0,-6.7M962.4,374.5l7.0,6.7l7.0,-6.7M962.4,376.4l7.0,6.7l7.0,-6.7M962.4,378.3l7.0,6.7l7.0,-6.7M962.4,380.2l7.0,6.7l7.0,-6.7M962.4,382.1l7.0,6.7l7.0,-6.7M962.4,384.0l7.0,6.7l7.0,-6.7M962.4,385.9l7.0,6.7l7.0,-6.7M962.4,387.8l7.0,6.7l7.0,-6.7M962.4,389.7l7.0,6.7l7.0,-6.7M962.4,391.6l7.0,6.7l7.0,-6.7M962.4,393.5l7.0,6.7l7.0,-6.7M962.4,395.4l7.0,6.7l7.0,-6.7M962.4,397.3l7.0,6.7l7.0,-6.7M962.4,399.2l7.0,6.7l7.0,-6.7M962.4,401.1l7.0,6.7l7.0,-6.7M962.4,403.0l7.0,6.7l7.0,-6.7M962.4,404.9l7.0,6.7l7.0,-6.7M962.4,406.8l7.0,6.7l7.0,-6.7M962.4,408.7l7.0,6.7l7.0,-6.7M962.4,410.6l7.0,6.7l7.0,-6.7M962.4,412.5l7.0,6.7l7.0,-6.7M962.4,414.4l7.0,6.7l7.0,-6.7M962.4,416.3l7.0,6.7l7.0,-6.7M962.4,418.2l7.0,6.7l7.0,-6.7M962.4,420.1l7.0,6.7l7.0,-6.7M962.4,422.0l7.0,6.7l7.0,-6.7M962.4,423.9l7.0,6.7l7.0,-6.7M962.4,425.8l7.0,6.7l7.0,-6.7M962.4,427.7l7.0,6.7l7.0,-6.7M962.4,429.6l7.0,6.7l7.0,-6.7M962.4,431.5l7.0,6.7l7.0,-6.7M962.4,433.4l7.0,6.7l7.0,-6.7M962.4,435.3l7.0,6.7l7.0,-6.7M962.4,437.2l7.0,6.7l7.0,-6.7M962.4,439.1l7.0,6.7l7.0,-6.7M962.4,441.0l7.0,6.7l7.0,-6.7M962.4,442.9l7.0,6.7l7.0,-6.7M962.4,444.8l7.0,6.7l7.0,-6.7M962.4,446.7l7.0,6.7l7.0,-6.7M962.4,448.6l7.0,6.7l7.0,-6.7M962.4,450.5l7.0,6.7l7.0,-6.7M962.4,452.4l7.0,6.7l7.0,-6.7M962.4,454.3l7.0,6.7l7.0,-6.7" fill="none" stroke="#9cd9b8" stroke-width="0.45"/>
<polygon points="962.37,361.22 969.37,367.92 976.37,361.22 976.37,455.72 969.37,462.42 962.37,455.72" fill="none" stroke="#9cd9b8" stroke-width="0.5" stroke-linejoin="round" />
<polygon points="962.37,361.22 969.37,354.52 976.37,361.22 969.37,367.92" fill="#fff" stroke="#9cd9b8" stroke-width="0.7" stroke-linejoin="round" />
<polygon points="953.65,369.90 960.65,376.60 967.65,369.90 967.65,464.40 960.65,471.10 953.65,464.40" fill="#f8fcfa" stroke="none" stroke-width="0.8" stroke-linejoin="round" />
<path d="M953.6,371.8l7.0,6.7l7.0,-6.7M953.6,373.7l7.0,6.7l7.0,-6.7M953.6,375.6l7.0,6.7l7.0,-6.7M953.6,377.5l7.0,6.7l7.0,-6.7M953.6,379.4l7.0,6.7l7.0,-6.7M953.6,381.3l7.0,6.7l7.0,-6.7M953.6,383.2l7.0,6.7l7.0,-6.7M953.6,385.1l7.0,6.7l7.0,-6.7M953.6,387.0l7.0,6.7l7.0,-6.7M953.6,388.9l7.0,6.7l7.0,-6.7M953.6,390.8l7.0,6.7l7.0,-6.7M953.6,392.7l7.0,6.7l7.0,-6.7M953.6,394.6l7.0,6.7l7.0,-6.7M953.6,396.5l7.0,6.7l7.0,-6.7M953.6,398.4l7.0,6.7l7.0,-6.7M953.6,400.3l7.0,6.7l7.0,-6.7M953.6,402.2l7.0,6.7l7.0,-6.7M953.6,404.1l7.0,6.7l7.0,-6.7M953.6,406.0l7.0,6.7l7.0,-6.7M953.6,407.9l7.0,6.7l7.0,-6.7M953.6,409.8l7.0,6.7l7.0,-6.7M953.6,411.7l7.0,6.7l7.0,-6.7M953.6,413.6l7.0,6.7l7.0,-6.7M953.6,415.5l7.0,6.7l7.0,-6.7M953.6,417.4l7.0,6.7l7.0,-6.7M953.6,419.3l7.0,6.7l7.0,-6.7M953.6,421.2l7.0,6.7l7.0,-6.7M953.6,423.1l7.0,6.7l7.0,-6.7M953.6,425.0l7.0,6.7l7.0,-6.7M953.6,426.9l7.0,6.7l7.0,-6.7M953.6,428.8l7.0,6.7l7.0,-6.7M953.6,430.7l7.0,6.7l7.0,-6.7M953.6,432.6l7.0,6.7l7.0,-6.7M953.6,434.5l7.0,6.7l7.0,-6.7M953.6,436.4l7.0,6.7l7.0,-6.7M953.6,438.3l7.0,6.7l7.0,-6.7M953.6,440.2l7.0,6.7l7.0,-6.7M953.6,442.1l7.0,6.7l7.0,-6.7M953.6,444.0l7.0,6.7l7.0,-6.7M953.6,445.9l7.0,6.7l7.0,-6.7M953.6,447.8l7.0,6.7l7.0,-6.7M953.6,449.7l7.0,6.7l7.0,-6.7M953.6,451.6l7.0,6.7l7.0,-6.7M953.6,453.5l7.0,6.7l7.0,-6.7M953.6,455.4l7.0,6.7l7.0,-6.7M953.6,457.3l7.0,6.7l7.0,-6.7M953.6,459.2l7.0,6.7l7.0,-6.7M953.6,461.1l7.0,6.7l7.0,-6.7M953.6,463.0l7.0,6.7l7.0,-6.7" fill="none" stroke="#9cd9b8" stroke-width="0.45"/>
<polygon points="953.65,369.90 960.65,376.60 967.65,369.90 967.65,464.40 960.65,471.10 953.65,464.40" fill="none" stroke="#9cd9b8" stroke-width="0.5" stroke-linejoin="round" />
<polygon points="953.65,369.90 960.65,363.20 967.65,369.90 960.65,376.60" fill="#fff" stroke="#9cd9b8" stroke-width="0.7" stroke-linejoin="round" />
<polygon points="944.93,378.58 951.93,385.28 958.93,378.58 958.93,473.08 951.93,479.78 944.93,473.08" fill="#f8fcfa" stroke="none" stroke-width="0.8" stroke-linejoin="round" />
<path d="M944.9,380.5l7.0,6.7l7.0,-6.7M944.9,382.4l7.0,6.7l7.0,-6.7M944.9,384.3l7.0,6.7l7.0,-6.7M944.9,386.2l7.0,6.7l7.0,-6.7M944.9,388.1l7.0,6.7l7.0,-6.7M944.9,390.0l7.0,6.7l7.0,-6.7M944.9,391.9l7.0,6.7l7.0,-6.7M944.9,393.8l7.0,6.7l7.0,-6.7M944.9,395.7l7.0,6.7l7.0,-6.7M944.9,397.6l7.0,6.7l7.0,-6.7M944.9,399.5l7.0,6.7l7.0,-6.7M944.9,401.4l7.0,6.7l7.0,-6.7M944.9,403.3l7.0,6.7l7.0,-6.7M944.9,405.2l7.0,6.7l7.0,-6.7M944.9,407.1l7.0,6.7l7.0,-6.7M944.9,409.0l7.0,6.7l7.0,-6.7M944.9,410.9l7.0,6.7l7.0,-6.7M944.9,412.8l7.0,6.7l7.0,-6.7M944.9,414.7l7.0,6.7l7.0,-6.7M944.9,416.6l7.0,6.7l7.0,-6.7M944.9,418.5l7.0,6.7l7.0,-6.7M944.9,420.4l7.0,6.7l7.0,-6.7M944.9,422.3l7.0,6.7l7.0,-6.7M944.9,424.2l7.0,6.7l7.0,-6.7M944.9,426.1l7.0,6.7l7.0,-6.7M944.9,428.0l7.0,6.7l7.0,-6.7M944.9,429.9l7.0,6.7l7.0,-6.7M944.9,431.8l7.0,6.7l7.0,-6.7M944.9,433.7l7.0,6.7l7.0,-6.7M944.9,435.6l7.0,6.7l7.0,-6.7M944.9,437.5l7.0,6.7l7.0,-6.7M944.9,439.4l7.0,6.7l7.0,-6.7M944.9,441.3l7.0,6.7l7.0,-6.7M944.9,443.2l7.0,6.7l7.0,-6.7M944.9,445.1l7.0,6.7l7.0,-6.7M944.9,447.0l7.0,6.7l7.0,-6.7M944.9,448.9l7.0,6.7l7.0,-6.7M944.9,450.8l7.0,6.7l7.0,-6.7M944.9,452.7l7.0,6.7l7.0,-6.7M944.9,454.6l7.0,6.7l7.0,-6.7M944.9,456.5l7.0,6.7l7.0,-6.7M944.9,458.4l7.0,6.7l7.0,-6.7M944.9,460.3l7.0,6.7l7.0,-6.7M944.9,462.2l7.0,6.7l7.0,-6.7M944.9,464.1l7.0,6.7l7.0,-6.7M944.9,466.0l7.0,6.7l7.0,-6.7M944.9,467.9l7.0,6.7l7.0,-6.7M944.9,469.8l7.0,6.7l7.0,-6.7M944.9,471.7l7.0,6.7l7.0,-6.7" fill="none" stroke="#9cd9b8" stroke-width="0.45"/>
<polygon points="944.93,378.58 951.93,385.28 958.93,378.58 958.93,473.08 951.93,479.78 944.93,473.08" fill="none" stroke="#9cd9b8" stroke-width="0.5" stroke-linejoin="round" />
<polygon points="944.93,378.58 951.93,371.88 958.93,378.58 951.93,385.28" fill="#fff" stroke="#9cd9b8" stroke-width="0.7" stroke-linejoin="round" />
<polygon points="936.22,387.26 943.22,393.96 950.22,387.26 950.22,481.76 943.22,488.46 936.22,481.76" fill="#f8fcfa" stroke="none" stroke-width="0.8" stroke-linejoin="round" />
<path d="M936.2,389.2l7.0,6.7l7.0,-6.7M936.2,391.1l7.0,6.7l7.0,-6.7M936.2,393.0l7.0,6.7l7.0,-6.7M936.2,394.9l7.0,6.7l7.0,-6.7M936.2,396.8l7.0,6.7l7.0,-6.7M936.2,398.7l7.0,6.7l7.0,-6.7M936.2,400.6l7.0,6.7l7.0,-6.7M936.2,402.5l7.0,6.7l7.0,-6.7M936.2,404.4l7.0,6.7l7.0,-6.7M936.2,406.3l7.0,6.7l7.0,-6.7M936.2,408.2l7.0,6.7l7.0,-6.7M936.2,410.1l7.0,6.7l7.0,-6.7M936.2,412.0l7.0,6.7l7.0,-6.7M936.2,413.9l7.0,6.7l7.0,-6.7M936.2,415.8l7.0,6.7l7.0,-6.7M936.2,417.7l7.0,6.7l7.0,-6.7M936.2,419.6l7.0,6.7l7.0,-6.7M936.2,421.5l7.0,6.7l7.0,-6.7M936.2,423.4l7.0,6.7l7.0,-6.7M936.2,425.3l7.0,6.7l7.0,-6.7M936.2,427.2l7.0,6.7l7.0,-6.7M936.2,429.1l7.0,6.7l7.0,-6.7M936.2,431.0l7.0,6.7l7.0,-6.7M936.2,432.9l7.0,6.7l7.0,-6.7M936.2,434.8l7.0,6.7l7.0,-6.7M936.2,436.7l7.0,6.7l7.0,-6.7M936.2,438.6l7.0,6.7l7.0,-6.7M936.2,440.5l7.0,6.7l7.0,-6.7M936.2,442.4l7.0,6.7l7.0,-6.7M936.2,444.3l7.0,6.7l7.0,-6.7M936.2,446.2l7.0,6.7l7.0,-6.7M936.2,448.1l7.0,6.7l7.0,-6.7M936.2,450.0l7.0,6.7l7.0,-6.7M936.2,451.9l7.0,6.7l7.0,-6.7M936.2,453.8l7.0,6.7l7.0,-6.7M936.2,455.7l7.0,6.7l7.0,-6.7M936.2,457.6l7.0,6.7l7.0,-6.7M936.2,459.5l7.0,6.7l7.0,-6.7M936.2,461.4l7.0,6.7l7.0,-6.7M936.2,463.3l7.0,6.7l7.0,-6.7M936.2,465.2l7.0,6.7l7.0,-6.7M936.2,467.1l7.0,6.7l7.0,-6.7M936.2,469.0l7.0,6.7l7.0,-6.7M936.2,470.9l7.0,6.7l7.0,-6.7M936.2,472.8l7.0,6.7l7.0,-6.7M936.2,474.7l7.0,6.7l7.0,-6.7M936.2,476.6l7.0,6.7l7.0,-6.7M936.2,478.5l7.0,6.7l7.0,-6.7M936.2,480.4l7.0,6.7l7.0,-6.7" fill="none" stroke="#9cd9b8" stroke-width="0.45"/>
<polygon points="936.22,387.26 943.22,393.96 950.22,387.26 950.22,481.76 943.22,488.46 936.22,481.76" fill="none" stroke="#9cd9b8" stroke-width="0.5" stroke-linejoin="round" />
<polygon points="936.22,387.26 943.22,380.56 950.22,387.26 943.22,393.96" fill="#fff" stroke="#9cd9b8" stroke-width="0.7" stroke-linejoin="round" />
<polygon points="927.50,395.94 934.50,402.64 941.50,395.94 941.50,490.44 934.50,497.14 927.50,490.44" fill="#f8fcfa" stroke="none" stroke-width="0.8" stroke-linejoin="round" />
<path d="M927.5,397.8l7.0,6.7l7.0,-6.7M927.5,399.7l7.0,6.7l7.0,-6.7M927.5,401.6l7.0,6.7l7.0,-6.7M927.5,403.5l7.0,6.7l7.0,-6.7M927.5,405.4l7.0,6.7l7.0,-6.7M927.5,407.3l7.0,6.7l7.0,-6.7M927.5,409.2l7.0,6.7l7.0,-6.7M927.5,411.1l7.0,6.7l7.0,-6.7M927.5,413.0l7.0,6.7l7.0,-6.7M927.5,414.9l7.0,6.7l7.0,-6.7M927.5,416.8l7.0,6.7l7.0,-6.7M927.5,418.7l7.0,6.7l7.0,-6.7M927.5,420.6l7.0,6.7l7.0,-6.7M927.5,422.5l7.0,6.7l7.0,-6.7M927.5,424.4l7.0,6.7l7.0,-6.7M927.5,426.3l7.0,6.7l7.0,-6.7M927.5,428.2l7.0,6.7l7.0,-6.7M927.5,430.1l7.0,6.7l7.0,-6.7M927.5,432.0l7.0,6.7l7.0,-6.7M927.5,433.9l7.0,6.7l7.0,-6.7M927.5,435.8l7.0,6.7l7.0,-6.7M927.5,437.7l7.0,6.7l7.0,-6.7M927.5,439.6l7.0,6.7l7.0,-6.7M927.5,441.5l7.0,6.7l7.0,-6.7M927.5,443.4l7.0,6.7l7.0,-6.7M927.5,445.3l7.0,6.7l7.0,-6.7M927.5,447.2l7.0,6.7l7.0,-6.7M927.5,449.1l7.0,6.7l7.0,-6.7M927.5,451.0l7.0,6.7l7.0,-6.7M927.5,452.9l7.0,6.7l7.0,-6.7M927.5,454.8l7.0,6.7l7.0,-6.7M927.5,456.7l7.0,6.7l7.0,-6.7M927.5,458.6l7.0,6.7l7.0,-6.7M927.5,460.5l7.0,6.7l7.0,-6.7M927.5,462.4l7.0,6.7l7.0,-6.7M927.5,464.3l7.0,6.7l7.0,-6.7M927.5,466.2l7.0,6.7l7.0,-6.7M927.5,468.1l7.0,6.7l7.0,-6.7M927.5,470.0l7.0,6.7l7.0,-6.7M927.5,471.9l7.0,6.7l7.0,-6.7M927.5,473.8l7.0,6.7l7.0,-6.7M927.5,475.7l7.0,6.7l7.0,-6.7M927.5,477.6l7.0,6.7l7.0,-6.7M927.5,479.5l7.0,6.7l7.0,-6.7M927.5,481.4l7.0,6.7l7.0,-6.7M927.5,483.3l7.0,6.7l7.0,-6.7M927.5,485.2l7.0,6.7l7.0,-6.7M927.5,487.1l7.0,6.7l7.0,-6.7M927.5,489.0l7.0,6.7l7.0,-6.7" fill="none" stroke="#9cd9b8" stroke-width="0.45"/>
<polygon points="927.50,395.94 934.50,402.64 941.50,395.94 941.50,490.44 934.50,497.14 927.50,490.44" fill="none" stroke="#9cd9b8" stroke-width="0.5" stroke-linejoin="round" />
<polygon points="927.50,395.94 934.50,389.24 941.50,395.94 934.50,402.64" fill="#fff" stroke="#9cd9b8" stroke-width="0.7" stroke-linejoin="round" />
<polygon points="918.79,404.62 925.79,411.32 932.79,404.62 932.79,499.12 925.79,505.82 918.79,499.12" fill="#f8fcfa" stroke="none" stroke-width="0.8" stroke-linejoin="round" />
<path d="M918.8,406.5l7.0,6.7l7.0,-6.7M918.8,408.4l7.0,6.7l7.0,-6.7M918.8,410.3l7.0,6.7l7.0,-6.7M918.8,412.2l7.0,6.7l7.0,-6.7M918.8,414.1l7.0,6.7l7.0,-6.7M918.8,416.0l7.0,6.7l7.0,-6.7M918.8,417.9l7.0,6.7l7.0,-6.7M918.8,419.8l7.0,6.7l7.0,-6.7M918.8,421.7l7.0,6.7l7.0,-6.7M918.8,423.6l7.0,6.7l7.0,-6.7M918.8,425.5l7.0,6.7l7.0,-6.7M918.8,427.4l7.0,6.7l7.0,-6.7M918.8,429.3l7.0,6.7l7.0,-6.7M918.8,431.2l7.0,6.7l7.0,-6.7M918.8,433.1l7.0,6.7l7.0,-6.7M918.8,435.0l7.0,6.7l7.0,-6.7M918.8,436.9l7.0,6.7l7.0,-6.7M918.8,438.8l7.0,6.7l7.0,-6.7M918.8,440.7l7.0,6.7l7.0,-6.7M918.8,442.6l7.0,6.7l7.0,-6.7M918.8,444.5l7.0,6.7l7.0,-6.7M918.8,446.4l7.0,6.7l7.0,-6.7M918.8,448.3l7.0,6.7l7.0,-6.7M918.8,450.2l7.0,6.7l7.0,-6.7M918.8,452.1l7.0,6.7l7.0,-6.7M918.8,454.0l7.0,6.7l7.0,-6.7M918.8,455.9l7.0,6.7l7.0,-6.7M918.8,457.8l7.0,6.7l7.0,-6.7M918.8,459.7l7.0,6.7l7.0,-6.7M918.8,461.6l7.0,6.7l7.0,-6.7M918.8,463.5l7.0,6.7l7.0,-6.7M918.8,465.4l7.0,6.7l7.0,-6.7M918.8,467.3l7.0,6.7l7.0,-6.7M918.8,469.2l7.0,6.7l7.0,-6.7M918.8,471.1l7.0,6.7l7.0,-6.7M918.8,473.0l7.0,6.7l7.0,-6.7M918.8,474.9l7.0,6.7l7.0,-6.7M918.8,476.8l7.0,6.7l7.0,-6.7M918.8,478.7l7.0,6.7l7.0,-6.7M918.8,480.6l7.0,6.7l7.0,-6.7M918.8,482.5l7.0,6.7l7.0,-6.7M918.8,484.4l7.0,6.7l7.0,-6.7M918.8,486.3l7.0,6.7l7.0,-6.7M918.8,488.2l7.0,6.7l7.0,-6.7M918.8,490.1l7.0,6.7l7.0,-6.7M918.8,492.0l7.0,6.7l7.0,-6.7M918.8,493.9l7.0,6.7l7.0,-6.7M918.8,495.8l7.0,6.7l7.0,-6.7M918.8,497.7l7.0,6.7l7.0,-6.7" fill="none" stroke="#9cd9b8" stroke-width="0.45"/>
<polygon points="918.79,404.62 925.79,411.32 932.79,404.62 932.79,499.12 925.79,505.82 918.79,499.12" fill="none" stroke="#9cd9b8" stroke-width="0.5" stroke-linejoin="round" />
<polygon points="918.79,404.62 925.79,397.92 932.79,404.62 925.79,411.32" fill="#fff" stroke="#9cd9b8" stroke-width="0.7" stroke-linejoin="round" />
<polygon points="910.08,413.30 917.08,420.00 924.08,413.30 924.08,507.80 917.08,514.50 910.08,507.80" fill="#f8fcfa" stroke="none" stroke-width="0.8" stroke-linejoin="round" />
<path d="M910.1,415.2l7.0,6.7l7.0,-6.7M910.1,417.1l7.0,6.7l7.0,-6.7M910.1,419.0l7.0,6.7l7.0,-6.7M910.1,420.9l7.0,6.7l7.0,-6.7M910.1,422.8l7.0,6.7l7.0,-6.7M910.1,424.7l7.0,6.7l7.0,-6.7M910.1,426.6l7.0,6.7l7.0,-6.7M910.1,428.5l7.0,6.7l7.0,-6.7M910.1,430.4l7.0,6.7l7.0,-6.7M910.1,432.3l7.0,6.7l7.0,-6.7M910.1,434.2l7.0,6.7l7.0,-6.7M910.1,436.1l7.0,6.7l7.0,-6.7M910.1,438.0l7.0,6.7l7.0,-6.7M910.1,439.9l7.0,6.7l7.0,-6.7M910.1,441.8l7.0,6.7l7.0,-6.7M910.1,443.7l7.0,6.7l7.0,-6.7M910.1,445.6l7.0,6.7l7.0,-6.7M910.1,447.5l7.0,6.7l7.0,-6.7M910.1,449.4l7.0,6.7l7.0,-6.7M910.1,451.3l7.0,6.7l7.0,-6.7M910.1,453.2l7.0,6.7l7.0,-6.7M910.1,455.1l7.0,6.7l7.0,-6.7M910.1,457.0l7.0,6.7l7.0,-6.7M910.1,458.9l7.0,6.7l7.0,-6.7M910.1,460.8l7.0,6.7l7.0,-6.7M910.1,462.7l7.0,6.7l7.0,-6.7M910.1,464.6l7.0,6.7l7.0,-6.7M910.1,466.5l7.0,6.7l7.0,-6.7M910.1,468.4l7.0,6.7l7.0,-6.7M910.1,470.3l7.0,6.7l7.0,-6.7M910.1,472.2l7.0,6.7l7.0,-6.7M910.1,474.1l7.0,6.7l7.0,-6.7M910.1,476.0l7.0,6.7l7.0,-6.7M910.1,477.9l7.0,6.7l7.0,-6.7M910.1,479.8l7.0,6.7l7.0,-6.7M910.1,481.7l7.0,6.7l7.0,-6.7M910.1,483.6l7.0,6.7l7.0,-6.7M910.1,485.5l7.0,6.7l7.0,-6.7M910.1,487.4l7.0,6.7l7.0,-6.7M910.1,489.3l7.0,6.7l7.0,-6.7M910.1,491.2l7.0,6.7l7.0,-6.7M910.1,493.1l7.0,6.7l7.0,-6.7M910.1,495.0l7.0,6.7l7.0,-6.7M910.1,496.9l7.0,6.7l7.0,-6.7M910.1,498.8l7.0,6.7l7.0,-6.7M910.1,500.7l7.0,6.7l7.0,-6.7M910.1,502.6l7.0,6.7l7.0,-6.7M910.1,504.5l7.0,6.7l7.0,-6.7M910.1,506.4l7.0,6.7l7.0,-6.7" fill="none" stroke="#9cd9b8" stroke-width="0.45"/>
<polygon points="910.08,413.30 917.08,420.00 924.08,413.30 924.08,507.80 917.08,514.50 910.08,507.80" fill="none" stroke="#9cd9b8" stroke-width="0.5" stroke-linejoin="round" />
<polygon points="910.08,413.30 917.08,406.60 924.08,413.30 917.08,420.00" fill="#fff" stroke="#9cd9b8" stroke-width="0.7" stroke-linejoin="round" />
<polygon points="901.36,421.98 908.36,428.68 915.36,421.98 915.36,516.48 908.36,523.18 901.36,516.48" fill="#f8fcfa" stroke="none" stroke-width="0.8" stroke-linejoin="round" />
<path d="M901.4,423.9l7.0,6.7l7.0,-6.7M901.4,425.8l7.0,6.7l7.0,-6.7M901.4,427.7l7.0,6.7l7.0,-6.7M901.4,429.6l7.0,6.7l7.0,-6.7M901.4,431.5l7.0,6.7l7.0,-6.7M901.4,433.4l7.0,6.7l7.0,-6.7M901.4,435.3l7.0,6.7l7.0,-6.7M901.4,437.2l7.0,6.7l7.0,-6.7M901.4,439.1l7.0,6.7l7.0,-6.7M901.4,441.0l7.0,6.7l7.0,-6.7M901.4,442.9l7.0,6.7l7.0,-6.7M901.4,444.8l7.0,6.7l7.0,-6.7M901.4,446.7l7.0,6.7l7.0,-6.7M901.4,448.6l7.0,6.7l7.0,-6.7M901.4,450.5l7.0,6.7l7.0,-6.7M901.4,452.4l7.0,6.7l7.0,-6.7M901.4,454.3l7.0,6.7l7.0,-6.7M901.4,456.2l7.0,6.7l7.0,-6.7M901.4,458.1l7.0,6.7l7.0,-6.7M901.4,460.0l7.0,6.7l7.0,-6.7M901.4,461.9l7.0,6.7l7.0,-6.7M901.4,463.8l7.0,6.7l7.0,-6.7M901.4,465.7l7.0,6.7l7.0,-6.7M901.4,467.6l7.0,6.7l7.0,-6.7M901.4,469.5l7.0,6.7l7.0,-6.7M901.4,471.4l7.0,6.7l7.0,-6.7M901.4,473.3l7.0,6.7l7.0,-6.7M901.4,475.2l7.0,6.7l7.0,-6.7M901.4,477.1l7.0,6.7l7.0,-6.7M901.4,479.0l7.0,6.7l7.0,-6.7M901.4,480.9l7.0,6.7l7.0,-6.7M901.4,482.8l7.0,6.7l7.0,-6.7M901.4,484.7l7.0,6.7l7.0,-6.7M901.4,486.6l7.0,6.7l7.0,-6.7M901.4,488.5l7.0,6.7l7.0,-6.7M901.4,490.4l7.0,6.7l7.0,-6.7M901.4,492.3l7.0,6.7l7.0,-6.7M901.4,494.2l7.0,6.7l7.0,-6.7M901.4,496.1l7.0,6.7l7.0,-6.7M901.4,498.0l7.0,6.7l7.0,-6.7M901.4,499.9l7.0,6.7l7.0,-6.7M901.4,501.8l7.0,6.7l7.0,-6.7M901.4,503.7l7.0,6.7l7.0,-6.7M901.4,505.6l7.0,6.7l7.0,-6.7M901.4,507.5l7.0,6.7l7.0,-6.7M901.4,509.4l7.0,6.7l7.0,-6.7M901.4,511.3l7.0,6.7l7.0,-6.7M901.4,513.2l7.0,6.7l7.0,-6.7M901.4,515.1l7.0,6.7l7.0,-6.7" fill="none" stroke="#9cd9b8" stroke-width="0.45"/>
<polygon points="901.36,421.98 908.36,428.68 915.36,421.98 915.36,516.48 908.36,523.18 901.36,516.48" fill="none" stroke="#9cd9b8" stroke-width="0.5" stroke-linejoin="round" />
<polygon points="901.36,421.98 908.36,415.28 915.36,421.98 908.36,428.68" fill="#fff" stroke="#9cd9b8" stroke-width="0.7" stroke-linejoin="round" />
<polygon points="892.64,430.66 899.64,437.36 906.64,430.66 906.64,525.16 899.64,531.86 892.64,525.16" fill="#f8fcfa" stroke="none" stroke-width="0.8" stroke-linejoin="round" />
<path d="M892.6,432.6l7.0,6.7l7.0,-6.7M892.6,434.5l7.0,6.7l7.0,-6.7M892.6,436.4l7.0,6.7l7.0,-6.7M892.6,438.3l7.0,6.7l7.0,-6.7M892.6,440.2l7.0,6.7l7.0,-6.7M892.6,442.1l7.0,6.7l7.0,-6.7M892.6,444.0l7.0,6.7l7.0,-6.7M892.6,445.9l7.0,6.7l7.0,-6.7M892.6,447.8l7.0,6.7l7.0,-6.7M892.6,449.7l7.0,6.7l7.0,-6.7M892.6,451.6l7.0,6.7l7.0,-6.7M892.6,453.5l7.0,6.7l7.0,-6.7M892.6,455.4l7.0,6.7l7.0,-6.7M892.6,457.3l7.0,6.7l7.0,-6.7M892.6,459.2l7.0,6.7l7.0,-6.7M892.6,461.1l7.0,6.7l7.0,-6.7M892.6,463.0l7.0,6.7l7.0,-6.7M892.6,464.9l7.0,6.7l7.0,-6.7M892.6,466.8l7.0,6.7l7.0,-6.7M892.6,468.7l7.0,6.7l7.0,-6.7M892.6,470.6l7.0,6.7l7.0,-6.7M892.6,472.5l7.0,6.7l7.0,-6.7M892.6,474.4l7.0,6.7l7.0,-6.7M892.6,476.3l7.0,6.7l7.0,-6.7M892.6,478.2l7.0,6.7l7.0,-6.7M892.6,480.1l7.0,6.7l7.0,-6.7M892.6,482.0l7.0,6.7l7.0,-6.7M892.6,483.9l7.0,6.7l7.0,-6.7M892.6,485.8l7.0,6.7l7.0,-6.7M892.6,487.7l7.0,6.7l7.0,-6.7M892.6,489.6l7.0,6.7l7.0,-6.7M892.6,491.5l7.0,6.7l7.0,-6.7M892.6,493.4l7.0,6.7l7.0,-6.7M892.6,495.3l7.0,6.7l7.0,-6.7M892.6,497.2l7.0,6.7l7.0,-6.7M892.6,499.1l7.0,6.7l7.0,-6.7M892.6,501.0l7.0,6.7l7.0,-6.7M892.6,502.9l7.0,6.7l7.0,-6.7M892.6,504.8l7.0,6.7l7.0,-6.7M892.6,506.7l7.0,6.7l7.0,-6.7M892.6,508.6l7.0,6.7l7.0,-6.7M892.6,510.5l7.0,6.7l7.0,-6.7M892.6,512.4l7.0,6.7l7.0,-6.7M892.6,514.3l7.0,6.7l7.0,-6.7M892.6,516.2l7.0,6.7l7.0,-6.7M892.6,518.1l7.0,6.7l7.0,-6.7M892.6,520.0l7.0,6.7l7.0,-6.7M892.6,521.9l7.0,6.7l7.0,-6.7M892.6,523.8l7.0,6.7l7.0,-6.7" fill="none" stroke="#9cd9b8" stroke-width="0.45"/>
<polygon points="892.64,430.66 899.64,437.36 906.64,430.66 906.64,525.16 899.64,531.86 892.64,525.16" fill="none" stroke="#9cd9b8" stroke-width="0.5" stroke-linejoin="round" />
<polygon points="892.64,430.66 899.64,423.96 906.64,430.66 899.64,437.36" fill="#fff" stroke="#9cd9b8" stroke-width="0.7" stroke-linejoin="round" />
<polygon points="883.93,439.34 890.93,446.04 897.93,439.34 897.93,533.84 890.93,540.54 883.93,533.84" fill="#f8fcfa" stroke="none" stroke-width="0.8" stroke-linejoin="round" />
<path d="M883.9,441.2l7.0,6.7l7.0,-6.7M883.9,443.1l7.0,6.7l7.0,-6.7M883.9,445.0l7.0,6.7l7.0,-6.7M883.9,446.9l7.0,6.7l7.0,-6.7M883.9,448.8l7.0,6.7l7.0,-6.7M883.9,450.7l7.0,6.7l7.0,-6.7M883.9,452.6l7.0,6.7l7.0,-6.7M883.9,454.5l7.0,6.7l7.0,-6.7M883.9,456.4l7.0,6.7l7.0,-6.7M883.9,458.3l7.0,6.7l7.0,-6.7M883.9,460.2l7.0,6.7l7.0,-6.7M883.9,462.1l7.0,6.7l7.0,-6.7M883.9,464.0l7.0,6.7l7.0,-6.7M883.9,465.9l7.0,6.7l7.0,-6.7M883.9,467.8l7.0,6.7l7.0,-6.7M883.9,469.7l7.0,6.7l7.0,-6.7M883.9,471.6l7.0,6.7l7.0,-6.7M883.9,473.5l7.0,6.7l7.0,-6.7M883.9,475.4l7.0,6.7l7.0,-6.7M883.9,477.3l7.0,6.7l7.0,-6.7M883.9,479.2l7.0,6.7l7.0,-6.7M883.9,481.1l7.0,6.7l7.0,-6.7M883.9,483.0l7.0,6.7l7.0,-6.7M883.9,484.9l7.0,6.7l7.0,-6.7M883.9,486.8l7.0,6.7l7.0,-6.7M883.9,488.7l7.0,6.7l7.0,-6.7M883.9,490.6l7.0,6.7l7.0,-6.7M883.9,492.5l7.0,6.7l7.0,-6.7M883.9,494.4l7.0,6.7l7.0,-6.7M883.9,496.3l7.0,6.7l7.0,-6.7M883.9,498.2l7.0,6.7l7.0,-6.7M883.9,500.1l7.0,6.7l7.0,-6.7M883.9,502.0l7.0,6.7l7.0,-6.7M883.9,503.9l7.0,6.7l7.0,-6.7M883.9,505.8l7.0,6.7l7.0,-6.7M883.9,507.7l7.0,6.7l7.0,-6.7M883.9,509.6l7.0,6.7l7.0,-6.7M883.9,511.5l7.0,6.7l7.0,-6.7M883.9,513.4l7.0,6.7l7.0,-6.7M883.9,515.3l7.0,6.7l7.0,-6.7M883.9,517.2l7.0,6.7l7.0,-6.7M883.9,519.1l7.0,6.7l7.0,-6.7M883.9,521.0l7.0,6.7l7.0,-6.7M883.9,522.9l7.0,6.7l7.0,-6.7M883.9,524.8l7.0,6.7l7.0,-6.7M883.9,526.7l7.0,6.7l7.0,-6.7M883.9,528.6l7.0,6.7l7.0,-6.7M883.9,530.5l7.0,6.7l7.0,-6.7M883.9,532.4l7.0,6.7l7.0,-6.7" fill="none" stroke="#9cd9b8" stroke-width="0.45"/>
<polygon points="883.93,439.34 890.93,446.04 897.93,439.34 897.93,533.84 890.93,540.54 883.93,533.84" fill="none" stroke="#9cd9b8" stroke-width="0.5" stroke-linejoin="round" />
<polygon points="883.93,439.34 890.93,432.64 897.93,439.34 890.93,446.04" fill="#fff" stroke="#9cd9b8" stroke-width="0.7" stroke-linejoin="round" />
<polygon points="875.22,448.02 882.22,454.72 889.22,448.02 889.22,542.52 882.22,549.22 875.22,542.52" fill="#f8fcfa" stroke="none" stroke-width="0.8" stroke-linejoin="round" />
<path d="M875.2,449.9l7.0,6.7l7.0,-6.7M875.2,451.8l7.0,6.7l7.0,-6.7M875.2,453.7l7.0,6.7l7.0,-6.7M875.2,455.6l7.0,6.7l7.0,-6.7M875.2,457.5l7.0,6.7l7.0,-6.7M875.2,459.4l7.0,6.7l7.0,-6.7M875.2,461.3l7.0,6.7l7.0,-6.7M875.2,463.2l7.0,6.7l7.0,-6.7M875.2,465.1l7.0,6.7l7.0,-6.7M875.2,467.0l7.0,6.7l7.0,-6.7M875.2,468.9l7.0,6.7l7.0,-6.7M875.2,470.8l7.0,6.7l7.0,-6.7M875.2,472.7l7.0,6.7l7.0,-6.7M875.2,474.6l7.0,6.7l7.0,-6.7M875.2,476.5l7.0,6.7l7.0,-6.7M875.2,478.4l7.0,6.7l7.0,-6.7M875.2,480.3l7.0,6.7l7.0,-6.7M875.2,482.2l7.0,6.7l7.0,-6.7M875.2,484.1l7.0,6.7l7.0,-6.7M875.2,486.0l7.0,6.7l7.0,-6.7M875.2,487.9l7.0,6.7l7.0,-6.7M875.2,489.8l7.0,6.7l7.0,-6.7M875.2,491.7l7.0,6.7l7.0,-6.7M875.2,493.6l7.0,6.7l7.0,-6.7M875.2,495.5l7.0,6.7l7.0,-6.7M875.2,497.4l7.0,6.7l7.0,-6.7M875.2,499.3l7.0,6.7l7.0,-6.7M875.2,501.2l7.0,6.7l7.0,-6.7M875.2,503.1l7.0,6.7l7.0,-6.7M875.2,505.0l7.0,6.7l7.0,-6.7M875.2,506.9l7.0,6.7l7.0,-6.7M875.2,508.8l7.0,6.7l7.0,-6.7M875.2,510.7l7.0,6.7l7.0,-6.7M875.2,512.6l7.0,6.7l7.0,-6.7M875.2,514.5l7.0,6.7l7.0,-6.7M875.2,516.4l7.0,6.7l7.0,-6.7M875.2,518.3l7.0,6.7l7.0,-6.7M875.2,520.2l7.0,6.7l7.0,-6.7M875.2,522.1l7.0,6.7l7.0,-6.7M875.2,524.0l7.0,6.7l7.0,-6.7M875.2,525.9l7.0,6.7l7.0,-6.7M875.2,527.8l7.0,6.7l7.0,-6.7M875.2,529.7l7.0,6.7l7.0,-6.7M875.2,531.6l7.0,6.7l7.0,-6.7M875.2,533.5l7.0,6.7l7.0,-6.7M875.2,535.4l7.0,6.7l7.0,-6.7M875.2,537.3l7.0,6.7l7.0,-6.7M875.2,539.2l7.0,6.7l7.0,-6.7M875.2,541.1l7.0,6.7l7.0,-6.7" fill="none" stroke="#9cd9b8" stroke-width="0.45"/>
<polygon points="875.22,448.02 882.22,454.72 889.22,448.02 889.22,542.52 882.22,549.22 875.22,542.52" fill="none" stroke="#9cd9b8" stroke-width="0.5" stroke-linejoin="round" />
<polygon points="875.22,448.02 882.22,441.32 889.22,448.02 882.22,454.72" fill="#fff" stroke="#9cd9b8" stroke-width="0.7" stroke-linejoin="round" />
<polygon points="866.50,456.70 873.50,463.40 880.50,456.70 880.50,551.20 873.50,557.90 866.50,551.20" fill="#f8fcfa" stroke="none" stroke-width="0.8" stroke-linejoin="round" />
<path d="M866.5,458.6l7.0,6.7l7.0,-6.7M866.5,460.5l7.0,6.7l7.0,-6.7M866.5,462.4l7.0,6.7l7.0,-6.7M866.5,464.3l7.0,6.7l7.0,-6.7M866.5,466.2l7.0,6.7l7.0,-6.7M866.5,468.1l7.0,6.7l7.0,-6.7M866.5,470.0l7.0,6.7l7.0,-6.7M866.5,471.9l7.0,6.7l7.0,-6.7M866.5,473.8l7.0,6.7l7.0,-6.7M866.5,475.7l7.0,6.7l7.0,-6.7M866.5,477.6l7.0,6.7l7.0,-6.7M866.5,479.5l7.0,6.7l7.0,-6.7M866.5,481.4l7.0,6.7l7.0,-6.7M866.5,483.3l7.0,6.7l7.0,-6.7M866.5,485.2l7.0,6.7l7.0,-6.7M866.5,487.1l7.0,6.7l7.0,-6.7M866.5,489.0l7.0,6.7l7.0,-6.7M866.5,490.9l7.0,6.7l7.0,-6.7M866.5,492.8l7.0,6.7l7.0,-6.7M866.5,494.7l7.0,6.7l7.0,-6.7M866.5,496.6l7.0,6.7l7.0,-6.7M866.5,498.5l7.0,6.7l7.0,-6.7M866.5,500.4l7.0,6.7l7.0,-6.7M866.5,502.3l7.0,6.7l7.0,-6.7M866.5,504.2l7.0,6.7l7.0,-6.7M866.5,506.1l7.0,6.7l7.0,-6.7M866.5,508.0l7.0,6.7l7.0,-6.7M866.5,509.9l7.0,6.7l7.0,-6.7M866.5,511.8l7.0,6.7l7.0,-6.7M866.5,513.7l7.0,6.7l7.0,-6.7M866.5,515.6l7.0,6.7l7.0,-6.7M866.5,517.5l7.0,6.7l7.0,-6.7M866.5,519.4l7.0,6.7l7.0,-6.7M866.5,521.3l7.0,6.7l7.0,-6.7M866.5,523.2l7.0,6.7l7.0,-6.7M866.5,525.1l7.0,6.7l7.0,-6.7M866.5,527.0l7.0,6.7l7.0,-6.7M866.5,528.9l7.0,6.7l7.0,-6.7M866.5,530.8l7.0,6.7l7.0,-6.7M866.5,532.7l7.0,6.7l7.0,-6.7M866.5,534.6l7.0,6.7l7.0,-6.7M866.5,536.5l7.0,6.7l7.0,-6.7M866.5,538.4l7.0,6.7l7.0,-6.7M866.5,540.3l7.0,6.7l7.0,-6.7M866.5,542.2l7.0,6.7l7.0,-6.7M866.5,544.1l7.0,6.7l7.0,-6.7M866.5,546.0l7.0,6.7l7.0,-6.7M866.5,547.9l7.0,6.7l7.0,-6.7M866.5,549.8l7.0,6.7l7.0,-6.7" fill="none" stroke="#9cd9b8" stroke-width="0.45"/>
<polygon points="866.50,456.70 873.50,463.40 880.50,456.70 880.50,551.20 873.50,557.90 866.50,551.20" fill="none" stroke="#9cd9b8" stroke-width="0.5" stroke-linejoin="round" />
<polygon points="866.50,456.70 873.50,450.00 880.50,456.70 873.50,463.40" fill="#fff" stroke="#9cd9b8" stroke-width="0.7" stroke-linejoin="round" />
<polygon points="811.00,401.50 818.00,408.50 825.00,401.50 825.00,495.25 818.00,502.25 811.00,495.25" fill="#c0d5e9" stroke="none" stroke-width="0.8" stroke-linejoin="round" />
<path d="M811.0,403.9l7.0,7.0l7.0,-7.0M811.0,406.3l7.0,7.0l7.0,-7.0M811.0,408.7l7.0,7.0l7.0,-7.0M811.0,411.1l7.0,7.0l7.0,-7.0M811.0,413.5l7.0,7.0l7.0,-7.0M811.0,415.9l7.0,7.0l7.0,-7.0M811.0,418.3l7.0,7.0l7.0,-7.0M811.0,420.7l7.0,7.0l7.0,-7.0M811.0,423.1l7.0,7.0l7.0,-7.0M811.0,425.5l7.0,7.0l7.0,-7.0M811.0,427.9l7.0,7.0l7.0,-7.0M811.0,430.3l7.0,7.0l7.0,-7.0M811.0,432.7l7.0,7.0l7.0,-7.0M811.0,435.1l7.0,7.0l7.0,-7.0M811.0,437.5l7.0,7.0l7.0,-7.0M811.0,439.9l7.0,7.0l7.0,-7.0M811.0,442.3l7.0,7.0l7.0,-7.0M811.0,444.7l7.0,7.0l7.0,-7.0M811.0,447.1l7.0,7.0l7.0,-7.0M811.0,449.5l7.0,7.0l7.0,-7.0M811.0,451.9l7.0,7.0l7.0,-7.0M811.0,454.3l7.0,7.0l7.0,-7.0M811.0,456.7l7.0,7.0l7.0,-7.0M811.0,459.1l7.0,7.0l7.0,-7.0M811.0,461.5l7.0,7.0l7.0,-7.0M811.0,463.9l7.0,7.0l7.0,-7.0M811.0,466.3l7.0,7.0l7.0,-7.0M811.0,468.7l7.0,7.0l7.0,-7.0M811.0,471.1l7.0,7.0l7.0,-7.0M811.0,473.5l7.0,7.0l7.0,-7.0M811.0,475.9l7.0,7.0l7.0,-7.0M811.0,478.3l7.0,7.0l7.0,-7.0M811.0,480.7l7.0,7.0l7.0,-7.0M811.0,483.1l7.0,7.0l7.0,-7.0M811.0,485.5l7.0,7.0l7.0,-7.0M811.0,487.9l7.0,7.0l7.0,-7.0M811.0,490.3l7.0,7.0l7.0,-7.0M811.0,492.7l7.0,7.0l7.0,-7.0M811.0,495.1l7.0,7.0l7.0,-7.0" fill="none" stroke="#fff" stroke-width="0.6"/>
<polygon points="811.00,401.50 818.00,408.50 825.00,401.50 825.00,495.25 818.00,502.25 811.00,495.25" fill="none" stroke="#8fb4d8" stroke-width="0.5" stroke-linejoin="round" />
<line x1="818.00" y1="408.50" x2="818.00" y2="502.25" stroke="#8fb4d8" stroke-width="0.5" />
<polygon points="811.00,401.50 818.00,394.50 825.00,401.50 818.00,408.50" fill="#fff" stroke="#8fb4d8" stroke-width="0.7" stroke-linejoin="round" />
<polygon points="783.00,404.40 790.00,411.30 797.00,404.40 797.00,467.65 790.00,474.55 783.00,467.65" fill="#c6cdef" stroke="none" stroke-width="0.8" stroke-linejoin="round" />
<path d="M783.0,406.9l7.0,6.9l7.0,-6.9M783.0,409.4l7.0,6.9l7.0,-6.9M783.0,411.9l7.0,6.9l7.0,-6.9M783.0,414.4l7.0,6.9l7.0,-6.9M783.0,416.9l7.0,6.9l7.0,-6.9M783.0,419.4l7.0,6.9l7.0,-6.9M783.0,421.9l7.0,6.9l7.0,-6.9M783.0,424.4l7.0,6.9l7.0,-6.9M783.0,426.9l7.0,6.9l7.0,-6.9M783.0,429.4l7.0,6.9l7.0,-6.9M783.0,431.9l7.0,6.9l7.0,-6.9M783.0,434.4l7.0,6.9l7.0,-6.9M783.0,436.9l7.0,6.9l7.0,-6.9M783.0,439.4l7.0,6.9l7.0,-6.9M783.0,441.9l7.0,6.9l7.0,-6.9M783.0,444.4l7.0,6.9l7.0,-6.9M783.0,446.9l7.0,6.9l7.0,-6.9M783.0,449.4l7.0,6.9l7.0,-6.9M783.0,451.9l7.0,6.9l7.0,-6.9M783.0,454.4l7.0,6.9l7.0,-6.9M783.0,456.9l7.0,6.9l7.0,-6.9M783.0,459.4l7.0,6.9l7.0,-6.9M783.0,461.9l7.0,6.9l7.0,-6.9M783.0,464.4l7.0,6.9l7.0,-6.9M783.0,466.9l7.0,6.9l7.0,-6.9" fill="none" stroke="#fff" stroke-width="0.6"/>
<polygon points="783.00,404.40 790.00,411.30 797.00,404.40 797.00,467.65 790.00,474.55 783.00,467.65" fill="none" stroke="#8c9ad8" stroke-width="0.5" stroke-linejoin="round" />
<line x1="790.00" y1="411.30" x2="790.00" y2="474.55" stroke="#8c9ad8" stroke-width="0.5" />
<polygon points="783.00,404.40 790.00,397.50 797.00,404.40 790.00,411.30" fill="#fff" stroke="#8c9ad8" stroke-width="0.7" stroke-linejoin="round" />
<text transform="translate(726.25,468.75) rotate(-45.0)" font-size="7.26" fill="#2248a8" stroke="#2248a8" stroke-width="0.24" font-weight="bold" textLength="32.72" lengthAdjust="spacingAndGlyphs" dominant-baseline="central">1,043,233</text>
<text transform="translate(722.50,482.00) rotate(-45.0)" font-size="5.50" fill="#505050" stroke="#505050" stroke-width="0.17" textLength="42.97" lengthAdjust="spacingAndGlyphs" dominant-baseline="central">BARRELS OF OIL</text>
<text transform="translate(735.50,479.50) rotate(-45.0)" font-size="5.50" fill="#505050" stroke="#505050" stroke-width="0.17" textLength="33.78" lengthAdjust="spacingAndGlyphs" dominant-baseline="central">CONSUMED</text>
<text transform="translate(748.75,496.25) rotate(-45.0)" font-size="7.26" fill="#2a55b8" stroke="#2a55b8" stroke-width="0.24" font-weight="bold" textLength="36.77" lengthAdjust="spacingAndGlyphs" dominant-baseline="central">34,470,600</text>
<text transform="translate(745.75,508.75) rotate(-45.0)" font-size="5.50" fill="#505050" stroke="#505050" stroke-width="0.17" textLength="47.22" lengthAdjust="spacingAndGlyphs" dominant-baseline="central">CARS TAKEN OFF</text>
<text transform="translate(743.75,520.00) rotate(-45.0)" font-size="5.50" fill="#505050" stroke="#505050" stroke-width="0.17" textLength="55.69" lengthAdjust="spacingAndGlyphs" dominant-baseline="central">THE ROAD FOR A DAY</text>
<text transform="translate(777.50,525.50) rotate(-45.0)" font-size="7.26" fill="#2a6aa8" stroke="#2a6aa8" stroke-width="0.24" font-weight="bold" textLength="36.25" lengthAdjust="spacingAndGlyphs" dominant-baseline="central">50,477,101</text>
<text transform="translate(763.00,550.50) rotate(-45.0)" font-size="5.50" fill="#505050" stroke="#505050" stroke-width="0.17" textLength="62.24" lengthAdjust="spacingAndGlyphs" dominant-baseline="central">GALLONS OF GASOLINE</text>
<text transform="translate(791.25,532.50) rotate(-45.0)" font-size="5.50" fill="#505050" stroke="#505050" stroke-width="0.17" textLength="32.35" lengthAdjust="spacingAndGlyphs" dominant-baseline="central">CONSUMED</text>
<text transform="translate(802.50,553.75) rotate(-45.0)" font-size="7.26" fill="#4cb8c8" stroke="#4cb8c8" stroke-width="0.24" font-weight="bold" textLength="39.27" lengthAdjust="spacingAndGlyphs" dominant-baseline="central">481,836,735</text>
<text transform="translate(801.25,566.25) rotate(-45.0)" font-size="5.50" fill="#505050" stroke="#505050" stroke-width="0.17" textLength="48.62" lengthAdjust="spacingAndGlyphs" dominant-baseline="central">POUNDS OF COAL</text>
<text transform="translate(825.00,553.75) rotate(-45.0)" font-size="5.50" fill="#505050" stroke="#505050" stroke-width="0.17" textLength="22.98" lengthAdjust="spacingAndGlyphs" dominant-baseline="central">BURNED</text>
<text transform="translate(826.25,585.50) rotate(-45.0)" font-size="7.26" fill="#6cc08a" stroke="#6cc08a" stroke-width="0.24" font-weight="bold" textLength="46.34" lengthAdjust="spacingAndGlyphs" dominant-baseline="central">1,068,071,429</text>
<text transform="translate(836.25,587.00) rotate(-45.0)" font-size="5.50" fill="#505050" stroke="#505050" stroke-width="0.17" textLength="37.83" lengthAdjust="spacingAndGlyphs" dominant-baseline="central">MILES DRIVEN</text>
<text transform="translate(840.00,593.75) rotate(-45.0)" font-size="5.50" fill="#505050" stroke="#505050" stroke-width="0.17" textLength="41.54" lengthAdjust="spacingAndGlyphs" dominant-baseline="central">BY AN AVG CAR</text>
</g></svg></body></html>
